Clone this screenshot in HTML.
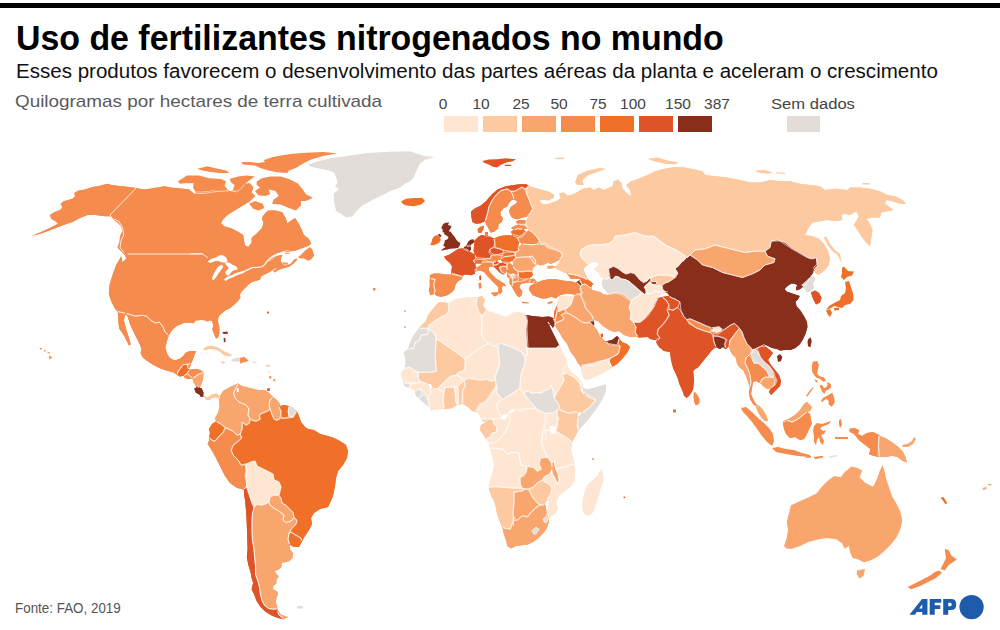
<!DOCTYPE html>
<html><head><meta charset="utf-8">
<style>
html,body{margin:0;padding:0;background:#fff;}
body{width:1000px;height:630px;position:relative;overflow:hidden;font-family:"Liberation Sans",sans-serif;}
.t{position:absolute;white-space:nowrap;line-height:1;transform-origin:0 0;}
#bar{position:absolute;left:0;top:3px;width:1000px;height:5px;background:#000;}
#title{left:15.8px;top:21px;font-size:34.5px;font-weight:bold;color:#000;transform:scaleX(0.982);}
#sub{left:15.5px;top:60.5px;font-size:20px;color:#111;transform:scaleX(1.0275);}
#unit{left:15.1px;top:93px;font-size:17px;color:#5a5a5a;transform:scaleX(1.11);}
.lg{position:absolute;top:116px;height:16px;width:34px;}
.ll{font-size:15.5px;color:#444;top:96px;transform:translateX(-50%);}
#src{left:15px;top:601px;font-size:14px;color:#555;transform:scaleX(0.957);}
</style></head><body>
<div id="bar"></div>
<div class="t" id="title">Uso de fertilizantes nitrogenados no mundo</div>
<div class="t" id="sub">Esses produtos favorecem o desenvolvimento das partes aéreas da planta e aceleram o crescimento</div>
<div class="t" id="unit">Quilogramas por hectares de terra cultivada</div>
<div class="lg" style="left:444px;background:#fee6d3"></div>
<div class="lg" style="left:483px;background:#fdc9a0"></div>
<div class="lg" style="left:522px;background:#f9a66e"></div>
<div class="lg" style="left:561px;background:#f58b4c"></div>
<div class="lg" style="left:600px;background:#f0702a"></div>
<div class="lg" style="left:639px;background:#de5426"></div>
<div class="lg" style="left:678px;background:#8a2e1c"></div>
<div class="lg" style="left:787px;width:33px;background:#e2ddd8"></div>
<div class="t ll" style="left:443px">0</div>
<div class="t ll" style="left:481px">10</div>
<div class="t ll" style="left:521px">25</div>
<div class="t ll" style="left:559px">50</div>
<div class="t ll" style="left:598px">75</div>
<div class="t ll" style="left:633px">100</div>
<div class="t ll" style="left:678px">150</div>
<div class="t ll" style="left:717px">387</div>
<div class="t ll" style="left:771px;transform:scaleX(1.07)">Sem dados</div>
<div class="t" id="src">Fonte: FAO, 2019</div>
<svg id="afp" style="position:absolute;left:900px;top:590px" width="100" height="40" viewBox="0 0 1111 444">
<g fill="#1e5bab">
<circle cx="795" cy="190" r="135"/>
<path fill-rule="evenodd" d="M105 275L245 100L305 100L305 275L247 275L247 245L185 245L165 275ZM213 205L247 205L247 158Z"/>
<path d="M330 100L458 100L458 142L386 142L386 170L448 170L448 210L386 210L386 275L330 275Z"/>
<path fill-rule="evenodd" d="M480 100L565 100Q625 100 625 160Q625 222 565 222L536 222L536 275L480 275ZM536 142L558 142Q575 142 575 161Q575 180 558 180L536 180Z"/>
</g>
</svg>
<svg style="position:absolute;left:0;top:0" width="1000" height="630" viewBox="0 0 1000 630">
<path d="M125.1 314.5L125.4 312.9L126.6 314.8L135.3 317.4L142.3 316.6L145.9 317.3L150.1 321.5L155.3 324.1L156.1 324.2L158.8 323.6L161.6 327.0L164.2 333.1L168.3 336.6L168.7 335.4L171.2 331.2L176.2 326.2L183.8 323.0L190.0 322.5L193.0 323.2L194.5 322.5L195.0 320.8L197.8 320.2L201.5 320.0L204.5 320.2L207.5 321.5L209.2 320.5L211.5 320.8L213.0 324.0L213.2 326.5L212.2 329.0L215.5 337.8L216.5 338.5L218.0 337.8L219.2 334.2L219.5 330.8L219.2 326.5L218.2 322.2L218.0 318.8L219.0 316.2L221.2 313.8L227.2 309.0L227.2 310.0L230.8 307.6L234.4 304.6L238.0 301.0L240.4 297.4L239.8 295.0L241.6 291.4L248.8 284.2L252.4 281.8L257.2 280.6L260.2 279.4L260.8 276.4L269.2 272.2L272.6 270.1L274.6 272.4L278.8 269.8L289.6 266.4L293.2 263.8L296.2 260.8L297.4 258.4L294.4 259.6L292.0 262.4L287.8 265.9L287.8 263.3L285.1 263.7L283.3 262.6L281.6 262.6L280.6 260.2L281.2 257.2L282.4 254.8L273.4 256.9L273.1 255.9L281.2 251.8L284.8 250.7L284.8 252.1L286.1 251.7L289.6 252.2L289.6 250.9L292.0 251.2L295.6 250.6L308.8 245.8L308.6 245.5L311.2 243.8L308.8 238.8L303.8 235.0L301.2 228.8L298.8 223.8L295.0 218.1L287.3 223.2L285.6 218.1L282.2 212.2L275.4 210.5L268.6 210.5L265.2 213.0L261.8 218.1L263.5 223.2L261.8 228.3L256.7 233.4L251.6 237.7L251.6 242.8L248.2 247.0L244.8 245.3L243.1 235.1L238.0 231.7L231.2 228.3L224.4 226.6L221.0 223.2L222.7 219.8L227.8 214.7L247.9 202.3L248.3 202.7L255.0 196.0L251.9 192.9L251.4 193.3L253.3 187.5L249.9 183.3L244.5 184.1L246.6 182.5L244.0 183.1L240.5 187.4L236.0 190.4L232.7 190.1L232.2 191.4L229.3 191.2L228.0 189.8L226.1 189.6L214.1 190.5L203.9 192.2L195.7 192.2L198.6 196.9L198.2 197.2L188.7 189.2L170.0 187.5L165.0 186.2L150.0 188.8L143.8 189.5L136.2 188.0L111.2 185.0L107.5 183.8L100.0 185.8L92.5 187.0L85.0 189.5L78.0 190.8L74.5 193.0L75.0 196.2L72.5 198.8L63.8 201.2L60.5 203.8L62.5 207.5L60.0 210.0L53.8 212.5L50.0 215.0L51.2 218.8L55.5 221.2L58.0 223.8L50.0 228.0L31.2 236.3L42.5 233.0L65.0 224.5L72.5 222.0L80.0 218.0L87.5 215.0L95.0 215.0L105.0 216.2L110.0 216.2L113.8 220.0L117.5 222.5L121.2 226.2L122.5 231.2L120.0 236.2L119.5 242.5L117.5 247.5L125.0 255.0L126.2 258.8L122.5 262.5L121.2 256.2L116.2 265.0L112.5 275.0L109.5 285.0L108.8 293.8L111.2 301.2L115.0 308.8L117.7 311.6L117.8 312.9ZM208.0 261.4L211.6 259.0L215.8 257.8L219.4 255.6L223.0 255.6L226.0 257.8L227.2 260.8L224.8 262.4L221.2 262.0L218.8 260.8L215.2 260.8L211.6 262.4L209.2 262.4ZM225.4 263.8L226.6 262.0L229.6 263.2L236.2 266.8L237.4 269.2L235.0 269.8L232.0 271.0L230.2 273.4L228.4 275.2L226.6 274.6L225.4 272.2L227.2 270.4L229.0 268.0L227.2 265.6ZM217.6 268.0L219.4 266.2L221.8 265.0L223.0 266.8L215.8 277.0L213.4 280.0L212.2 278.8L213.4 275.2ZM224.2 279.2L228.4 276.4L232.0 275.6L235.6 273.4L243.4 271.0L244.0 272.4L236.2 275.2L232.6 277.2L229.0 278.4L225.4 280.6Z" fill="#f58b4c"/>
<path d="M117.8 310.3L116.8 310.6L117.7 311.6L118.5 323.8L119.4 328.9L121.9 332.3L124.5 336.6L129.0 345.6L130.7 344.5L129.9 340.8L126.5 330.6L123.9 320.4L125.4 312.9L127.9 317.0L129.6 323.0L132.1 328.9L138.9 342.5L141.5 348.5L140.6 352.7L142.3 357.0L146.6 360.4L152.5 364.6L159.3 368.0L166.1 370.6L172.9 372.3L178.2 375.5L179.2 372.0L183.8 365.9L190.5 365.1L190.6 364.0L192.5 360.4L195.9 351.0L189.9 351.0L185.7 352.7L183.1 356.1L179.7 358.7L174.6 360.4L169.5 357.8L167.0 353.6L165.3 347.6L167.0 340.8L168.7 335.4L169.4 334.2L166.3 331.5L163.8 325.6L160.0 321.0L159.1 320.8L156.1 321.6L151.6 319.3L146.9 314.9L142.3 314.0L135.6 314.8L127.3 312.3Z" fill="#f58b4c"/>
<path d="M176.9 370.7L176.0 374.1L179.7 376.5L183.8 375.7L184.4 376.9L188.3 374.0L190.7 370.3L190.9 369.5L185.2 370.4L184.9 369.4L189.0 367.7L188.7 367.4L188.6 363.9L188.2 363.3L187.5 363.0L183.0 363.3L182.1 363.8Z" fill="#f0702a"/>
<path d="M187.2 363.1L186.7 363.6L186.6 364.2L187.0 368.5L190.2 367.2L190.6 364.0L191.7 362.0L191.1 361.6L190.4 361.6Z" fill="#f58b4c"/>
<path d="M186.2 372.8L186.1 373.7L186.4 374.3L191.2 378.5L192.5 378.2L192.6 379.1L195.7 377.6L199.0 375.1L203.5 373.6L203.5 372.3L200.1 369.7L195.0 368.9L187.9 370.0Z" fill="#f58b4c"/>
<path d="M183.2 374.9L182.7 375.9L183.8 375.7L184.8 377.9L188.2 379.1L192.5 378.2L192.7 379.5L193.3 379.2L193.7 378.7L193.7 377.9L193.4 377.3L187.8 372.7L186.8 372.8Z" fill="#f58b4c"/>
<path d="M191.8 377.1L191.3 377.7L191.2 378.5L192.5 378.2L193.3 382.5L196.9 387.3L196.8 387.4L200.4 388.0L199.6 387.7L201.8 383.3L203.2 378.2L203.5 372.3L202.7 371.7L198.8 373.1L195.2 375.4Z" fill="#f9a66e"/>
<path d="M204.4 396.9L204.5 396.3L203.2 395.9L203.5 392.7L201.8 388.4L199.6 387.7L200.2 386.5L197.7 385.8L196.1 386.2L196.9 387.3L194.2 388.4L195.9 392.7L199.3 394.4L201.0 396.9L204.1 396.4Z" fill="#8a2e1c"/>
<path d="M203.2 394.9L202.6 395.7L202.7 396.6L204.1 396.4L206.1 399.5L209.5 400.3L212.0 397.8L215.4 397.2L219.3 398.8L219.0 399.9L219.3 399.8L220.0 399.1L221.0 396.1L220.5 395.1L219.9 396.2L216.3 393.5L212.0 394.4L207.8 397.2L203.2 395.9Z" fill="#fdc9a0"/>
<path d="M218.8 395.4L218.1 398.3L219.3 398.8L219.0 400.0L219.6 406.0L218.0 413.0L215.0 418.0L216.2 421.5L215.2 422.1L220.3 425.1L224.3 428.1L232.2 432.1L236.4 436.2L237.3 436.3L240.7 435.1L241.2 434.4L243.3 428.3L243.3 424.6L245.3 426.1L246.1 426.3L249.7 424.1L250.2 423.4L251.3 418.9L249.4 414.8L250.3 409.1L250.0 408.2L246.7 403.9L239.7 400.9L236.2 397.3L235.0 393.1L239.1 384.3L238.0 383.6L230.0 387.0L223.0 391.0L219.9 396.2Z" fill="#f9a66e"/>
<path d="M236.2 384.4L232.3 392.8L233.8 398.5L238.3 403.1L245.2 406.1L247.6 409.3L246.7 415.2L248.8 419.6L249.3 420.1L251.7 421.3L255.8 422.3L256.6 422.2L260.6 420.2L261.1 419.7L261.3 418.8L260.5 415.6L262.6 414.2L267.6 412.2L271.1 409.6L271.3 408.8L270.3 405.0L271.2 400.6L274.0 397.8L273.0 397.0L267.3 391.3L267.3 391.7L265.0 390.0L258.0 390.0L242.0 386.0L238.0 383.6ZM237.2 392.0L237.0 389.0L238.4 388.4L238.6 391.6ZM267.3 390.1L267.3 391.0L268.4 391.0Z" fill="#f9a66e"/>
<path d="M269.0 399.2L267.7 405.1L268.8 409.4L270.8 415.4L273.1 420.0L276.6 421.2L277.5 421.2L280.8 419.0L281.3 418.3L282.3 410.9L280.4 406.9L280.8 405.8L279.3 406.2L280.0 404.0L277.0 400.0L272.1 396.1Z" fill="#f9a66e"/>
<path d="M279.8 404.7L278.9 405.3L277.7 408.0L277.9 408.6L279.7 411.4L279.7 417.6L280.0 418.4L280.7 418.9L285.1 419.3L289.8 418.0L290.2 417.5L290.3 416.9L289.3 411.0L290.2 406.5L288.9 406.3L289.0 406.0L284.0 405.0L279.3 406.2Z" fill="#f0702a"/>
<path d="M288.2 405.9L287.1 411.0L288.2 418.0L288.7 418.5L289.3 418.7L293.5 418.2L294.1 417.6L297.2 412.2L296.8 411.4L293.0 407.0L288.9 406.3L289.0 406.0Z" fill="#e2ddd8"/>
<path d="M211.1 440.9L214.7 442.3L215.8 442.0L220.0 436.9L224.1 432.7L226.3 427.9L226.2 427.2L225.9 426.7L221.8 423.4L216.3 420.3L215.8 420.3L216.2 421.5L212.0 424.0L209.0 429.0L210.0 433.0L209.0 437.0L209.0 438.8Z" fill="#f0702a"/>
<path d="M209.7 436.9L209.1 436.7L209.0 441.0L207.6 444.0L211.0 449.0L216.0 458.0L225.0 476.0L230.0 483.0L237.0 488.0L244.0 489.6L244.0 490.9L244.7 490.7L247.8 486.9L248.3 482.1L246.3 475.9L247.3 469.9L246.3 463.7L245.8 462.9L245.1 462.7L241.6 463.5L239.0 459.2L234.1 454.3L232.4 450.0L234.1 445.8L242.8 438.6L242.8 437.6L241.1 433.7L240.6 433.2L240.0 433.1L237.4 433.9L233.7 430.3L229.5 428.2L225.2 426.7L224.3 427.3L222.3 431.6L218.4 435.5L214.6 439.9L212.6 439.2Z" fill="#f58b4c"/>
<path d="M245.4 462.8L244.8 463.4L244.7 464.0L245.7 472.0L244.7 477.9L245.3 486.2L246.8 491.4L250.8 503.4L253.1 507.9L253.9 508.3L254.6 508.1L257.4 505.4L261.1 506.3L265.6 505.2L270.0 502.8L271.2 497.9L274.3 496.3L279.1 496.3L279.9 495.9L281.3 492.3L282.2 486.6L279.9 481.1L275.2 479.1L274.3 473.8L273.9 473.0L258.0 465.1L256.2 460.4L255.4 459.8L254.7 459.7L250.7 460.7Z" fill="#fee6d3"/>
<path d="M269.3 495.9L268.8 496.6L267.7 502.0L269.0 505.9L273.2 509.0L278.3 512.1L282.6 515.5L281.8 520.4L282.2 521.0L285.3 523.5L286.2 523.7L291.8 522.0L295.3 517.7L294.2 511.9L286.8 504.4L283.2 502.2L282.2 497.9L280.0 494.6L279.2 494.1L273.9 493.7Z" fill="#f9a66e"/>
<path d="M288.3 532.3L287.8 533.0L286.7 539.0L288.6 545.2L289.7 546.0L289.6 544.4L294.0 547.0L299.0 547.0L302.6 540.0L302.0 537.6L291.4 531.2L290.5 531.2Z" fill="#f0702a"/>
<path d="M243.0 488.2L242.7 489.3L244.0 489.6L244.0 494.0L245.0 500.0L246.0 510.0L246.6 520.0L247.6 549.2L246.8 557.2L248.4 565.2L250.8 573.2L251.6 578.0L253.2 582.8L251.6 589.2L254.0 594.0L256.4 600.4L260.4 606.8L265.2 611.6L271.6 615.6L278.0 618.0L283.6 619.3L283.4 619.0L284.7 618.6L279.9 614.1L279.5 612.7L277.2 610.0L277.2 607.9L273.3 607.9L268.9 607.2L265.4 604.4L263.2 599.9L261.7 593.8L260.9 587.3L259.2 580.7L256.9 574.6L256.9 566.7L255.3 549.1L253.7 539.5L253.3 530.0L253.3 522.0L253.7 514.2L255.3 507.2L253.2 502.9L247.7 485.7L247.0 485.2L246.0 485.3Z" fill="#de5426"/>
<path d="M253.0 506.6L251.1 513.8L250.7 521.9L250.7 530.0L251.1 539.7L252.7 549.4L254.3 566.9L254.3 575.1L256.8 581.6L258.3 587.8L259.1 594.3L260.7 600.7L263.3 605.9L268.1 609.7L273.1 610.5L277.2 610.0L277.2 606.0L275.6 602.0L276.4 598.0L278.0 594.0L277.2 591.6L273.2 589.2L273.2 586.0L276.4 583.6L276.4 579.6L278.8 576.4L276.4 574.0L274.8 570.8L278.0 570.0L281.2 567.6L282.0 562.8L289.2 561.2L292.4 558.0L293.2 553.2L290.0 549.2L289.6 544.4L290.9 545.2L289.3 539.3L290.2 533.9L293.0 529.2L297.1 525.0L298.3 520.1L297.9 519.5L294.8 517.0L293.9 516.7L293.1 517.1L290.3 520.3L286.3 521.4L284.4 519.9L285.3 515.5L285.0 514.6L279.8 510.4L274.7 507.3L271.1 504.6L270.1 501.8L269.3 501.1L268.5 501.2L264.5 503.2L261.0 504.1L256.7 503.1Z" fill="#f9a66e"/>
<path d="M277.2 608.7L276.3 609.1L275.9 610.0L277.6 615.3L281.4 618.8L283.6 619.3L283.4 619.0L288.4 617.2L281.2 614.8L277.2 610.0Z" fill="#f9a66e"/>
<path d="M243.1 421.3L241.9 421.2L241.2 422.0L241.1 428.2L239.1 434.2L239.2 434.8L240.4 437.7L237.5 440.4L232.4 444.6L230.2 450.0L230.2 450.9L232.2 456.0L237.4 461.2L240.3 466.1L240.8 466.6L241.6 466.7L245.8 465.6L251.4 463.2L254.2 462.5L255.8 466.5L256.3 467.1L271.8 474.9L272.9 480.7L273.5 481.2L278.0 483.0L279.6 487.0L278.7 489.8L277.7 495.5L279.8 498.9L280.9 503.6L285.2 506.4L291.8 513.0L292.8 518.0L295.5 520.5L294.8 523.3L290.9 527.3L287.8 532.4L287.8 533.6L288.3 534.1L289.1 534.3L290.9 533.5L299.9 538.9L300.8 541.5L301.5 542.2L301.6 541.7L305.0 536.0L309.0 530.0L312.0 524.0L311.0 518.0L314.0 513.0L320.0 509.0L328.0 507.0L330.0 503.0L333.0 496.0L335.0 486.0L336.0 478.0L338.0 471.0L343.0 465.0L347.0 458.0L348.0 451.0L346.0 445.0L340.0 441.0L334.0 438.0L328.0 436.0L320.0 434.0L314.0 430.0L308.0 429.0L305.0 427.0L301.0 422.0L299.0 416.0L296.8 411.4L295.9 410.4L292.6 416.2L285.3 417.1L280.1 417.1L277.2 419.0L275.3 418.3L273.6 414.9L271.5 408.8L270.9 408.2L270.1 408.1L266.8 410.2L261.8 412.2L258.6 414.4L258.1 415.5L258.9 418.7L256.2 420.0L252.9 419.2L250.7 418.1L250.0 418.2L249.2 419.0L248.3 422.6L246.4 423.8Z" fill="#f0702a"/>
<path d="M485.4 222.3L486.5 221.3L488.9 213.5L490.3 206.9L493.5 200.5L497.6 195.0L502.0 191.5L506.9 190.2L510.8 192.5L514.8 192.5L515.4 192.4L521.9 188.4L524.1 189.9L525.1 190.0L527.9 188.7L529.7 186.3L526.2 184.3L519.5 184.3L511.9 185.2L504.3 186.7L497.6 189.5L491.9 194.3L486.2 201.0L480.5 205.7L474.8 208.6L471.0 211.4L471.4 217.1L472.4 221.9L475.7 223.8L480.5 223.3L485.0 221.1Z" fill="#de5426"/>
<path d="M484.0 221.6L485.0 221.1L486.2 224.8L487.5 226.8L487.6 226.6L490.5 232.4L493.8 231.9L498.1 228.6L498.6 224.3L501.9 221.9L502.9 218.1L500.5 215.2L500.5 211.9L503.3 208.6L507.6 206.2L509.0 202.9L511.0 200.5L513.8 199.5L515.0 200.0L514.6 195.7L511.8 190.5L507.7 187.9L507.0 187.8L500.9 189.3L495.7 193.4L491.3 199.3L487.8 206.2L486.4 213.0Z" fill="#f58b4c"/>
<path d="M512.5 199.8L513.8 199.5L517.6 201.4L515.7 203.8L511.0 206.7L509.0 210.5L510.0 214.3L511.9 217.6L517.5 219.7L517.5 219.3L529.2 215.8L531.0 214.1L534.0 209.1L534.1 208.1L532.2 204.3L530.3 198.6L527.9 193.8L525.9 188.5L525.5 188.0L522.4 185.9L521.4 186.0L514.4 190.0L510.9 190.1L510.1 190.7L509.9 191.7L512.1 196.6Z" fill="#f58b4c"/>
<path d="M517.3 225.1L521.4 225.6L526.2 225.5L527.0 224.7L527.5 222.0L527.4 221.4L526.5 220.2L525.8 221.4L524.8 220.0L518.3 220.0L518.9 220.2L515.7 221.4L518.4 224.8ZM519.4 218.7L519.1 218.8L518.8 218.9ZM517.0 219.5L517.5 219.7L517.5 219.4Z" fill="#f58b4c"/>
<path d="M512.8 230.5L514.0 230.8L517.7 229.9L523.2 230.3L524.3 230.2L522.8 229.1L527.1 228.6L528.2 229.3L528.4 228.6L528.4 226.3L527.7 225.5L523.7 224.0L518.6 223.5L517.5 223.7L518.4 224.8L514.8 225.7L511.0 228.1L514.3 229.8Z" fill="#f58b4c"/>
<path d="M515.3 236.5L519.7 237.5L524.1 235.3L526.3 231.7L522.8 229.1L524.6 228.9L523.6 228.2L517.6 227.7L512.8 229.0L514.3 229.8L511.0 231.4L512.6 235.4Z" fill="#f0702a"/>
<path d="M523.9 232.7L521.7 235.6L517.3 236.3L516.4 237.0L516.4 238.0L518.7 242.9L518.9 243.1L519.3 241.7L522.4 244.0L521.3 244.8L522.3 245.3L532.0 246.1L537.9 245.3L538.6 244.8L540.4 240.4L540.4 239.5L536.2 234.4L532.8 231.0L529.3 229.2L528.5 229.1L528.2 229.2L529.4 229.9L526.7 232.1L525.6 231.3Z" fill="#f58b4c"/>
<path d="M466.1 246.3L467.8 246.8L470.2 246.5L471.4 244.0L474.6 242.4L474.8 241.7L474.9 240.3L473.6 241.6L473.6 239.4L470.8 239.7L468.4 241.5Z" fill="#8a2e1c"/>
<path d="M464.6 249.5L466.5 250.5L468.8 252.1L469.4 252.2L470.0 252.0L468.6 251.3L470.8 250.0L471.1 247.6L469.9 247.0L470.5 245.9L469.3 245.4L466.7 245.1L465.9 246.5L463.6 247.0L465.2 248.3L463.3 248.4Z" fill="#8a2e1c"/>
<path d="M473.3 243.0L474.7 242.3L474.1 245.6L473.6 251.2L475.4 254.8L473.4 253.7L474.0 254.9L474.8 258.0L475.1 258.6L475.9 258.9L485.5 259.7L490.5 259.7L491.4 259.3L492.5 255.0L490.3 251.9L491.4 249.8L494.7 248.0L496.1 243.9L496.2 243.3L495.1 238.1L493.8 238.7L490.4 236.8L488.2 236.4L488.1 235.1L485.2 234.5L485.5 236.0L481.6 234.9L478.4 236.8L473.6 241.6Z" fill="#de5426"/>
<path d="M483.3 229.5L483.8 225.7L480.5 226.7L477.6 229.0L478.1 232.4L481.0 232.9Z" fill="#f0702a"/>
<path d="M493.1 238.4L493.9 247.7L494.6 248.7L499.6 250.0L503.7 251.7L515.1 253.3L519.4 251.6L520.0 251.0L520.2 250.2L519.3 246.3L517.6 247.6L519.3 241.7L520.4 242.5L520.5 241.9L518.5 237.1L517.8 236.4L513.2 234.3L512.1 234.2L512.6 235.5L506.4 235.2L500.0 236.0L493.8 238.7Z" fill="#f0702a"/>
<path d="M488.9 248.5L488.5 249.0L488.3 249.8L489.3 252.7L493.4 255.7L498.5 255.7L502.9 254.5L503.5 254.0L505.3 250.9L505.1 250.1L504.5 249.5L500.3 247.9L493.8 246.2L493.0 246.4Z" fill="#de5426"/>
<path d="M502.6 252.1L502.1 252.5L500.7 255.0L500.7 256.0L501.4 256.7L504.8 257.8L509.8 257.3L515.0 256.4L515.6 255.7L516.5 252.5L516.2 251.6L515.4 251.2L506.5 250.7Z" fill="#f0702a"/>
<path d="M483.0 257.9L482.4 258.2L482.0 258.7L481.9 259.3L482.2 260.0L486.5 262.7L492.2 263.2L497.7 261.9L496.4 261.0L500.8 259.2L501.5 260.3L502.0 259.6L503.2 255.9L503.0 255.3L502.6 254.9L498.5 253.6L491.1 254.2L490.1 254.9L489.4 257.5Z" fill="#f58b4c"/>
<path d="M472.9 259.7L472.4 260.4L472.4 261.2L474.1 264.3L475.0 264.8L475.4 264.8L475.1 263.5L482.9 263.5L484.0 262.9L484.5 262.2L484.5 261.6L483.6 259.1L482.6 258.4L476.7 257.9Z" fill="#f0702a"/>
<path d="M500.0 258.2L499.5 258.9L499.6 259.7L500.8 259.2L503.0 262.9L501.7 263.0L507.2 263.7L509.8 263.0L508.6 262.0L512.8 260.8L512.9 262.1L513.5 261.9L517.0 258.4L517.3 257.5L517.1 256.9L515.4 254.6L514.4 254.2L504.5 255.5Z" fill="#f0702a"/>
<path d="M455.6 275.6L461.7 277.3L462.3 277.1L462.8 275.5L465.6 274.4L471.2 275.2L475.2 273.6L474.6 271.8L475.8 271.4L477.3 268.1L477.2 267.3L476.0 268.0L475.1 263.5L476.4 263.5L475.1 261.0L477.1 258.7L477.3 258.1L476.5 254.4L476.1 253.7L474.4 252.8L475.4 254.8L471.2 252.5L468.6 251.3L469.9 250.5L464.9 248.3L458.4 248.8L449.6 254.4L444.0 256.8L446.4 260.0L449.6 262.4L452.0 266.4L451.0 274.1ZM458.2 247.5L457.8 247.7L457.3 248.0L457.9 247.9Z" fill="#de5426"/>
<path d="M429.6 279.4L433.5 280.2L432.3 284.0L433.9 290.4L433.1 293.4L433.3 294.2L434.6 293.8L436.8 296.0L441.6 296.8L447.2 295.2L451.2 292.8L454.4 289.6L455.2 285.6L457.6 281.6L461.6 279.2L462.8 275.6L457.2 274.0L452.1 273.1L451.2 273.1L451.0 274.4L445.6 274.4L439.2 273.6L433.6 273.6L429.6 275.2L430.6 279.3L429.6 279.2Z" fill="#f58b4c"/>
<path d="M435.3 294.5L436.2 290.4L434.9 284.4L436.4 279.9L436.5 279.2L436.1 278.6L435.4 278.2L430.3 277.9L430.6 279.3L429.6 279.2L429.9 285.6L428.8 290.4L430.4 295.2L434.6 293.8Z" fill="#f58b4c"/>
<path d="M475.7 266.6L474.8 267.4L474.7 268.1L475.5 271.5L480.0 270.4L484.0 272.0L487.2 276.0L498.4 287.2L498.4 292.1L497.4 292.1L498.3 293.9L499.0 292.4L500.0 294.4L502.4 291.2L501.6 288.0L503.2 285.6L506.4 286.4L504.8 284.0L496.0 278.4L492.0 274.4L488.8 270.4L488.8 267.2L494.0 266.2L494.1 266.5L494.9 263.0L494.5 262.0L493.9 261.6L488.9 260.6L482.8 261.2L480.2 263.5L483.5 263.5L476.0 268.0Z" fill="#f58b4c"/>
<path d="M492.2 261.7L491.7 262.2L491.5 263.1L492.1 265.3L493.0 266.1L496.5 266.0L500.0 263.9L500.5 263.1L499.7 263.2L496.4 261.0L497.8 260.4L497.1 260.0L496.3 260.1Z" fill="#de5426"/>
<path d="M493.4 264.0L492.8 264.3L492.4 264.9L492.3 265.5L492.7 266.4L494.0 266.2L494.4 267.2L500.0 272.8L503.9 274.8L504.5 274.1L504.4 273.8L501.9 270.6L500.9 268.0L502.6 267.4L506.3 267.7L507.0 267.5L507.6 266.9L508.5 264.0L508.3 263.3L507.8 262.8L503.2 261.6L502.2 261.7L503.0 262.9L499.7 263.2L498.4 262.4L496.1 263.8Z" fill="#de5426"/>
<path d="M499.0 266.3L498.3 267.0L498.3 267.9L500.5 272.2L504.0 274.6L507.2 270.4L507.2 272.6L508.4 271.0L508.5 270.2L508.0 266.4L507.3 265.6L502.6 265.1Z" fill="#f58b4c"/>
<path d="M506.5 262.9L505.9 263.9L505.9 269.6L506.3 271.5L507.2 270.4L507.2 273.8L509.6 276.2L510.1 276.5L510.9 276.4L513.3 275.2L517.9 277.2L518.6 277.2L519.1 276.9L519.5 276.0L519.1 271.1L518.8 270.5L515.7 268.4L513.7 264.7L513.0 264.1L513.1 265.9L508.6 262.0L509.9 261.6L509.2 261.7Z" fill="#f58b4c"/>
<path d="M511.1 274.1L507.2 272.3L507.2 276.8L509.6 278.4L509.6 279.7L510.0 279.6L510.8 278.8L511.7 275.4L511.6 274.8Z" fill="#f58b4c"/>
<path d="M510.6 273.1L509.9 273.6L509.6 274.5L511.1 278.9L511.7 279.2L512.3 279.2L515.4 277.7L515.7 276.6L514.5 273.2L513.6 272.8Z" fill="#e2ddd8"/>
<path d="M509.1 277.2L508.5 277.7L509.6 278.4L509.6 283.2L512.2 287.5L512.7 286.9L514.1 283.3L513.2 277.2L512.7 276.5L512.0 276.3Z" fill="#f58b4c"/>
<path d="M512.3 277.2L511.7 277.7L511.5 278.5L511.8 282.3L512.6 283.3L513.3 283.4L516.5 282.8L519.6 281.1L520.1 280.5L520.1 279.6L518.8 276.3L518.1 275.6L517.3 275.5Z" fill="#f58b4c"/>
<path d="M511.8 260.3L511.5 261.2L512.8 260.8L513.1 265.9L511.8 264.7L511.9 266.0L513.2 269.4L513.7 269.9L517.3 272.1L522.3 272.8L527.2 272.2L532.2 272.5L532.0 271.3L532.8 268.0L537.0 264.8L535.4 263.2L533.0 259.2L529.6 255.8L529.0 255.5L522.2 255.8L515.6 256.7Z" fill="#f9a66e"/>
<path d="M517.9 270.2L517.1 270.5L516.6 271.4L517.1 276.3L519.8 279.7L520.3 280.1L525.6 280.5L528.3 279.7L532.8 275.2L532.0 271.3L532.2 270.2L527.1 269.9L522.4 270.7Z" fill="#f0702a"/>
<path d="M529.1 255.6L528.4 256.3L528.4 257.3L531.2 260.7L532.9 264.3L533.4 264.7L535.3 265.3L536.3 265.0L536.8 264.0L536.5 259.9L536.2 259.2L532.6 254.9L531.7 254.7Z" fill="#f9a66e"/>
<path d="M518.3 245.1L517.1 245.4L516.6 246.3L517.4 249.8L514.5 251.4L513.9 252.2L514.7 258.1L515.0 258.8L516.2 259.2L522.5 258.4L529.0 258.1L531.5 257.5L533.9 260.5L534.3 264.4L534.7 265.0L535.3 265.3L536.4 265.3L537.9 264.2L540.0 265.6L544.0 264.8L548.0 262.4L550.4 264.0L554.4 262.4L561.0 259.1L559.9 261.1L563.7 256.3L563.6 255.5L562.0 251.5L561.5 250.9L554.9 248.4L548.6 246.8L544.3 243.5L537.6 242.7L532.0 243.5L522.2 242.7L521.3 243.2L522.4 244.0L517.6 247.6Z" fill="#f9a66e"/>
<path d="M512.1 282.1L511.6 282.8L511.0 285.5L516.8 295.2L519.2 297.6L521.6 295.2L522.4 291.2L519.2 287.2L520.8 284.0L524.0 283.2L529.2 282.3L530.2 282.5L531.6 280.0L531.7 279.3L531.6 279.1L527.4 280.6L529.7 278.3L525.5 278.7L519.8 280.3L515.6 280.3Z" fill="#f58b4c"/>
<path d="M528.9 280.0L528.3 282.5L529.2 282.3L534.4 283.0L536.9 281.7L533.6 278.4Z" fill="#f58b4c"/>
<path d="M559.4 297.2L561.8 296.0L560.0 295.9ZM582.5 294.9L583.3 294.5L583.7 293.7L582.8 290.0L581.1 285.0L578.3 282.1L577.3 281.8L576.1 282.8L572.0 281.6L564.0 280.8L556.0 279.2L548.0 279.2L541.6 280.8L537.5 282.3L536.5 281.3L533.0 282.9L535.3 283.2L530.4 285.6L528.8 288.8L530.4 292.0L532.8 295.2L541.6 298.4L546.4 298.4L551.2 296.8L556.0 298.4L560.8 293.6L560.9 293.8L560.4 295.0L567.2 293.6L575.9 294.7L575.9 295.4L574.8 295.6Z" fill="#f58b4c"/>
<path d="M418.4 329.1L428.0 329.3L428.6 329.1L431.0 325.9L436.8 321.1L441.6 318.1L447.8 315.0L448.2 314.5L450.3 309.1L449.3 302.6L448.5 303.1L440.0 302.0L437.0 304.0L428.0 315.0L426.0 321.0L419.0 328.0L419.3 328.0Z" fill="#fdc9a0"/>
<path d="M407.1 350.0L408.2 350.3L414.8 349.0L415.3 348.3L416.2 342.9L421.0 340.8L422.1 336.2L428.2 335.3L428.9 334.9L429.3 334.1L429.3 328.4L428.9 327.5L428.0 327.1L419.9 327.1L419.0 328.0L419.3 328.0L413.0 336.0L410.0 343.0L407.8 349.5Z" fill="#e2ddd8"/>
<path d="M404.6 369.2L409.7 368.4L413.3 371.1L417.9 373.3L432.2 373.3L436.4 372.2L437.1 371.7L437.3 370.9L436.3 355.0L437.3 338.7L436.0 333.2L428.6 327.9L427.5 327.8L426.8 328.6L426.7 333.3L420.2 334.3L419.8 335.0L418.9 339.5L414.0 341.6L412.9 347.3L408.3 348.0L407.8 349.5L404.0 352.0L405.6 361.0L404.9 369.0Z" fill="#e2ddd8"/>
<path d="M428.2 324.0L427.7 324.8L427.1 328.8L427.2 329.5L433.8 334.8L434.7 338.7L435.1 339.3L459.2 356.0L464.6 360.2L465.7 360.1L471.8 355.0L488.7 344.1L489.2 343.4L489.3 342.8L489.0 342.2L484.1 337.3L482.3 331.9L483.3 322.8L482.2 314.6L479.2 310.4L477.3 303.9L478.3 297.1L476.9 297.5L477.0 297.0L466.0 297.4L456.0 299.0L448.5 303.1L447.3 302.9L448.1 309.2L446.0 313.4L440.3 316.3Z" fill="#fee6d3"/>
<path d="M476.1 297.1L475.1 304.1L477.2 311.4L480.4 316.2L481.0 316.6L481.8 316.6L484.9 314.9L487.1 310.6L486.2 310.3L483.0 305.0L485.0 300.0L482.0 296.0L476.9 297.5L477.0 297.0Z" fill="#fdc9a0"/>
<path d="M480.9 314.2L480.4 314.6L480.1 315.3L481.1 323.4L480.1 332.7L482.3 339.1L487.6 344.4L494.0 347.3L500.1 344.4L511.5 348.2L520.9 352.9L521.8 355.5L522.5 356.2L527.1 356.3L527.9 355.9L528.3 355.0L527.3 329.1L528.3 320.9L526.7 315.0L525.2 314.8L525.0 314.0L518.0 312.0L512.0 313.0L506.0 317.0L492.0 312.0L486.2 310.3L485.6 309.4L483.1 313.3Z" fill="#fee6d3"/>
<path d="M525.1 314.7L526.1 321.1L525.7 329.1L526.7 348.1L527.2 349.0L528.0 349.3L556.1 349.3L556.8 349.0L559.6 346.3L549.1 325.2L550.3 324.4L553.0 328.0L554.2 325.0L555.1 326.3L556.3 322.9L554.0 317.1L553.9 318.3L549.0 316.6L542.0 317.0L532.0 316.0Z" fill="#8a2e1c"/>
<path d="M527.3 347.1L526.6 347.4L526.1 348.1L526.1 354.1L524.3 354.9L523.8 355.6L523.7 362.8L519.7 374.7L518.7 383.9L518.8 389.6L523.6 393.6L524.3 393.7L527.9 392.4L531.3 394.5L532.1 394.7L536.1 393.7L541.4 394.3L545.6 391.6L549.7 390.1L550.7 388.4L552.8 398.5L553.5 399.2L554.6 399.1L555.1 398.7L557.1 394.6L563.1 384.7L565.2 380.5L565.3 379.7L563.7 374.9L562.4 375.1L562.0 371.2L563.4 371.9L563.3 371.4L567.5 365.5L567.1 364.7L566.0 359.0L558.9 344.8L555.6 347.1Z" fill="#fee6d3"/>
<path d="M497.1 345.1L496.7 346.1L498.7 362.9L496.8 369.6L493.7 376.9L496.0 388.0L494.7 392.5L495.1 393.3L498.0 395.8L500.1 399.3L502.4 400.6L503.1 400.7L513.7 394.1L518.6 390.6L520.5 390.0L521.1 389.4L521.9 375.6L523.6 369.8L526.3 363.2L526.3 356.3L525.8 355.4L524.1 354.5L523.2 351.9L522.8 351.4L512.4 346.2L501.1 342.1L500.2 342.3Z" fill="#e2ddd8"/>
<path d="M464.5 358.5L464.1 359.3L464.1 364.9L462.9 369.9L458.3 370.9L455.7 374.9L455.8 375.5L456.2 376.0L463.2 381.0L463.8 381.3L464.5 381.2L468.2 379.4L479.9 381.3L485.9 380.3L490.9 382.3L496.0 381.2L496.7 380.7L496.9 379.9L496.3 376.7L498.8 370.4L500.9 363.1L498.9 346.4L498.4 345.6L497.8 345.3L494.3 345.1L488.9 342.4L488.0 342.4L479.7 347.3L470.7 353.3Z" fill="#fee6d3"/>
<path d="M437.0 337.8L435.9 337.8L435.4 338.2L435.1 338.8L434.1 354.9L435.0 370.1L431.8 371.1L418.3 371.1L417.4 371.6L417.1 372.4L417.1 379.1L417.6 380.0L421.4 383.1L427.6 385.2L428.5 385.3L427.8 384.0L431.0 384.0L433.2 388.4L431.7 388.4L432.0 388.9L432.7 389.3L436.9 390.3L437.9 389.9L447.9 380.0L451.5 377.2L457.1 376.2L457.6 375.8L459.4 373.2L464.4 372.0L464.9 371.3L466.3 365.4L466.3 359.3L465.9 358.4L461.1 354.3L441.1 340.3Z" fill="#fdc9a0"/>
<path d="M408.0 383.9L414.1 384.3L420.3 383.7L420.9 383.3L421.3 382.6L421.2 382.0L419.7 378.7L419.3 372.9L419.1 372.3L410.2 366.1L405.1 367.2L404.9 369.0L402.4 371.0L401.0 374.6L404.0 384.3Z" fill="#fee6d3"/>
<path d="M403.4 382.1L403.6 383.4L405.0 386.6L408.0 387.4L408.4 387.1L409.6 387.7L412.2 385.5L412.3 384.8L411.9 384.1L408.5 381.8Z" fill="#e2ddd8"/>
<path d="M408.4 381.7L407.8 381.9L407.3 382.3L407.2 383.4L407.6 384.0L409.4 385.2L408.0 386.6L407.7 387.3L408.0 387.4L408.4 387.1L412.0 389.0L414.9 390.9L415.2 392.3L418.2 390.4L421.2 391.1L424.2 395.0L427.9 397.3L428.8 397.0L432.1 393.6L432.3 392.9L431.4 388.4L430.2 388.4L427.8 384.0L429.3 384.0L428.6 383.2L422.4 381.1L414.0 382.1Z" fill="#fee6d3"/>
<path d="M414.2 390.4L414.9 390.9L416.0 396.0L419.1 398.1L419.9 399.0L423.1 395.6L423.3 394.9L422.9 390.3L422.3 389.3L417.9 388.1Z" fill="#e2ddd8"/>
<path d="M418.4 397.6L419.1 398.1L421.6 401.0L425.0 404.0L430.0 407.0L430.1 408.3L431.0 407.8L431.3 406.7L429.2 400.6L425.8 393.4L424.8 393.1L421.7 393.9Z" fill="#e2ddd8"/>
<path d="M427.3 395.6L427.1 396.4L427.1 401.2L428.4 406.0L430.0 407.0L430.4 410.6L438.0 409.4L444.3 409.0L444.4 409.4L445.3 409.2L444.3 401.0L444.9 392.8L444.6 392.1L441.8 389.0L433.0 387.1L432.5 387.1L433.2 388.4L430.2 388.4L429.6 387.3L429.2 387.9L429.1 388.5L430.0 392.6Z" fill="#fee6d3"/>
<path d="M436.4 388.2L436.1 389.1L436.6 390.0L440.3 391.2L443.2 394.0L443.8 394.3L444.4 394.2L444.9 393.9L445.3 393.4L446.1 388.6L454.1 387.9L458.6 387.2L464.6 381.2L464.9 380.7L464.8 380.0L464.4 379.4L460.8 376.4L457.4 374.2L451.1 375.1L446.5 378.4L442.5 382.1Z" fill="#fee6d3"/>
<path d="M444.2 386.5L443.5 386.9L443.1 387.6L442.1 400.9L443.1 409.1L444.3 409.0L444.4 409.4L452.0 408.0L457.0 405.0L458.3 404.7L456.9 400.7L456.3 392.8L455.0 386.2L454.0 385.7Z" fill="#fdc9a0"/>
<path d="M454.1 385.7L453.4 386.2L453.1 387.1L454.1 393.2L454.7 401.2L455.9 405.7L457.0 405.0L459.7 404.4L458.9 386.5L458.6 385.7L457.8 385.3Z" fill="#fee6d3"/>
<path d="M457.0 385.6L456.7 386.5L457.5 404.8L462.8 403.9L463.3 404.2L463.7 391.3L466.3 386.1L465.1 380.3L464.3 379.7L463.3 379.9L460.1 382.5Z" fill="#fdc9a0"/>
<path d="M463.7 379.5L463.2 380.1L463.1 380.7L464.0 385.8L461.5 390.9L461.7 404.1L462.8 403.9L468.0 407.0L472.0 411.0L477.4 412.1L477.9 412.9L480.9 408.0L484.8 406.0L490.0 400.8L493.1 395.7L496.5 389.3L496.8 379.8L496.3 379.3L495.5 379.1L491.5 380.0L486.4 378.1L480.4 379.1L468.4 377.1Z" fill="#fdc9a0"/>
<path d="M479.3 402.9L474.9 409.3L474.7 410.3L475.6 411.7L477.4 412.1L481.0 418.5L482.0 418.5L482.0 419.8L499.5 419.8L500.5 419.4L499.0 419.1L501.8 415.4L498.8 409.6L498.3 405.2L500.1 401.7L502.2 399.1L502.3 398.3L500.0 394.2L497.3 391.9L497.3 385.9L496.8 385.0L495.9 384.7L495.0 385.2L489.9 392.3L486.9 397.2L484.2 400.5Z" fill="#fee6d3"/>
<path d="M495.8 404.5L496.3 410.5L498.4 414.7L500.2 417.5L502.5 414.5L508.7 413.8L508.9 413.5L508.6 411.3L512.0 409.0L516.8 409.5L515.1 410.6L516.5 410.8L519.4 412.6L520.0 412.8L523.5 411.2L527.2 410.3L531.9 409.8L537.1 410.8L537.9 410.4L538.3 409.6L538.1 408.8L533.0 402.2L529.0 398.1L524.0 391.2L520.9 388.1L520.2 387.7L517.4 388.4L502.4 398.3L498.2 400.0Z" fill="#fee6d3"/>
<path d="M523.4 391.3L522.9 391.9L522.7 392.6L523.9 395.7L527.1 399.9L531.0 403.9L536.1 410.4L539.5 411.7L545.0 414.7L545.6 414.8L554.5 413.7L558.0 410.8L560.7 407.0L560.7 406.0L558.1 401.4L555.3 397.6L555.7 392.6L553.7 389.0L552.2 384.5L551.5 383.8L550.7 383.7L550.0 384.2L548.1 388.0L544.4 389.3L540.7 391.7L535.9 391.2L532.2 392.1L528.1 389.7Z" fill="#e2ddd8"/>
<path d="M560.9 383.4L554.9 393.3L552.7 397.9L552.9 398.7L556.1 402.7L558.3 406.8L558.7 410.1L559.4 411.0L564.6 413.1L569.9 414.5L574.1 413.1L577.5 413.5L577.4 412.2L582.7 412.0L581.6 413.4L584.4 413.2L590.9 407.9L597.2 400.5L597.3 399.7L596.7 398.9L592.5 397.8L584.8 394.0L583.6 392.4L584.3 395.4L580.0 390.0L582.2 386.8L582.6 388.5L583.2 387.6L583.0 387.5L583.0 386.1L580.0 381.2L574.8 376.0L568.6 372.8L567.9 372.7L566.0 373.1L568.0 374.0L562.4 375.1L562.3 373.9L561.9 374.3L561.7 375.1L562.6 379.8Z" fill="#fdc9a0"/>
<path d="M561.2 370.8L561.2 371.8L561.7 372.5L562.2 372.7L562.0 371.2L568.0 374.0L565.8 374.4L573.2 378.0L579.3 385.1L580.3 385.3L583.0 384.2L583.0 383.7L579.0 379.0L575.0 375.0L570.0 371.0L567.1 364.7L566.8 363.1L565.9 363.7Z" fill="#fee6d3"/>
<path d="M579.9 382.7L579.1 383.1L578.7 383.9L579.3 388.6L579.8 389.1L580.5 389.3L582.2 386.8L582.8 389.3L583.6 389.1L584.3 388.2L583.0 387.5L583.0 383.7L582.1 382.7Z" fill="#fee6d3"/>
<path d="M481.9 418.3L481.3 418.5L482.0 418.5L482.0 421.6L486.7 421.6L484.5 422.9L486.3 422.9L487.0 422.4L487.3 421.7L487.3 419.6L486.8 418.6L486.1 418.3Z" fill="#e2ddd8"/>
<path d="M490.6 438.2L491.1 437.7L492.9 434.1L496.4 433.2L497.1 432.7L498.3 426.9L498.0 426.2L495.2 423.3L494.2 419.2L493.8 418.6L493.2 418.3L487.8 417.7L487.0 418.2L485.1 421.0L484.1 421.6L486.7 421.6L481.0 425.0L480.0 430.0L483.0 434.0L486.0 439.0L486.3 438.8L486.9 440.0Z" fill="#fdc9a0"/>
<path d="M492.7 418.3L491.9 418.9L491.7 419.7L493.2 424.4L496.0 427.8L495.3 431.3L491.6 432.3L489.5 436.4L485.5 438.1L486.0 439.0L486.3 438.8L488.0 442.0L488.8 442.2L489.1 443.6L492.0 444.3L497.8 442.0L502.0 437.8L506.0 432.8L509.2 426.4L511.3 420.0L510.3 413.8L509.1 414.6L509.0 414.0L505.0 420.0L499.0 419.1L499.9 418.0L498.2 417.7ZM508.8 412.7L508.1 413.1L507.5 413.9L509.0 413.8Z" fill="#fee6d3"/>
<path d="M508.9 413.4L508.8 413.6L508.7 413.8L509.0 413.8ZM509.1 419.8L507.2 425.9L504.3 431.7L500.4 436.5L496.7 440.3L492.2 442.1L489.0 441.7L488.1 442.0L488.8 442.2L490.2 449.3L495.9 449.3L502.3 450.2L506.0 454.8L506.8 455.3L513.1 453.3L517.8 454.1L518.7 460.2L519.7 465.3L520.3 466.1L532.4 468.2L536.1 471.9L536.7 472.3L537.5 472.2L541.7 470.1L542.2 469.5L542.3 468.8L540.3 463.9L541.1 459.2L547.3 458.3L548.0 457.8L548.3 457.1L547.2 453.4L544.2 447.5L542.3 441.9L544.3 430.4L547.2 424.4L549.3 418.2L549.2 417.4L547.1 413.3L546.6 412.8L540.6 409.8L532.2 406.7L515.8 408.7L514.7 409.3L516.8 409.5L509.1 414.6L509.0 414.0L508.7 414.4Z" fill="#fee6d3"/>
<path d="M489.9 447.1L490.0 448.4L494.0 464.0L493.0 472.0L490.0 480.0L489.0 487.2L489.1 488.3L495.0 487.7L513.9 489.3L522.0 489.3L522.8 489.0L523.2 488.4L523.3 487.7L521.3 483.7L521.3 477.9L523.9 477.0L527.1 472.7L528.3 466.2L528.0 465.5L527.3 465.1L522.1 464.3L520.0 452.6L519.2 452.1L513.0 451.1L507.4 452.9L504.0 448.6L503.4 448.2L496.2 447.1Z" fill="#fee6d3"/>
<path d="M519.5 476.2L518.9 476.7L518.7 477.4L519.1 484.2L521.6 489.4L522.3 489.7L528.1 490.3L533.5 488.2L537.8 484.0L542.9 481.0L544.9 478.0L550.0 474.8L550.3 474.4L548.8 474.4L552.3 467.3L552.6 469.8L553.3 468.2L552.2 461.4L548.4 456.6L547.8 456.2L539.9 457.2L539.1 458.1L538.1 464.4L539.7 468.8L537.7 469.8L533.9 466.2L526.9 465.6L526.1 466.4L525.2 471.9L522.6 475.3Z" fill="#f9a66e"/>
<path d="M551.2 461.3L550.7 462.4L551.2 469.5L552.3 467.3L553.0 474.4L551.8 474.4L555.8 484.6L556.5 485.2L557.3 485.3L558.1 484.7L560.3 480.2L559.3 473.6L556.9 467.6L555.5 460.3L554.8 459.8L554.1 459.7Z" fill="#f9a66e"/>
<path d="M555.6 467.8L554.9 468.3L554.7 469.2L557.1 474.8L558.0 480.2L557.5 481.2L556.6 478.8L553.4 473.5L552.9 473.2L553.0 474.4L548.8 474.4L549.4 473.1L548.7 473.3L543.4 476.5L541.7 480.8L541.8 481.5L542.3 482.1L548.1 485.0L550.6 488.3L549.8 493.5L546.0 498.2L545.7 498.9L545.9 499.6L546.6 500.7L547.2 499.3L549.0 502.0L547.5 512.8L546.7 512.8L546.3 510.2L544.7 515.9L544.8 516.6L546.9 520.7L547.9 521.3L548.7 521.1L548.4 519.4L550.0 517.0L555.0 514.0L558.0 508.0L556.0 502.0L559.0 496.0L571.0 486.0L575.0 480.0L575.0 472.0L574.0 463.7L574.4 463.6L574.2 462.7L563.7 465.7Z" fill="#fee6d3"/>
<path d="M528.3 488.3L527.8 489.0L527.7 489.7L528.8 492.6L530.9 496.7L535.1 501.9L539.2 506.0L540.0 506.3L545.5 505.2L544.4 505.2L547.2 499.3L548.1 500.6L548.5 499.7L552.2 494.6L553.3 488.4L553.1 487.7L550.2 483.4L542.4 479.1L541.7 479.3L536.6 482.4L532.6 486.3Z" fill="#fdc9a0"/>
<path d="M513.7 490.7L513.0 491.2L512.7 491.9L512.7 503.9L511.7 512.0L512.7 521.3L513.2 522.0L514.1 522.3L518.6 521.1L522.4 517.4L527.8 518.3L528.6 518.1L529.2 517.6L531.0 513.8L540.4 506.4L540.9 505.4L540.6 504.6L536.6 500.5L532.7 495.4L530.2 489.3L529.6 488.7L524.9 487.7L521.5 489.7Z" fill="#f9a66e"/>
<path d="M505.2 529.6L510.8 530.1L511.5 529.5L512.4 526.6L513.1 527.2L513.8 527.3L514.5 527.0L514.9 526.3L514.3 512.1L515.3 504.0L515.3 493.1L522.5 492.2L525.8 490.4L526.2 489.8L526.2 488.9L525.5 488.2L522.1 487.1L514.1 487.1L495.0 485.5L489.1 486.1L489.0 487.2L489.6 491.0L492.0 498.0L492.1 496.8L495.2 504.4L496.8 512.4L499.2 520.4L502.1 527.1L502.3 527.2L502.6 528.7Z" fill="#fdc9a0"/>
<path d="M502.5 526.3L501.8 526.5L502.3 527.2L504.0 534.8L506.4 541.2L507.2 546.0L511.2 548.4L516.0 546.0L528.0 544.4L534.4 541.2L539.2 537.2L544.0 532.4L547.2 527.6L548.8 522.0L548.4 519.4L549.5 517.7L549.3 516.2L547.7 510.8L547.5 512.8L546.7 512.8L545.6 505.2L544.4 505.2L545.0 503.9L539.8 503.9L535.3 505.7L527.5 515.0L522.0 514.4L517.0 518.5L514.4 515.4L513.8 515.1L513.0 515.2L512.3 516.1L511.5 521.7L509.5 527.7Z" fill="#f9a66e"/>
<path d="M542.4 517.8L542.0 518.4L541.9 519.0L543.0 522.8L543.5 523.2L546.1 524.1L547.2 523.8L548.7 521.1L548.4 519.4L548.9 518.7L546.4 516.2L545.7 515.9L545.0 516.1Z" fill="#e2ddd8"/>
<path d="M531.0 529.9L530.7 530.6L530.8 531.3L532.7 534.9L533.5 535.3L536.1 535.3L537.1 534.7L540.3 529.9L540.5 529.1L539.9 528.1L536.6 526.0L535.8 525.8L535.1 526.2Z" fill="#e2ddd8"/>
<path d="M546.4 428.7L545.4 429.2L541.2 435.4L540.1 442.3L542.2 448.4L545.2 454.5L546.3 457.6L550.7 463.1L551.6 463.3L553.1 462.7L555.0 469.4L555.5 469.8L556.1 469.9L564.3 468.3L574.1 465.1L574.0 463.7L574.4 463.6L571.0 450.0L572.0 443.0L571.7 442.5L572.4 441.3L571.0 439.2L556.5 429.8L555.6 429.7L555.6 434.0L551.0 433.0L550.2 429.1Z" fill="#fee6d3"/>
<path d="M555.6 432.3L569.2 441.0L571.2 443.0L572.0 443.3L571.7 442.5L575.0 437.0L577.9 431.2L579.1 429.8L578.3 426.0L579.3 417.9L579.1 416.2L577.9 417.5L577.4 412.2L578.7 412.2L578.1 411.3L573.9 410.7L570.0 412.0L565.4 410.8L560.3 408.7L556.8 408.9L555.9 409.5L555.7 410.2L555.7 419.1L556.7 424.9L555.6 428.1Z" fill="#fdc9a0"/>
<path d="M545.4 412.3L544.7 412.7L544.3 413.3L543.7 417.8L542.7 421.8L542.8 431.0L543.4 431.5L544.0 431.7L546.5 431.3L550.7 431.6L549.6 426.4L555.6 426.4L555.6 431.9L556.6 431.7L557.3 430.7L557.3 428.1L557.7 424.4L560.3 419.0L558.6 414.6L557.5 410.3L556.9 409.8L556.2 409.7L553.5 411.4Z" fill="#fee6d3"/>
<path d="M541.7 429.7L541.0 430.1L540.7 430.9L541.2 440.5L541.6 441.0L542.3 441.3L546.9 441.2L547.5 440.7L547.7 440.1L547.6 429.9L547.2 429.4L546.5 429.1Z" fill="#fee6d3"/>
<path d="M583.0 385.9L582.0 385.7L581.4 385.9L581.0 386.5L580.9 387.2L581.2 388.2L582.2 386.8L583.8 393.4L584.4 394.1L589.5 397.7L593.7 399.4L588.5 406.6L582.8 409.9L580.9 412.1L582.7 412.0L577.9 417.5L577.8 415.7L577.1 416.6L576.2 423.6L577.8 430.2L578.2 430.8L589.4 417.9L594.9 410.8L599.7 403.7L603.7 396.5L606.0 390.2L606.0 384.6L598.9 386.2L591.7 388.6L586.2 389.4L583.0 387.5Z" fill="#e2ddd8"/>
<path d="M527.5 185.1L525.9 187.5L525.4 194.5L527.8 199.5L529.8 205.3L531.5 208.5L529.1 212.7L527.3 216.3L529.2 215.8L525.8 221.4L525.2 220.6L524.4 224.4L525.8 227.0L525.9 228.7L527.1 228.6L529.4 229.9L528.3 230.8L531.1 233.0L534.2 236.1L538.1 240.7L540.3 244.6L541.0 244.8L544.5 244.4L547.4 247.2L551.5 248.7L560.8 253.4L561.1 255.5L559.0 257.7L558.7 258.5L559.0 260.1L561.0 259.1L558.0 264.5L555.3 266.3L553.2 265.9L552.3 266.4L551.9 266.9L551.7 267.5L552.1 268.5L552.3 268.6L553.8 267.8L556.0 268.5L564.0 272.5L567.0 273.5L568.1 275.0L573.8 275.8L577.6 276.7L581.5 278.2L585.5 280.2L587.9 280.8L589.0 280.4L588.1 279.6L587.0 277.0L584.0 271.0L583.5 268.5L585.5 266.5L588.0 264.5L589.2 263.9L586.9 261.1L584.0 258.7L582.2 255.5L581.4 253.0L582.1 250.8L585.1 248.6L589.4 246.7L594.0 245.8L597.5 246.3L609.2 245.0L614.7 240.9L616.0 237.4L625.3 236.3L634.9 233.9L644.8 237.5L653.3 237.6L659.3 242.3L666.8 247.3L675.6 251.1L687.4 258.8L688.4 258.4L695.6 251.2L705.3 250.0L715.1 246.4L744.8 253.8L755.1 252.6L765.2 252.5L771.1 248.2L772.4 242.4L777.4 241.3L784.4 243.7L790.6 248.6L809.4 259.9L810.3 260.0L815.2 259.0L816.1 265.8L812.7 269.2L812.5 270.3L813.2 271.6L813.5 269.7L816.2 273.8L818.8 275.0L825.0 270.0L828.8 265.0L830.0 257.5L827.5 250.0L823.8 243.8L818.8 238.8L812.5 236.2L805.0 235.0L808.8 227.5L812.5 222.5L827.5 220.0L835.0 221.2L842.5 220.0L841.2 215.0L845.0 213.8L850.0 215.0L856.2 211.2L858.8 216.2L856.2 221.2L853.8 225.0L857.5 230.0L861.2 236.2L866.2 242.5L870.0 246.2L872.5 230.0L870.0 223.8L866.2 218.8L872.5 217.5L880.0 217.5L881.2 212.5L893.8 210.0L885.0 203.8L886.2 200.0L892.5 201.2L900.0 203.8L906.2 203.8L902.5 200.0L895.0 196.2L887.5 195.0L880.0 191.2L870.0 188.8L860.0 187.5L850.0 187.5L847.5 190.0L835.0 188.8L825.0 190.0L820.0 186.2L800.0 183.8L790.0 181.2L780.0 181.2L770.0 180.0L760.0 182.5L750.0 182.5L740.0 180.0L727.5 177.5L705.0 175.0L702.5 171.2L685.0 167.5L675.0 167.0L665.0 168.8L655.0 171.2L647.5 175.0L638.8 178.8L631.2 181.2L626.2 185.0L630.0 190.0L631.2 196.2L627.5 193.8L622.5 188.8L621.2 182.5L617.5 179.5L613.8 181.2L612.5 186.2L603.8 190.0L598.8 187.5L593.8 190.0L590.0 187.5L582.5 188.8L576.8 192.4L572.0 194.8L567.2 195.6L564.0 192.4L559.2 193.2L560.8 198.0L556.0 201.2L549.6 203.6L543.2 204.4L539.2 201.2L541.6 199.6L548.0 200.4L553.6 198.0L554.1 194.8L549.6 191.9L532.0 187.1L529.4 186.2Z" fill="#fdc9a0"/>
<path d="M594.2 243.2L588.6 244.3L583.7 246.4L580.0 249.2L578.8 252.6L578.8 253.4L579.8 256.5L581.9 260.2L585.1 262.9L587.0 265.3L588.0 264.5L593.0 262.0L597.0 262.5L599.0 265.0L596.0 267.0L594.0 269.0L596.0 271.0L599.0 273.0L600.0 276.0L603.7 278.4L603.1 279.5L606.5 280.5L607.5 280.3L609.9 278.4L610.3 277.8L609.9 269.4L613.6 267.6L617.4 269.5L621.9 273.1L625.8 275.0L626.5 275.1L630.8 273.8L633.6 274.5L638.9 280.6L643.2 283.7L647.7 282.1L650.5 279.0L654.7 277.3L658.9 276.0L663.3 276.5L668.5 276.5L674.7 278.2L675.4 278.2L676.1 277.7L679.0 273.3L678.9 272.5L676.8 268.9L679.6 266.7L682.3 263.2L685.0 261.3L688.0 257.2L687.9 256.4L687.5 256.0L677.0 248.9L668.1 245.1L660.8 240.2L654.4 235.1L645.2 234.9L635.2 231.2L624.8 233.7L614.5 235.1L613.8 235.7L612.6 239.2L608.3 242.5L597.5 243.7Z" fill="#fee6d3"/>
<path d="M607.5 267.4L607.0 268.0L606.9 268.7L608.2 274.3L609.1 279.7L609.6 280.5L611.9 281.1L612.7 281.1L615.9 277.6L617.6 277.9L621.3 280.2L624.9 280.7L628.2 282.3L643.7 295.5L644.9 295.5L647.2 293.6L647.4 292.9L646.9 289.5L645.8 287.5L646.3 286.5L650.3 283.0L652.3 279.5L652.4 278.9L652.2 278.2L650.4 277.0L649.7 276.8L649.0 277.0L646.2 280.1L643.6 281.1L640.7 278.9L635.3 272.7L634.8 272.3L630.6 271.3L626.3 272.6L623.3 271.1L618.8 267.5L613.8 265.0L613.1 265.1Z" fill="#8a2e1c"/>
<path d="M607.3 294.9L607.8 295.1L608.6 295.1ZM608.9 295.0L616.3 293.4L620.4 294.2L624.6 296.3L630.8 301.7L631.8 302.0L632.5 301.7L635.1 299.0L638.1 297.7L640.7 295.7L642.7 292.9L642.9 292.2L642.4 291.3L629.6 280.3L625.8 278.4L622.1 277.9L618.6 275.7L615.6 275.1L615.0 275.3L611.9 278.6L611.3 278.4L610.0 276.7L609.2 276.3L608.3 276.5L606.5 278.0L603.8 277.2L603.0 277.4L602.6 277.7L603.7 278.4L601.8 282.1L602.3 285.3L603.6 288.5L606.3 291.2Z" fill="#e2ddd8"/>
<path d="M649.9 277.0L649.4 277.6L649.4 278.3L651.0 282.2L651.7 282.7L655.3 283.1L652.4 284.8L652.0 285.6L652.3 286.5L653.1 287.0L657.8 287.5L661.9 286.5L665.7 284.2L669.4 282.8L673.2 280.4L676.0 278.1L676.3 277.1L676.1 276.4L675.5 275.9L669.0 274.1L663.4 274.0L658.8 273.6L653.8 275.0Z" fill="#fdc9a0"/>
<path d="M644.3 285.3L644.0 285.8L643.5 288.0L644.9 290.3L645.4 294.0L646.3 294.7L650.1 295.1L653.2 294.0L654.8 292.1L657.6 292.4L661.7 293.8L664.9 292.3L665.4 291.6L665.4 290.6L663.6 288.3L662.6 285.1L661.9 284.5L657.8 285.1L653.9 284.7L650.6 281.6L649.6 281.3L648.9 281.6Z" fill="#fee6d3"/>
<path d="M689.0 254.2L688.7 255.1L689.1 255.9L696.7 261.0L702.0 266.2L712.0 268.7L722.0 273.7L742.4 278.8L753.0 275.0L760.6 271.2L765.7 266.2L774.5 263.6L775.0 262.9L776.3 258.8L776.1 258.1L775.5 257.6L768.4 255.2L766.1 250.6L765.3 250.0L755.0 249.9L745.1 251.2L715.1 243.7L704.7 247.5L694.5 248.8Z" fill="#f9a66e"/>
<path d="M567.2 272.2L566.3 272.4L565.8 273.1L567.0 273.5L571.0 279.0L574.0 278.5L577.0 279.0L581.6 278.3L579.6 279.9L581.1 279.6L583.2 277.7L583.2 276.8L582.7 276.1L578.5 274.5L574.3 273.4L570.2 272.9Z" fill="#f58b4c"/>
<path d="M577.4 285.2L579.7 287.0L580.5 287.3L581.1 287.1L582.8 286.0L583.3 284.9L581.5 281.2L579.6 279.9L575.9 282.7Z" fill="#8a2e1c"/>
<path d="M579.7 277.7L579.2 278.7L581.6 278.3L579.3 280.1L579.6 282.5L581.6 285.9L582.7 286.3L584.6 285.4L586.3 286.1L588.4 288.2L590.7 289.3L591.6 289.2L591.0 288.0L592.0 285.0L593.5 284.0L588.1 279.6L587.5 278.3L582.6 276.2L581.9 276.3Z" fill="#f0702a"/>
<path d="M578.7 288.7L580.7 298.3L582.8 304.6L586.0 310.8L590.9 315.7L593.1 321.0L593.5 321.2L593.1 319.8L598.0 321.0L603.0 326.0L609.0 330.0L614.0 332.0L619.0 331.0L624.0 335.0L630.0 337.0L638.2 337.0L638.4 337.4L639.2 337.4L639.2 336.4L636.4 331.8L637.3 327.3L637.2 326.5L634.0 321.2L631.4 318.6L632.3 312.8L630.4 307.0L632.3 301.3L632.2 300.5L631.8 300.0L620.3 292.7L613.7 291.7L608.0 293.6L609.0 295.2L603.0 294.0L600.0 292.0L592.0 290.0L591.0 288.0L591.4 286.8L589.8 285.9L587.7 283.9L584.6 282.7L583.9 282.8L581.8 283.8L580.0 285.1Z" fill="#f9a66e"/>
<path d="M564.2 308.3L563.6 309.0L563.6 309.9L565.9 313.6L569.8 315.4L573.7 317.7L581.9 323.4L586.4 323.9L589.5 323.5L591.8 321.8L593.6 321.4L593.1 319.8L594.5 320.1L593.6 316.5L591.5 312.8L586.7 307.4L585.8 305.8L586.8 303.4L586.7 302.4L582.7 297.1L580.7 293.5L580.1 293.0L579.5 292.9L576.7 293.4L574.5 294.5L575.9 294.7L575.9 295.4L572.7 296.0L571.6 298.6L570.8 301.8L569.7 304.2L566.8 306.7Z" fill="#f9a66e"/>
<path d="M557.1 308.4L556.7 311.7L557.2 312.4L558.0 312.7L560.9 311.8L568.0 308.4L571.5 305.2L572.8 302.2L573.6 299.0L574.8 296.2L574.9 295.6L568.8 296.6L560.0 296.0L557.2 302.2L557.2 305.4L556.3 306.9Z" fill="#fee6d3"/>
<path d="M554.4 310.7L554.9 311.3L555.8 311.5L557.3 311.0L557.9 310.4L559.3 307.0L558.4 304.8L557.8 304.3L557.2 304.1L557.2 305.4L555.6 308.2L555.6 310.4Z" fill="#f0702a"/>
<path d="M552.8 317.9L553.3 320.9L553.8 321.4L554.9 321.4L555.5 320.9L556.4 319.0L558.1 311.3L557.7 310.5L555.9 309.2L555.6 309.1L555.6 310.4L554.4 310.6L553.9 318.3Z" fill="#f0702a"/>
<path d="M556.6 310.6L555.7 311.4L554.1 320.1L554.8 323.1L555.3 323.7L555.9 323.9L559.4 322.6L564.6 319.9L564.9 318.9L564.4 317.0L563.0 315.4L566.9 312.8L567.3 311.9L567.1 311.2L565.5 308.7L564.5 308.1L560.2 309.8Z" fill="#f58b4c"/>
<path d="M631.1 299.8L628.1 307.3L630.1 313.5L629.1 319.2L629.2 319.9L633.6 323.6L640.3 323.3L645.9 318.9L650.7 312.8L652.6 310.9L654.6 307.9L655.5 304.3L659.2 297.8L657.3 298.3L659.7 294.8L663.3 293.9L666.2 292.3L667.4 293.1L668.5 292.3L668.6 291.3L668.2 290.6L667.5 290.3L664.0 290.1L661.4 291.3L658.2 290.1L654.1 289.6L653.3 290.0L651.7 292.0L649.6 292.7L646.4 292.3L644.7 293.0L642.8 291.4L641.8 291.2L641.1 291.6L639.3 293.9L637.3 295.5L634.1 296.9Z" fill="#fee6d3"/>
<path d="M634.1 332.2L634.2 333.0L636.6 337.0L638.2 337.0L638.4 337.4L648.0 337.0L650.0 339.0L657.3 340.5L660.9 338.9L661.3 338.3L661.2 337.4L658.4 333.7L659.2 329.6L663.0 325.8L667.0 320.8L670.3 315.2L668.4 310.0L670.2 305.5L670.3 304.7L666.9 299.0L663.8 296.7L657.3 298.3L658.4 296.6L657.7 296.9L655.2 300.8L653.3 305.8L650.3 309.7L647.4 314.6L644.5 317.4L639.9 321.1L633.3 321.1L632.5 321.5L632.1 322.1L632.2 322.9L634.7 327.6Z" fill="#de5426"/>
<path d="M660.8 297.4L661.2 298.0L665.0 300.9L667.7 305.4L667.7 309.1L668.1 309.9L668.7 310.3L672.7 311.3L673.7 311.1L678.9 307.9L681.2 302.4L681.2 301.5L680.7 300.9L675.5 297.8L669.1 295.1L669.7 295.7L662.0 297.0Z" fill="#de5426"/>
<path d="M669.2 308.1L668.4 308.2L666.7 309.3L666.1 310.1L666.2 310.9L668.0 315.3L665.3 319.7L661.4 324.5L657.2 328.9L656.1 334.2L658.3 338.1L656.0 340.2L657.6 340.5L656.0 342.0L659.0 347.0L664.0 351.0L670.0 352.0L671.0 360.0L673.2 368.4L675.6 373.2L677.6 378.0L679.4 384.0L682.6 391.0L684.0 395.4L686.4 398.0L689.0 396.0L691.2 392.8L693.2 389.0L694.0 379.6L693.2 371.6L694.8 369.2L698.0 367.6L712.0 350.0L716.0 347.0L717.2 347.6L717.3 346.8L715.3 341.6L714.2 335.5L711.8 332.0L704.4 329.8L696.7 326.9L688.9 320.1L685.1 316.2L682.1 310.3L678.6 306.3L677.4 306.2L673.2 309.0Z" fill="#de5426"/>
<path d="M713.1 331.7L712.2 332.0L711.7 333.0L712.4 336.4L712.9 337.1L713.6 337.3L717.8 337.3L722.5 338.8L725.3 340.2L723.7 344.1L724.5 348.2L725.8 349.2L729.0 346.0L729.3 347.5L730.1 346.7L731.2 340.9L740.4 328.8L740.7 327.8L740.3 327.0L735.3 322.6L734.2 322.3L729.3 324.5L723.3 328.9L717.7 332.6Z" fill="#de5426"/>
<path d="M686.5 318.8L685.8 319.4L685.8 320.4L688.0 324.4L695.4 328.7L703.5 331.8L710.7 333.7L711.5 333.6L712.2 333.0L712.3 327.9L712.1 327.3L711.6 326.8L690.4 317.8L689.7 317.7Z" fill="#f58b4c"/>
<path d="M712.7 326.7L711.9 327.3L711.7 328.0L711.7 330.8L712.0 331.4L712.6 331.8L717.2 332.9L722.6 330.8L723.2 330.0L723.3 329.3L722.9 328.7L719.4 325.8Z" fill="#fee6d3"/>
<path d="M713.0 334.7L712.0 335.2L711.7 336.2L712.7 342.4L715.0 347.8L716.0 347.0L720.0 349.0L723.0 347.0L725.8 349.2L726.7 348.3L725.8 344.5L727.3 340.3L727.0 339.2L723.5 336.8L718.4 335.2Z" fill="#8a2e1c"/>
<path d="M728.9 339.7L727.7 345.8L727.9 347.1L729.0 346.0L729.6 349.0L732.0 354.0L736.0 358.0L737.0 364.0L740.0 368.0L743.0 370.0L746.0 376.0L750.0 388.0L749.7 389.3L750.5 389.2L751.3 388.3L752.3 382.1L751.3 374.8L749.2 368.6L746.4 362.8L747.2 358.6L749.9 356.0L753.9 353.0L754.3 352.3L754.2 351.5L752.0 347.2L748.1 343.2L745.2 337.5L743.2 331.5L740.0 327.2L739.2 327.1L738.4 327.6L735.0 331.6Z" fill="#f9a66e"/>
<path d="M555.4 321.8L554.0 323.5L554.1 325.3L554.2 325.0L560.4 334.0L562.0 337.6L566.9 343.6L570.5 352.0L573.5 355.6L575.9 359.2L577.7 362.8L580.2 365.8L581.4 368.1L581.0 368.4L581.1 368.7L582.0 368.2L582.9 366.0L593.8 367.0L594.4 366.7L596.1 364.4L598.7 362.8L606.9 361.1L610.4 359.8L618.6 355.1L619.2 354.6L621.3 346.2L621.0 345.1L620.3 344.7L616.3 343.7L607.7 341.8L606.9 341.0L605.3 341.3L601.4 337.4L602.9 337.0L601.1 335.2L600.5 334.1L599.2 334.4L597.0 330.0L593.0 325.1L594.1 324.4L590.2 321.4L589.6 321.3L586.4 321.7L582.9 321.3L575.1 315.9L570.9 313.4L566.8 311.7L563.1 312.8L560.4 314.2L559.9 315.0L560.0 315.8L562.4 318.1L562.5 318.7L558.7 320.6Z" fill="#f9a66e"/>
<path d="M589.1 321.2L588.7 322.2L589.1 323.1L590.7 324.7L592.5 326.1L593.1 326.3L593.8 326.1L593.0 325.1L594.4 324.2L593.2 320.0L591.3 319.7Z" fill="#8a2e1c"/>
<path d="M605.8 341.4L606.8 344.9L607.4 345.5L616.5 346.7L617.4 346.2L619.1 343.6L620.0 339.6L618.9 338.3L619.0 338.0L617.0 336.0L612.0 340.0Z" fill="#8a2e1c"/>
<path d="M618.3 337.3L617.8 338.0L616.7 343.5L616.9 344.1L619.0 346.7L617.3 353.1L609.6 357.0L607.7 360.7L607.8 361.6L611.1 368.0L612.0 367.4L611.8 367.1L617.0 364.0L622.0 359.0L627.0 353.0L630.0 347.0L627.0 344.0L622.0 342.0Z" fill="#f0702a"/>
<path d="M610.4 361.3L611.3 358.3L610.8 357.4L609.9 357.1L599.7 360.1L591.7 362.1L585.3 363.3L580.8 366.9L581.4 368.1L581.0 368.4L582.0 374.0L584.0 379.0L588.0 380.0L597.0 376.0L605.0 372.0L612.0 367.4L611.8 367.1L613.0 366.4Z" fill="#fee6d3"/>
<path d="M687.4 255.7L686.6 255.5L685.9 255.8L683.2 259.5L680.5 261.2L677.7 264.9L673.9 267.9L673.7 268.5L673.9 269.1L676.3 273.2L674.9 276.3L668.1 280.7L664.4 282.1L661.4 284.9L661.1 285.7L661.4 289.4L663.4 292.1L664.9 293.0L666.2 292.3L667.4 293.0L669.7 295.7L668.2 296.0L671.5 299.4L674.5 300.2L678.8 302.8L679.8 311.1L682.9 317.3L686.2 320.6L687.2 320.9L689.9 320.0L705.5 326.8L710.9 328.8L713.1 328.9L718.7 328.0L721.7 330.3L723.9 330.9L724.8 330.6L730.7 326.3L734.1 324.7L738.4 328.9L740.8 332.2L742.8 338.2L745.8 344.2L749.7 348.1L749.8 350.1L750.7 350.9L755.3 350.3L760.5 348.2L764.1 345.9L764.9 346.1L764.4 345.8L765.2 344.6L772.0 348.0L777.0 349.0L780.0 350.4L785.0 350.0L790.4 350.0L795.4 348.0L799.8 344.2L803.0 339.2L805.6 333.4L807.4 327.2L807.0 322.0L804.2 316.4L800.4 310.6L796.6 306.2L795.4 301.8L798.0 299.2L799.8 296.0L786.4 291.6L784.6 289.0L787.8 285.8L791.6 283.4L794.8 283.8L797.2 285.2L796.0 287.8L796.6 290.4L800.4 289.0L803.2 286.6L804.0 287.7L805.1 286.7L809.2 282.6L811.1 277.6L811.9 276.7L809.6 277.6L813.0 273.0L813.5 269.7L814.6 271.3L815.2 267.6L818.2 264.5L817.7 257.5L817.2 256.6L816.1 256.3L812.9 257.6L806.5 255.8L792.7 247.9L780.5 239.8L773.0 239.7L770.9 240.0L770.3 240.3L770.0 240.9L768.8 246.8L764.1 250.3L763.7 251.3L766.6 257.1L773.4 259.6L772.7 261.4L764.4 263.8L759.2 268.9L752.0 272.6L742.4 276.1L723.0 271.3L713.0 266.3L703.2 263.8L698.3 259.0L690.5 253.8L689.4 253.9Z" fill="#8a2e1c"/>
<path d="M801.0 284.1L800.7 284.9L801.0 285.8L802.2 287.5L803.2 286.6L805.0 289.0L807.0 292.4L810.0 291.6L814.0 288.0L813.0 283.0L815.6 279.0L813.6 276.0L809.6 277.6L811.1 275.6L809.2 276.4ZM811.1 292.3L811.0 292.4L811.0 292.4Z" fill="#e2ddd8"/>
<path d="M810.4 291.3L810.1 291.5L810.0 291.6ZM813.6 300.0L816.0 304.4L820.0 302.4L821.6 298.0L819.0 293.0L815.0 290.4L811.0 292.4L812.0 296.0Z" fill="#de5426"/>
<path d="M750.1 351.0L749.7 352.1L750.7 358.4L753.1 363.9L753.9 364.3L757.5 364.3L762.1 368.0L765.9 371.8L769.3 378.1L769.9 378.3L773.6 378.3L774.4 378.0L774.9 377.0L774.1 371.4L770.0 365.2L764.9 361.1L761.1 356.4L758.9 350.7L755.8 347.9L754.9 347.7L754.2 348.0Z" fill="#e2ddd8"/>
<path d="M756.3 346.9L755.8 347.5L755.7 348.3L759.3 357.7L763.5 362.9L768.4 366.9L772.4 372.6L775.6 380.9L774.0 384.1L770.1 387.0L769.3 388.4L771.0 388.0L769.0 392.0L771.0 395.0L780.0 386.0L781.0 381.0L779.0 375.0L771.0 365.0L768.0 360.0L773.0 353.0L770.0 350.0L764.4 345.8L764.7 345.4L760.8 344.7Z" fill="#de5426"/>
<path d="M745.0 357.2L743.7 363.1L746.8 369.5L748.7 375.3L749.7 382.0L749.1 385.3L750.0 388.0L749.0 392.0L750.0 399.0L753.0 404.0L756.2 406.4L756.5 408.2L757.3 408.3L760.0 406.8L756.0 404.0L753.0 399.0L751.0 394.0L753.0 382.0L756.0 381.0L760.7 383.4L761.1 383.8L763.0 379.9L765.4 378.3L769.5 378.2L770.2 377.6L770.3 376.7L768.0 370.6L763.8 366.4L758.7 362.3L758.1 362.1L754.8 362.1L752.7 357.4L749.8 354.0L749.1 353.7L748.3 353.9Z" fill="#f58b4c"/>
<path d="M761.2 378.4L759.2 382.6L760.7 383.4L763.0 386.0L767.0 389.0L771.0 388.0L770.2 389.5L771.5 389.2L775.1 385.6L776.3 379.9L774.7 376.8L774.2 376.3L765.1 376.1Z" fill="#f9a66e"/>
<path d="M755.5 403.2L754.8 404.0L754.8 405.3L756.2 406.4L756.4 408.0L758.0 412.0L761.0 417.0L765.0 421.0L768.0 421.0L766.0 415.0L763.0 410.0L759.6 406.4L756.0 404.0Z" fill="#f9a66e"/>
<path d="M808.6 411.5L807.0 410.7L806.3 410.9L797.3 417.9L791.9 420.6L788.0 419.0L782.8 421.6L784.0 429.0L786.0 434.0L790.0 438.0L795.0 437.0L800.0 440.0L804.0 439.0L807.0 434.0L809.0 429.0L812.0 424.0L811.0 420.0L810.0 414.0L807.0 412.0Z" fill="#f58b4c"/>
<path d="M782.8 421.6L783.3 422.1L784.0 422.3L786.9 421.7L792.1 423.3L798.6 420.2L807.6 413.2L808.4 412.9L807.0 412.0L810.0 411.0L812.0 407.0L807.0 402.0L804.0 404.0L800.0 410.0L795.0 415.0L790.0 418.0Z" fill="#f9a66e"/>
<path d="M880.3 435.9L879.0 435.4L879.0 435.0L873.0 432.0L867.0 433.0L862.0 436.0L858.0 434.0L859.0 430.0L854.0 428.0L849.0 429.0L850.0 432.0L854.0 434.0L859.6 440.8L870.4 448.9L869.1 454.3L878.0 457.0L879.3 457.0Z" fill="#f58b4c"/>
<path d="M878.1 434.5L877.7 435.3L877.2 446.2L878.5 457.0L886.6 457.0L892.0 455.7L897.4 457.0L902.8 461.1L906.9 462.4L905.5 457.0L902.8 451.6L897.4 446.2L892.0 442.2L885.3 438.1L879.0 435.4L879.0 435.0Z" fill="#f9a66e"/>
<path d="M31.2 236.2L42.5 233.0L53.8 228.8L65.0 224.5L72.5 222.0L80.0 218.0L87.5 215.0L95.0 215.0L105.0 216.2L110.0 216.2L113.8 220.0L117.5 222.5L121.2 226.2L122.5 231.2L120.0 236.2L119.5 242.5L117.5 247.5L121.2 251.2L125.0 255.0L126.2 258.8L122.5 262.5L121.2 256.2L116.2 265.0L112.5 275.0L109.5 285.0L108.8 293.8L111.2 301.2L115.0 308.8L117.7 311.6L127.0 313.6L135.5 316.2L142.3 315.3L146.6 316.2L150.8 320.4L155.9 323.0L159.3 322.1L162.7 326.4L165.3 332.3L168.7 335.4L171.2 331.2L176.2 326.2L183.8 323.0L190.0 322.5L193.0 323.2L194.5 322.5L195.0 320.8L197.8 320.2L201.5 320.0L204.5 320.2L206.2 321.0L207.5 321.5L209.2 320.5L211.5 320.8L213.0 324.0L213.2 326.5L212.2 329.0L213.2 332.0L214.5 335.0L215.5 337.8L216.5 338.5L218.0 337.8L219.2 334.2L219.5 330.8L219.2 326.5L218.2 322.2L218.0 318.8L219.0 316.2L221.2 313.8L223.8 311.8L227.2 309.0L227.2 310.0L230.8 307.6L234.4 304.6L238.0 301.0L240.4 297.4L239.8 295.0L241.6 291.4L245.2 287.8L248.8 284.2L252.4 281.8L257.2 280.6L260.2 279.4L260.8 276.4L264.4 274.6L269.2 272.2L274.0 269.2L276.4 268.6L273.4 271.0L274.6 272.4L278.8 269.8L284.8 268.0L289.6 266.4L293.2 263.8L296.2 260.8L297.4 258.4L294.4 259.6L292.0 262.4L289.6 264.4L284.8 265.0L281.8 263.2L280.6 260.2L281.2 257.2L282.4 254.8L278.8 255.6L274.0 257.8L269.8 260.4L267.4 261.6L269.2 259.0L272.8 256.6L276.4 254.2L281.2 251.8L286.0 250.4L292.0 251.2L295.6 250.6L300.4 248.8L305.2 247.0L307.5 246.2L311.2 243.8L308.8 238.8L303.8 235.0L301.2 228.8L298.8 223.8L295.0 218.1L287.3 223.2L285.6 218.1L282.2 212.2L275.4 210.5L268.6 210.5L265.2 213.0L261.8 218.1L263.5 223.2L261.8 228.3L256.7 233.4L251.6 237.7L251.6 242.8L248.2 247.0L244.8 245.3L244.0 240.2L243.1 235.1L238.0 231.7L231.2 228.3L224.4 226.6L221.0 223.2L222.7 219.8L227.8 214.7L234.6 210.5L243.1 205.4L249.9 201.1L255.0 196.0L251.6 192.6L253.3 187.5L249.9 183.3L244.8 184.1L241.4 188.4L236.3 191.8L226.1 190.9L214.2 191.8L204.0 193.5L193.8 193.5L188.7 189.2L180.2 188.4L170.0 187.5L165.0 186.2L150.0 188.8L143.8 189.5L136.2 188.0L125.0 186.5L117.5 185.8L111.2 185.0L107.5 183.8L100.0 185.8L92.5 187.0L85.0 189.5L78.0 190.8L74.5 193.0L75.0 196.2L72.5 198.8L63.8 201.2L60.5 203.8L62.5 207.5L60.0 210.0L53.8 212.5L50.0 215.0L51.2 218.8L55.5 221.2L58.0 223.8L50.0 228.0L41.2 232.0Z" fill="#f58b4c" fill-rule="evenodd"/>
<path d="M177.7 181.6L180.2 183.8L185.3 183.3L193.8 183.3L193.0 187.5L195.5 191.8L204.0 191.8L212.5 190.6L221.0 190.6L227.8 189.5L224.4 185.8L226.1 181.6L221.0 179.0L209.1 178.2L198.9 175.6L187.0 175.6Z" fill="#f58b4c" fill-rule="evenodd"/>
<path d="M197.2 168.8L202.3 170.5L210.8 171.9L219.3 173.1L229.5 173.1L226.1 170.5L214.2 168.0L207.4 166.3Z" fill="#f58b4c" fill-rule="evenodd"/>
<path d="M229.5 179.0L231.2 182.4L234.6 185.0L232.9 189.5L237.2 190.9L241.4 187.5L245.7 183.3L249.9 179.9L255.0 176.5L246.5 175.6L238.0 176.5Z" fill="#f58b4c" fill-rule="evenodd"/>
<path d="M263.5 160.3L265.2 162.0L258.4 162.9L249.9 162.0L241.4 162.0L243.1 164.6L255.0 165.4L260.1 168.0L268.6 170.5L277.1 172.2L287.3 173.1L289.0 170.5L295.8 168.0L302.6 163.7L311.1 159.5L323.0 156.1L337.5 153.2L323.0 152.1L306.0 152.7L292.4 153.8L280.5 155.5L272.0 157.2Z" fill="#f58b4c" fill-rule="evenodd"/>
<path d="M256.7 181.6L256.7 185.0L260.1 187.5L255.0 190.9L258.4 195.2L265.2 196.0L270.3 194.3L268.6 189.5L275.4 190.9L278.8 196.0L273.7 199.4L272.0 203.7L280.5 204.5L289.0 207.9L295.8 210.5L300.9 205.4L300.9 201.1L306.0 201.1L312.8 197.7L306.0 194.3L302.6 189.2L297.5 183.3L289.0 179.0L280.5 176.5L270.3 176.5L261.8 178.2Z" fill="#f58b4c" fill-rule="evenodd"/>
<path d="M249.1 203.7L253.3 208.8L258.4 210.5L264.4 207.9L262.7 203.7L255.0 201.1Z" fill="#f58b4c" fill-rule="evenodd"/>
<path d="M298.0 257.2L300.4 258.4L304.0 258.4L308.2 260.8L311.2 259.6L314.2 255.4L312.4 249.4L310.0 247.0L305.2 250.6L301.6 254.2Z" fill="#f58b4c" fill-rule="evenodd"/>
<path d="M283.0 262.6L283.0 263.8L287.8 263.8L287.8 262.6Z" fill="#f58b4c" fill-rule="evenodd"/>
<path d="M284.8 252.8L284.8 253.7L289.6 253.7L289.6 252.8Z" fill="#f58b4c" fill-rule="evenodd"/>
<path d="M307.5 165.0L312.5 167.0L320.0 168.8L327.5 170.0L333.8 172.5L336.2 177.5L337.5 182.5L335.0 186.2L338.8 188.8L333.8 193.8L333.8 200.0L335.0 206.2L336.2 211.2L341.2 213.8L346.2 217.5L352.5 216.2L356.2 211.2L362.5 205.5L370.0 201.2L380.0 196.2L390.0 191.2L400.0 187.5L405.0 183.8L410.0 181.2L413.8 177.5L415.0 173.8L417.5 168.8L420.0 163.8L425.0 159.5L435.0 157.0L425.0 156.2L417.5 153.8L410.0 151.2L390.0 151.8L367.5 153.0L350.0 155.5L332.5 158.0L315.0 162.0Z" fill="#e2ddd8" fill-rule="evenodd"/>
<path d="M401.2 201.2L402.5 203.8L406.2 205.5L413.8 206.2L421.2 204.5L425.0 201.2L422.5 198.0L413.8 198.0L406.2 198.8Z" fill="#f0702a" fill-rule="evenodd"/>
<path d="M207.8 261.2L207.8 261.2L207.8 261.2L207.8 261.2L207.8 261.2L207.7 261.3L207.7 261.3L207.7 261.3L207.7 261.3L207.7 261.4L207.7 261.4L207.7 261.4L207.7 261.5L207.7 261.5L207.7 261.5L207.7 261.5L207.8 261.6L207.8 261.6L207.8 261.6L207.8 261.6L209.0 262.6L209.0 262.6L209.1 262.6L209.1 262.6L209.1 262.6L209.1 262.7L209.2 262.7L209.2 262.7L211.6 262.7L211.6 262.7L211.7 262.7L211.7 262.6L211.7 262.6L215.3 261.1L218.7 261.1L221.1 262.3L221.1 262.3L221.1 262.3L221.1 262.3L221.2 262.3L224.8 262.7L224.8 262.7L224.8 262.7L224.9 262.7L224.9 262.6L224.9 262.6L224.9 262.6L225.0 262.6L227.4 261.1L227.4 261.0L227.4 261.0L227.4 261.0L227.4 261.0L227.5 260.9L227.5 260.9L227.5 260.9L227.5 260.9L227.5 260.8L227.5 260.8L227.5 260.8L227.5 260.7L227.5 260.7L227.5 260.7L226.3 257.7L226.3 257.7L226.3 257.6L226.2 257.6L226.2 257.6L226.2 257.6L226.2 257.6L223.2 255.4L223.2 255.4L223.1 255.4L223.1 255.4L223.1 255.3L223.0 255.3L223.0 255.3L219.4 255.3L219.4 255.3L219.3 255.3L219.3 255.4L219.3 255.4L219.3 255.4L219.2 255.4L215.7 257.5L211.5 258.7L211.5 258.7L211.5 258.7L211.4 258.8Z" fill="#ffffff" fill-rule="evenodd"/>
<path d="M219.3 265.9L219.2 265.9L219.2 266.0L219.2 266.0L217.4 267.8L217.4 267.8L217.3 267.8L215.5 270.8L215.5 270.9L213.1 275.1L213.1 275.1L213.1 275.1L211.9 278.7L211.9 278.7L211.9 278.8L211.9 278.8L211.9 278.8L211.9 278.9L211.9 278.9L211.9 278.9L211.9 278.9L212.0 279.0L212.0 279.0L212.0 279.0L213.2 280.2L213.2 280.2L213.2 280.3L213.3 280.3L213.3 280.3L213.3 280.3L213.3 280.3L213.4 280.3L213.4 280.3L213.4 280.3L213.5 280.3L213.5 280.3L213.5 280.3L213.5 280.3L213.6 280.2L213.6 280.2L213.6 280.2L213.6 280.2L216.0 277.2L216.1 277.2L218.4 273.6L221.4 269.4L223.2 267.0L223.3 267.0L223.3 266.9L223.3 266.9L223.3 266.9L223.3 266.9L223.3 266.8L223.3 266.8L223.3 266.8L223.3 266.7L223.3 266.7L223.3 266.7L223.3 266.7L223.3 266.6L222.1 264.8L222.0 264.8L222.0 264.8L222.0 264.8L222.0 264.8L221.9 264.7L221.9 264.7L221.9 264.7L221.9 264.7L221.8 264.7L221.8 264.7L221.8 264.7L221.7 264.7L221.7 264.7L221.7 264.7L221.7 264.7Z" fill="#ffffff" fill-rule="evenodd"/>
<path d="M226.7 261.7L226.7 261.7L226.7 261.7L226.6 261.7L226.6 261.7L226.6 261.7L226.5 261.7L226.5 261.7L226.5 261.7L226.5 261.7L226.4 261.8L226.4 261.8L226.4 261.8L226.4 261.8L226.4 261.8L225.2 263.6L225.1 263.7L225.1 263.7L225.1 263.7L225.1 263.7L225.1 263.8L225.1 263.8L225.1 263.8L225.1 263.9L225.1 263.9L225.1 263.9L225.1 263.9L225.2 264.0L225.2 264.0L225.2 264.0L227.0 265.8L228.6 268.0L227.0 270.2L225.2 272.0L225.2 272.0L225.2 272.0L225.1 272.1L225.1 272.1L225.1 272.1L225.1 272.1L225.1 272.2L225.1 272.2L225.1 272.2L225.1 272.3L225.1 272.3L225.1 272.3L225.1 272.3L226.3 274.7L226.3 274.8L226.4 274.8L226.4 274.8L226.4 274.8L226.4 274.8L226.5 274.9L226.5 274.9L226.5 274.9L228.3 275.5L228.3 275.5L228.4 275.5L228.4 275.5L228.4 275.5L228.5 275.5L228.5 275.5L228.5 275.5L228.5 275.5L228.6 275.5L228.6 275.4L228.6 275.4L230.4 273.6L230.4 273.6L232.2 271.2L235.1 270.1L237.5 269.5L237.5 269.5L237.5 269.5L237.6 269.5L237.6 269.4L237.6 269.4L237.6 269.4L237.6 269.4L237.7 269.4L237.7 269.3L237.7 269.3L237.7 269.3L237.7 269.2L237.7 269.2L237.7 269.2L237.7 269.2L237.7 269.1L237.7 269.1L237.7 269.1L236.5 266.7L236.5 266.6L236.4 266.6L236.4 266.6L236.4 266.6L236.4 266.6L236.4 266.5L236.3 266.5L232.7 264.7L229.8 262.9L229.7 262.9L229.7 262.9Z" fill="#ffffff" fill-rule="evenodd"/>
<path d="M224.0 278.9L224.0 278.9L224.0 278.9L224.0 279.0L224.0 279.0L223.9 279.0L223.9 279.0L223.9 279.1L223.9 279.1L223.9 279.1L223.9 279.2L223.9 279.2L223.9 279.2L223.9 279.2L223.9 279.3L223.9 279.3L224.0 279.3L224.0 279.4L225.2 280.8L225.2 280.8L225.2 280.8L225.2 280.9L225.3 280.9L225.3 280.9L225.3 280.9L225.4 280.9L225.4 280.9L225.4 280.9L225.4 280.9L225.5 280.9L225.5 280.9L225.5 280.9L225.6 280.9L229.1 278.7L232.7 277.5L232.7 277.5L232.7 277.5L236.3 275.5L239.9 274.3L239.9 274.3L244.1 272.7L244.1 272.7L244.2 272.7L244.2 272.7L244.2 272.7L244.2 272.6L244.2 272.6L244.3 272.6L244.3 272.6L244.3 272.5L244.3 272.5L244.3 272.5L244.3 272.4L244.3 272.4L244.3 272.4L244.3 272.4L244.3 272.3L243.7 270.9L243.7 270.9L243.7 270.8L243.6 270.8L243.6 270.8L243.6 270.8L243.6 270.7L243.5 270.7L243.5 270.7L243.5 270.7L243.5 270.7L243.4 270.7L243.4 270.7L243.4 270.7L243.3 270.7L243.3 270.7L239.1 272.2L235.5 273.1L235.5 273.1L235.5 273.1L235.4 273.1L231.9 275.3L228.3 276.1L228.3 276.1L228.3 276.1L228.3 276.1L228.2 276.2Z" fill="#ffffff" fill-rule="evenodd"/>
<path d="M117.7 311.6L118.2 317.0L118.5 323.8L119.4 328.9L121.9 332.3L124.5 336.6L127.0 341.7L129.0 345.6L130.7 344.5L129.9 340.8L128.2 335.7L126.5 330.6L125.3 325.5L123.9 320.4L125.0 315.3L126.7 315.0L127.9 317.0L129.6 323.0L132.1 328.9L135.5 335.7L138.9 342.5L141.5 348.5L140.6 352.7L142.3 357.0L146.6 360.4L152.5 364.6L159.3 368.0L166.1 370.6L172.9 372.3L177.2 374.8L178.0 371.4L180.6 368.0L183.1 364.6L187.4 364.3L190.8 363.8L192.5 360.4L194.2 356.1L195.9 351.0L189.9 351.0L185.7 352.7L183.1 356.1L179.7 358.7L174.6 360.4L169.5 357.8L167.0 353.6L165.3 347.6L167.0 340.8L168.7 335.4L165.3 332.3L162.7 326.4L159.3 322.1L155.9 323.0L150.8 320.4L146.6 316.2L142.3 315.3L135.5 316.2L127.0 313.6Z" fill="#f58b4c" fill-rule="evenodd"/>
<path d="M178.0 371.4L177.2 374.8L179.7 376.5L184.0 375.7L187.4 373.1L189.6 369.7L187.4 368.0L187.4 364.3L183.1 364.6L180.6 368.0Z" fill="#f0702a" fill-rule="evenodd"/>
<path d="M187.9 364.3L188.2 368.0L190.2 367.2L190.8 362.9Z" fill="#f58b4c" fill-rule="evenodd"/>
<path d="M189.6 369.7L187.4 373.4L189.9 375.7L192.5 377.9L195.0 376.5L198.4 374.0L203.5 372.3L200.1 369.7L195.0 368.9Z" fill="#f58b4c" fill-rule="evenodd"/>
<path d="M184.0 376.0L184.8 377.9L188.2 379.1L192.5 378.2L189.9 376.2L187.4 374.0Z" fill="#f58b4c" fill-rule="evenodd"/>
<path d="M192.5 378.2L193.3 382.5L195.9 385.9L200.1 386.7L201.8 383.3L203.2 378.2L203.5 372.8L199.3 374.3L195.9 376.5Z" fill="#f9a66e" fill-rule="evenodd"/>
<path d="M194.2 388.4L195.9 392.7L199.3 394.4L201.0 396.9L203.2 396.6L203.5 392.7L201.8 388.4L197.6 387.0Z" fill="#8a2e1c" fill-rule="evenodd"/>
<path d="M203.8 396.1L206.1 399.5L209.5 400.3L212.0 397.8L215.4 397.2L218.8 398.6L219.7 396.1L216.3 393.5L212.0 394.4L207.8 397.2Z" fill="#fdc9a0" fill-rule="evenodd"/>
<path d="M202.7 349.3L205.2 350.2L209.5 349.0L215.4 349.6L220.5 351.9L223.9 355.3L229.0 356.4L232.4 355.3L229.0 353.6L223.9 351.0L218.0 347.6L212.0 345.6L206.9 346.2Z" fill="#fdc9a0" fill-rule="evenodd"/>
<path d="M222.2 332.3L223.6 334.0L226.5 333.7L228.2 334.0L227.3 331.5Z" fill="#8a2e1c" fill-rule="evenodd"/>
<path d="M223.6 338.3L223.9 342.5L225.6 341.7L225.3 337.7Z" fill="#8a2e1c" fill-rule="evenodd"/>
<path d="M220.2 361.7L223.1 363.8L225.6 362.6L223.1 361.2Z" fill="#fdc9a0" fill-rule="evenodd"/>
<path d="M231.6 359.5L231.6 361.5L235.8 361.5L240.1 362.1L240.1 357.8L235.8 357.8Z" fill="#e2ddd8" fill-rule="evenodd"/>
<path d="M240.1 357.8L240.1 363.8L242.6 362.6L246.0 362.1L248.6 360.4L244.3 357.0Z" fill="#f58b4c" fill-rule="evenodd"/>
<path d="M252.8 361.5L252.8 362.9L256.5 362.9L256.5 361.5Z" fill="#e2ddd8" fill-rule="evenodd"/>
<path d="M266.1 364.9L266.1 366.6L269.8 366.6L269.8 364.9Z" fill="#fdc9a0" fill-rule="evenodd"/>
<path d="M268.1 371.4L268.1 372.8L269.8 372.8L269.8 371.4Z" fill="#fdc9a0" fill-rule="evenodd"/>
<path d="M269.0 376.2L269.0 378.5L271.2 378.5L271.2 376.2Z" fill="#f58b4c" fill-rule="evenodd"/>
<path d="M273.5 379.1L273.5 381.3L275.2 381.3L275.2 379.1Z" fill="#f58b4c" fill-rule="evenodd"/>
<path d="M267.3 388.1L267.3 391.0L269.8 391.0L269.8 388.1Z" fill="#de5426" fill-rule="evenodd"/>
<path d="M266.9 311.6L266.9 313.6L269.0 313.6L269.0 311.6Z" fill="#f0702a" fill-rule="evenodd"/>
<path d="M49.2 355.6L49.2 359.8L52.4 357.2Z" fill="#f58b4c" fill-rule="evenodd"/>
<path d="M40.0 348.0L40.0 349.6L41.8 349.6L41.8 348.0Z" fill="#f58b4c" fill-rule="evenodd"/>
<path d="M44.0 350.2L44.0 351.6L45.8 351.6L45.8 350.2Z" fill="#f58b4c" fill-rule="evenodd"/>
<path d="M47.2 351.6L47.6 352.8L50.0 353.8L50.0 352.8Z" fill="#f58b4c" fill-rule="evenodd"/>
<path d="M373.0 288.0L373.0 290.5L375.5 290.5L375.5 288.0Z" fill="#f58b4c" fill-rule="evenodd"/>
<path d="M220.0 396.0L219.0 400.0L219.6 406.0L218.0 413.0L215.0 418.0L216.0 421.0L221.0 424.0L225.0 427.0L229.0 429.0L233.0 431.0L237.0 435.0L240.0 434.0L242.0 428.0L242.0 422.0L246.0 425.0L249.0 423.0L250.0 419.0L248.0 415.0L249.0 409.0L246.0 405.0L239.0 402.0L235.0 398.0L233.6 393.0L236.0 388.0L238.0 383.6L230.0 387.0L223.0 391.0Z" fill="#f9a66e" fill-rule="evenodd"/>
<path d="M238.0 383.6L236.0 388.0L233.6 393.0L235.0 398.0L239.0 402.0L246.0 405.0L249.0 409.0L248.0 415.0L250.0 419.0L252.0 420.0L256.0 421.0L260.0 419.0L259.0 415.0L262.0 413.0L267.0 411.0L270.0 409.0L269.0 405.0L270.0 400.0L273.0 397.0L269.0 393.0L265.0 390.0L258.0 390.0L250.0 388.0L242.0 386.0Z" fill="#f9a66e" fill-rule="evenodd"/>
<path d="M236.9 388.7L236.9 388.7L236.8 388.8L236.8 388.8L236.8 388.8L236.8 388.8L236.8 388.8L236.7 388.9L236.7 388.9L236.7 388.9L236.7 388.9L236.7 389.0L236.7 389.0L236.7 389.0L236.9 392.0L236.9 392.0L236.9 392.1L236.9 392.1L236.9 392.1L236.9 392.2L237.0 392.2L237.0 392.2L237.0 392.2L237.0 392.2L237.1 392.3L237.1 392.3L237.1 392.3L237.1 392.3L237.2 392.3L237.2 392.3L237.2 392.3L237.3 392.3L237.3 392.3L238.7 391.9L238.7 391.9L238.7 391.9L238.8 391.9L238.8 391.8L238.8 391.8L238.8 391.8L238.8 391.8L238.9 391.7L238.9 391.7L238.9 391.7L238.9 391.7L238.9 391.6L238.9 391.6L238.9 391.6L238.7 388.4L238.7 388.4L238.7 388.3L238.7 388.3L238.7 388.3L238.7 388.2L238.6 388.2L238.6 388.2L238.6 388.2L238.6 388.2L238.5 388.1L238.5 388.1L238.5 388.1L238.5 388.1L238.4 388.1L238.4 388.1L238.4 388.1L238.3 388.1L238.3 388.1L238.3 388.1Z" fill="#ffffff" fill-rule="evenodd"/>
<path d="M270.0 400.0L269.0 405.0L270.0 409.0L272.0 415.0L274.0 419.0L277.0 420.0L280.0 418.0L281.0 411.0L279.0 407.0L280.0 404.0L277.0 400.0L273.0 397.0Z" fill="#f9a66e" fill-rule="evenodd"/>
<path d="M280.0 406.0L279.0 408.0L281.0 411.0L281.0 417.6L285.0 418.0L289.0 417.0L288.0 411.0L289.0 406.0L284.0 405.0Z" fill="#f0702a" fill-rule="evenodd"/>
<path d="M289.4 406.4L288.4 411.0L289.4 417.4L293.0 417.0L296.4 411.0L293.0 407.0Z" fill="#e2ddd8" fill-rule="evenodd"/>
<path d="M209.0 429.0L210.0 433.0L209.0 437.0L212.0 440.0L215.0 441.0L219.0 436.0L223.0 432.0L225.0 427.6L221.0 424.4L216.0 421.6L212.0 424.0Z" fill="#f0702a" fill-rule="evenodd"/>
<path d="M209.0 438.0L209.0 441.0L207.6 444.0L211.0 449.0L216.0 458.0L221.0 468.0L225.0 476.0L230.0 483.0L237.0 488.0L244.0 489.6L246.6 486.4L247.0 482.0L245.0 476.0L246.0 470.0L245.0 464.0L241.0 465.0L238.0 460.0L233.0 455.0L231.0 450.0L233.0 445.0L238.0 441.0L241.6 438.0L240.0 434.4L237.0 435.4L233.0 431.4L229.0 429.4L225.4 428.0L223.4 432.4L219.4 436.4L215.0 441.4L212.0 440.4Z" fill="#f58b4c" fill-rule="evenodd"/>
<path d="M246.0 464.0L247.0 472.0L246.0 478.0L246.6 486.0L248.0 491.0L250.0 497.0L252.0 503.0L254.0 507.0L257.0 504.0L261.0 505.0L265.0 504.0L269.0 502.0L270.0 497.0L274.0 495.0L279.0 495.0L280.0 492.0L281.0 487.0L279.0 482.0L274.0 480.0L273.0 474.0L269.0 472.0L263.0 469.0L257.0 466.0L255.0 461.0L251.0 462.0Z" fill="#fee6d3" fill-rule="evenodd"/>
<path d="M270.0 497.0L269.0 502.0L270.0 505.0L274.0 508.0L279.0 511.0L284.0 515.0L283.0 520.0L286.0 522.4L291.0 521.0L294.0 517.4L293.0 512.4L289.0 508.4L286.0 505.4L282.0 503.0L281.0 498.4L279.0 495.4L274.0 495.0Z" fill="#f9a66e" fill-rule="evenodd"/>
<path d="M289.0 533.4L288.0 539.0L289.6 544.4L294.0 547.0L299.0 547.0L301.6 542.0L301.0 538.4L296.0 535.4L291.0 532.4Z" fill="#f0702a" fill-rule="evenodd"/>
<path d="M244.0 489.0L244.0 494.0L245.0 500.0L246.0 510.0L246.6 520.0L247.0 530.0L247.3 539.6L247.6 549.2L246.8 557.2L248.4 565.2L250.8 573.2L251.6 578.0L253.2 582.8L251.6 589.2L254.0 594.0L256.4 600.4L260.4 606.8L265.2 611.6L271.6 615.6L278.0 618.0L283.6 619.3L282.0 617.7L278.8 614.8L277.2 610.0L277.2 609.2L273.2 609.2L268.4 608.4L264.4 605.2L262.0 600.4L260.4 594.0L259.6 587.6L258.0 581.2L255.6 574.8L255.6 566.8L254.8 558.8L254.0 549.2L252.4 539.6L252.0 530.0L252.0 522.0L252.4 514.0L254.0 507.4L252.0 503.4L250.0 497.4L248.0 491.4L246.6 486.4Z" fill="#de5426" fill-rule="evenodd"/>
<path d="M254.0 507.4L252.4 514.0L252.0 522.0L252.0 530.0L252.4 539.6L254.0 549.2L254.8 558.8L255.6 566.8L255.6 574.8L258.0 581.2L259.6 587.6L260.4 594.0L262.0 600.4L264.4 605.2L268.4 608.4L273.2 609.2L277.2 608.7L277.2 606.0L275.6 602.0L276.4 598.0L278.0 594.0L277.2 591.6L273.2 589.2L273.2 586.0L276.4 583.6L276.4 579.6L278.8 576.4L276.4 574.0L274.8 570.8L278.0 570.0L281.2 567.6L282.0 562.8L289.2 561.2L292.4 558.0L293.2 553.2L290.0 549.2L289.6 544.8L288.0 539.4L289.0 533.4L292.0 528.4L296.0 524.4L297.0 520.4L294.0 518.0L291.0 521.4L286.0 522.8L283.0 520.4L284.0 515.4L279.0 511.4L274.0 508.4L270.0 505.4L269.0 502.4L265.0 504.4L261.0 505.4L257.0 504.4Z" fill="#f9a66e" fill-rule="evenodd"/>
<path d="M277.2 610.0L278.8 614.8L283.6 619.0L288.4 617.2L281.2 614.8Z" fill="#f9a66e" fill-rule="evenodd"/>
<path d="M296.4 606.8L297.2 608.4L302.0 608.4L303.6 606.8L300.4 605.8Z" fill="#e2ddd8" fill-rule="evenodd"/>
<path d="M242.4 422.4L242.4 428.4L240.4 434.4L242.0 438.0L238.4 441.4L233.4 445.4L231.4 450.4L233.4 455.4L238.4 460.4L241.4 465.4L245.4 464.4L251.0 462.0L255.0 461.0L257.0 466.0L263.0 469.0L269.0 472.0L273.0 474.0L274.0 480.0L279.0 482.0L281.0 487.0L280.0 490.0L279.0 495.4L281.0 498.4L282.0 503.0L286.0 505.4L289.0 508.4L293.0 512.4L294.0 517.4L297.0 520.0L296.0 524.0L292.0 528.0L289.0 533.0L291.0 532.0L296.0 535.0L301.0 538.0L302.0 541.0L305.0 536.0L309.0 530.0L312.0 524.0L311.0 518.0L314.0 513.0L320.0 509.0L328.0 507.0L330.0 503.0L333.0 496.0L335.0 486.0L336.0 478.0L338.0 471.0L343.0 465.0L347.0 458.0L348.0 451.0L346.0 445.0L340.0 441.0L334.0 438.0L328.0 436.0L320.0 434.0L314.0 430.0L308.0 429.0L305.0 427.0L301.0 422.0L299.0 416.0L296.8 411.4L293.4 417.4L289.4 417.8L285.4 418.4L280.4 418.4L277.4 420.4L274.4 419.4L272.4 415.4L270.4 409.4L267.4 411.4L262.4 413.4L259.4 415.4L260.4 419.4L256.4 421.4L252.4 420.4L250.4 419.4L249.4 423.4L246.4 425.4Z" fill="#f0702a" fill-rule="evenodd"/>
<path d="M482.4 160.9L484.0 162.8L488.8 164.4L492.8 166.8L496.8 167.6L501.6 164.4L506.4 162.5L512.8 161.2L516.0 159.3L506.4 158.3L496.8 159.3L488.8 159.6Z" fill="#de5426" fill-rule="evenodd"/>
<path d="M504.8 164.7L504.8 166.0L511.2 166.0L511.2 164.7Z" fill="#de5426" fill-rule="evenodd"/>
<path d="M554.4 157.7L556.0 159.3L564.0 159.0L564.0 157.4Z" fill="#fdc9a0" fill-rule="evenodd"/>
<path d="M471.0 211.4L471.4 217.1L472.4 221.9L475.7 223.8L480.5 223.3L485.2 221.0L487.6 213.1L489.0 206.5L492.4 199.8L496.7 194.1L501.4 190.3L507.1 188.8L511.1 191.2L514.8 191.2L519.5 188.4L521.9 186.9L524.8 188.8L527.1 187.6L528.6 185.7L526.2 184.3L519.5 184.3L511.9 185.2L504.3 186.7L497.6 189.5L491.9 194.3L486.2 201.0L480.5 205.7L474.8 208.6Z" fill="#de5426" fill-rule="evenodd"/>
<path d="M485.2 221.9L486.2 224.8L488.1 227.6L490.5 232.4L493.8 231.9L498.1 228.6L498.6 224.3L501.9 221.9L502.9 218.1L500.5 215.2L500.5 211.9L503.3 208.6L507.6 206.2L509.0 202.9L511.0 200.5L513.8 199.5L513.3 196.2L511.0 191.4L507.1 189.0L501.4 190.5L496.7 194.3L492.4 200.0L489.0 206.7L487.6 213.3Z" fill="#f58b4c" fill-rule="evenodd"/>
<path d="M513.8 199.5L514.8 200.0L517.6 201.4L515.7 203.8L511.0 206.7L509.0 210.5L510.0 214.3L511.9 217.6L515.7 219.0L521.4 218.1L526.2 216.7L530.0 213.3L532.9 208.6L531.0 204.8L529.0 199.0L526.7 194.3L524.8 189.0L521.9 187.1L519.5 188.6L514.8 191.2L511.1 191.4L513.3 196.2Z" fill="#f58b4c" fill-rule="evenodd"/>
<path d="M515.7 221.4L517.6 223.8L521.4 224.3L525.7 224.3L526.2 221.9L524.8 220.0L519.5 220.0Z" fill="#f58b4c" fill-rule="evenodd"/>
<path d="M511.0 228.1L513.8 229.5L517.6 228.6L523.3 229.0L527.1 228.6L527.1 226.7L523.3 225.2L518.6 224.8L514.8 225.7Z" fill="#f58b4c" fill-rule="evenodd"/>
<path d="M511.0 231.4L511.9 233.8L515.7 235.2L519.5 236.2L523.3 234.3L525.2 231.0L523.3 229.5L517.6 229.0L513.8 230.0Z" fill="#f0702a" fill-rule="evenodd"/>
<path d="M524.8 233.6L522.4 236.8L517.6 237.6L519.5 241.9L522.4 244.0L532.0 244.8L537.6 244.0L539.2 240.0L535.2 235.2L532.0 232.0L528.8 230.4Z" fill="#f58b4c" fill-rule="evenodd"/>
<path d="M441.3 228.0L442.8 229.8L442.5 232.5L444.3 232.2L444.0 234.0L446.1 235.2L448.5 237.0L447.9 239.1L444.9 240.3L444.3 243.3L443.1 245.2L445.5 247.3L442.5 249.1L441.3 250.9L444.3 250.0L447.3 249.4L450.3 248.8L454.0 248.5L457.9 247.9L459.7 245.8L460.3 242.7L458.2 241.8L456.4 239.7L454.6 236.7L452.4 234.3L450.9 231.9L448.8 231.0L450.6 228.6L451.5 225.9L447.9 225.0L449.1 222.5L445.5 222.7L443.1 224.0Z" fill="#8a2e1c" fill-rule="evenodd"/>
<path d="M438.0 234.3L438.6 236.4L440.7 237.0L441.6 235.8L439.8 234.0Z" fill="#8a2e1c" fill-rule="evenodd"/>
<path d="M430.1 244.9L433.4 245.2L436.5 244.3L439.2 242.7L440.7 240.3L440.4 237.6L438.6 236.7L438.0 235.8L436.8 234.9L434.0 236.4L432.2 239.1L431.6 242.1Z" fill="#f0702a" fill-rule="evenodd"/>
<path d="M466.6 245.2L467.8 245.5L469.0 245.2L470.8 245.2L471.4 244.0L472.6 243.3L473.6 241.5L473.6 239.4L470.8 239.7L468.4 241.5Z" fill="#8a2e1c" fill-rule="evenodd"/>
<path d="M463.6 247.0L465.4 248.5L467.2 249.4L469.3 250.9L470.8 250.0L471.1 247.6L469.0 246.7L466.6 246.4Z" fill="#8a2e1c" fill-rule="evenodd"/>
<path d="M475.2 240.0L474.1 245.6L473.6 251.2L475.2 254.4L476.0 257.6L480.8 258.1L485.6 258.4L490.4 258.4L491.2 255.2L488.8 252.0L490.4 248.8L493.6 247.2L494.9 243.5L493.9 238.7L490.4 236.8L485.6 236.0L481.6 234.9L478.4 236.8Z" fill="#de5426" fill-rule="evenodd"/>
<path d="M477.6 229.0L478.1 232.4L481.0 232.9L483.3 229.5L483.8 225.7L480.5 226.7Z" fill="#f0702a" fill-rule="evenodd"/>
<path d="M484.8 232.2L485.2 234.8L488.1 234.5L487.9 231.9Z" fill="#f0702a" fill-rule="evenodd"/>
<path d="M494.4 238.4L494.9 243.5L495.2 247.5L500.0 248.8L504.0 250.4L509.6 251.2L515.2 252.0L518.9 250.4L517.9 246.4L519.2 241.9L517.3 237.6L512.8 235.5L506.4 235.2L500.0 236.0Z" fill="#f0702a" fill-rule="evenodd"/>
<path d="M489.6 249.6L490.4 252.0L493.6 254.4L498.4 254.4L502.4 253.3L504.0 250.7L500.0 249.1L493.6 247.5Z" fill="#de5426" fill-rule="evenodd"/>
<path d="M503.2 253.3L501.9 255.5L504.8 256.5L509.6 256.0L514.4 255.2L515.2 252.5L506.4 252.0Z" fill="#f0702a" fill-rule="evenodd"/>
<path d="M483.2 259.2L487.2 261.6L492.0 261.9L496.8 260.8L500.8 259.2L501.9 256.0L498.4 254.9L491.2 255.5L490.4 258.7Z" fill="#f58b4c" fill-rule="evenodd"/>
<path d="M473.6 260.8L475.2 263.5L480.0 263.5L483.2 261.9L482.4 259.7L476.8 259.2Z" fill="#f0702a" fill-rule="evenodd"/>
<path d="M500.8 259.2L502.4 261.9L507.2 262.4L512.8 260.8L516.0 257.6L514.4 255.5L504.8 256.8Z" fill="#f0702a" fill-rule="evenodd"/>
<path d="M444.0 256.8L446.4 260.0L449.6 262.4L452.0 266.4L451.2 272.8L456.0 274.4L461.6 276.0L465.6 274.4L471.2 275.2L475.2 273.6L474.4 271.2L476.0 268.0L475.2 264.0L473.6 260.8L476.0 257.9L475.2 254.7L471.2 252.5L465.6 250.1L462.4 248.5L458.4 248.8L453.6 252.0L449.6 254.4Z" fill="#de5426" fill-rule="evenodd"/>
<path d="M479.2 276.0L479.5 280.5L481.1 280.0L481.1 275.2Z" fill="#de5426" fill-rule="evenodd"/>
<path d="M429.6 275.2L430.4 278.4L435.2 279.2L433.6 284.0L435.2 290.4L434.4 293.6L436.8 296.0L441.6 296.8L447.2 295.2L451.2 292.8L454.4 289.6L455.2 285.6L457.6 281.6L461.6 279.2L462.4 276.8L456.8 275.2L452.0 274.4L445.6 274.4L439.2 273.6L433.6 273.6Z" fill="#f58b4c" fill-rule="evenodd"/>
<path d="M429.6 279.2L429.9 285.6L428.8 290.4L430.4 295.2L434.1 293.9L434.9 290.4L433.6 284.3L435.2 279.5Z" fill="#f58b4c" fill-rule="evenodd"/>
<path d="M476.0 268.0L476.8 271.2L480.0 270.4L484.0 272.0L487.2 276.0L491.2 280.0L495.2 284.0L498.4 287.2L498.4 291.2L500.0 294.4L502.4 291.2L501.6 288.0L503.2 285.6L506.4 286.4L504.8 284.0L500.8 281.6L496.0 278.4L492.0 274.4L488.8 270.4L488.8 267.2L492.8 266.4L493.6 262.9L488.8 261.9L483.2 262.4L480.0 265.6Z" fill="#f58b4c" fill-rule="evenodd"/>
<path d="M490.4 292.8L494.4 296.5L497.6 295.2L499.2 292.0L494.4 292.3Z" fill="#f58b4c" fill-rule="evenodd"/>
<path d="M478.4 283.2L479.2 289.1L481.6 288.0L481.1 282.4Z" fill="#f58b4c" fill-rule="evenodd"/>
<path d="M492.8 262.9L493.3 264.8L496.0 264.8L499.2 262.9L496.8 261.3Z" fill="#de5426" fill-rule="evenodd"/>
<path d="M493.6 265.3L494.4 267.2L496.8 269.6L500.0 272.8L503.2 274.4L500.8 271.2L499.2 267.2L502.4 266.1L506.4 266.4L507.2 264.0L503.2 262.9L499.5 263.2L496.5 265.1Z" fill="#de5426" fill-rule="evenodd"/>
<path d="M499.5 267.5L501.6 271.5L504.8 273.6L507.2 270.4L506.7 266.7L502.7 266.4Z" fill="#f58b4c" fill-rule="evenodd"/>
<path d="M507.2 264.0L507.2 269.6L508.0 272.8L510.4 275.2L513.6 273.6L514.4 274.4L518.2 276.0L517.9 271.5L514.7 269.3L512.8 265.6L509.6 262.9Z" fill="#f58b4c" fill-rule="evenodd"/>
<path d="M507.2 273.6L507.2 276.8L509.6 278.4L510.4 275.2Z" fill="#f58b4c" fill-rule="evenodd"/>
<path d="M510.9 274.4L512.0 277.9L514.4 276.8L513.6 274.1Z" fill="#e2ddd8" fill-rule="evenodd"/>
<path d="M509.6 278.4L509.6 283.2L511.5 286.4L512.8 283.2L512.0 277.6Z" fill="#f58b4c" fill-rule="evenodd"/>
<path d="M512.8 278.4L513.1 282.1L516.0 281.6L518.9 280.0L517.6 276.8Z" fill="#f58b4c" fill-rule="evenodd"/>
<path d="M512.8 261.1L513.1 265.6L514.4 268.8L517.6 270.9L522.4 271.5L527.2 270.9L532.0 271.2L532.8 268.0L536.0 265.6L534.4 264.0L532.0 260.0L528.8 256.8L522.4 257.1L516.0 257.9Z" fill="#f9a66e" fill-rule="evenodd"/>
<path d="M517.9 271.5L518.4 276.0L520.8 278.9L525.6 279.2L530.4 277.6L532.8 275.2L532.0 271.5L527.2 271.2L522.4 272.0Z" fill="#f0702a" fill-rule="evenodd"/>
<path d="M529.6 256.8L532.3 260.0L533.9 263.5L535.5 264.0L535.2 260.0L532.0 256.0Z" fill="#f9a66e" fill-rule="evenodd"/>
<path d="M519.2 246.4L517.9 246.4L518.9 250.4L515.2 252.5L516.0 257.9L522.4 257.1L528.8 256.8L532.0 256.0L535.2 260.0L535.5 264.0L537.6 264.0L540.0 265.6L544.0 264.8L548.0 262.4L550.4 264.0L554.4 262.4L559.2 260.0L562.4 256.0L560.8 252.0L554.4 249.6L548.0 248.0L544.0 244.8L537.6 244.0L532.0 244.8L522.4 244.0Z" fill="#f9a66e" fill-rule="evenodd"/>
<path d="M546.4 266.4L548.0 268.8L552.0 268.8L556.0 266.4L551.2 265.6Z" fill="#f9a66e" fill-rule="evenodd"/>
<path d="M512.8 283.2L512.0 287.2L514.4 291.2L516.8 295.2L519.2 297.6L521.6 295.2L522.4 291.2L519.2 287.2L520.8 284.0L524.0 283.2L528.8 282.4L530.4 279.5L525.6 280.0L520.0 281.6L516.0 281.6Z" fill="#f58b4c" fill-rule="evenodd"/>
<path d="M521.6 301.6L522.4 303.2L528.8 303.5L528.8 302.4Z" fill="#f58b4c" fill-rule="evenodd"/>
<path d="M530.4 279.5L529.6 282.4L532.0 282.7L536.0 280.8L533.6 278.4Z" fill="#f58b4c" fill-rule="evenodd"/>
<path d="M530.4 285.6L528.8 288.8L530.4 292.0L532.8 295.2L536.8 296.8L541.6 298.4L546.4 298.4L551.2 296.8L556.0 298.4L557.6 296.8L560.8 294.9L567.2 293.6L573.6 294.4L582.4 293.6L581.6 290.4L580.0 285.6L577.6 283.2L572.0 281.6L564.0 280.8L556.0 279.2L548.0 279.2L541.6 280.8L535.2 283.2Z" fill="#f58b4c" fill-rule="evenodd"/>
<path d="M547.2 302.4L548.0 304.0L552.0 303.2L552.8 300.8Z" fill="#f58b4c" fill-rule="evenodd"/>
<path d="M426.0 321.0L423.0 324.0L419.0 328.0L428.0 328.0L430.0 325.0L436.0 320.0L441.0 317.0L447.0 314.0L449.0 309.0L448.0 303.0L440.0 302.0L437.0 304.0L433.0 309.0L428.0 315.0Z" fill="#fdc9a0" fill-rule="evenodd"/>
<path d="M419.0 328.4L416.0 332.0L413.0 336.0L410.0 343.0L408.0 349.0L414.0 348.0L415.0 342.0L420.0 340.0L421.0 335.0L428.0 334.0L428.0 328.4Z" fill="#e2ddd8" fill-rule="evenodd"/>
<path d="M404.0 352.0L405.6 361.0L405.0 368.0L410.0 367.0L414.0 370.0L418.0 372.0L432.0 372.0L436.0 371.0L435.0 355.0L436.0 339.0L435.0 334.0L428.0 329.0L428.0 334.4L421.0 335.4L420.0 340.4L415.0 342.4L414.0 348.4L408.0 349.4Z" fill="#e2ddd8" fill-rule="evenodd"/>
<path d="M429.0 325.0L428.4 329.0L435.0 334.0L436.0 338.4L440.0 341.0L450.0 348.0L460.0 355.0L465.0 359.0L471.0 354.0L480.0 348.0L488.0 343.0L483.0 338.0L481.0 332.0L482.0 323.0L481.0 315.0L478.0 311.0L476.0 304.0L477.0 297.0L466.0 297.4L456.0 299.0L448.6 303.0L449.4 309.4L447.0 314.4L441.0 317.4L436.0 320.4Z" fill="#fee6d3" fill-rule="evenodd"/>
<path d="M477.4 297.4L476.4 304.0L478.4 311.0L481.4 315.4L484.0 314.0L486.0 310.0L483.0 305.0L485.0 300.0L482.0 296.0Z" fill="#fdc9a0" fill-rule="evenodd"/>
<path d="M484.0 314.4L481.4 315.4L482.4 323.4L481.4 332.4L483.4 338.4L488.4 343.4L494.0 346.0L500.0 343.0L512.0 347.0L522.0 352.0L523.0 355.0L527.0 355.0L526.0 329.0L527.0 321.0L525.0 314.0L518.0 312.0L512.0 313.0L506.0 317.0L500.0 315.0L492.0 312.0L486.4 310.4Z" fill="#fee6d3" fill-rule="evenodd"/>
<path d="M526.4 315.0L527.4 321.0L527.0 329.0L528.0 348.0L556.0 348.0L559.0 345.0L557.0 341.0L554.0 335.0L551.0 329.0L548.0 322.0L550.0 324.0L553.0 328.0L555.0 323.0L553.0 318.0L549.0 316.6L542.0 317.0L532.0 316.0Z" fill="#8a2e1c" fill-rule="evenodd"/>
<path d="M527.4 348.4L527.4 355.0L525.0 356.0L525.0 363.0L523.0 369.0L521.0 375.0L520.0 384.0L520.0 389.0L524.0 392.4L528.0 391.0L532.0 393.4L536.0 392.4L541.0 393.0L545.0 390.4L549.0 389.0L551.0 385.0L552.4 389.4L554.0 398.0L556.0 394.0L559.0 389.0L562.0 384.0L564.0 380.0L562.4 375.0L562.0 371.0L567.0 364.0L566.0 359.0L562.0 351.0L559.4 346.0L556.0 348.4Z" fill="#fee6d3" fill-rule="evenodd"/>
<path d="M498.0 346.0L499.0 355.0L500.0 363.0L498.0 370.0L495.0 377.0L496.4 384.0L497.4 388.0L496.0 392.4L499.0 395.0L501.0 398.4L503.0 399.4L508.0 396.0L513.0 393.0L518.0 389.4L520.0 388.8L520.0 384.0L520.6 375.4L522.4 369.4L525.0 363.0L525.0 356.4L523.0 355.4L522.0 352.4L512.0 347.4L501.0 343.4Z" fill="#e2ddd8" fill-rule="evenodd"/>
<path d="M465.4 359.4L465.4 365.0L464.0 371.0L459.0 372.0L457.0 375.0L460.0 377.0L464.0 380.0L468.0 378.0L474.0 379.0L480.0 380.0L486.0 379.0L491.0 381.0L495.6 380.0L495.0 376.6L497.6 370.0L499.6 363.0L498.6 355.0L497.6 346.6L494.0 346.4L488.4 343.6L480.4 348.4L471.4 354.4Z" fill="#fee6d3" fill-rule="evenodd"/>
<path d="M436.4 339.0L435.4 355.0L436.4 371.0L432.0 372.4L418.4 372.4L418.4 379.0L422.0 382.0L428.0 384.0L431.0 384.0L433.0 388.0L437.0 389.0L440.0 386.0L443.0 383.0L447.0 379.0L451.0 376.0L456.6 375.0L458.6 372.0L463.6 371.0L465.0 365.4L465.0 359.4L460.4 355.4L450.4 348.4L440.4 341.4Z" fill="#fdc9a0" fill-rule="evenodd"/>
<path d="M402.4 371.0L401.0 374.6L402.4 379.0L403.6 383.0L408.0 382.6L414.0 383.0L420.0 382.4L418.4 379.0L418.0 373.0L414.0 370.4L410.0 367.4L405.6 368.4Z" fill="#fee6d3" fill-rule="evenodd"/>
<path d="M403.6 383.4L405.0 386.6L408.0 387.4L411.0 385.0L408.0 383.0Z" fill="#e2ddd8" fill-rule="evenodd"/>
<path d="M408.4 383.0L411.4 385.0L409.0 387.4L412.0 389.0L415.0 391.0L418.0 389.0L422.0 390.0L425.0 394.0L428.0 396.0L431.0 393.0L430.0 388.0L428.0 384.4L422.4 382.4L420.0 382.8L414.0 383.4Z" fill="#fee6d3" fill-rule="evenodd"/>
<path d="M415.0 391.4L416.0 396.0L419.0 398.0L422.0 395.0L421.6 390.4L418.0 389.4Z" fill="#e2ddd8" fill-rule="evenodd"/>
<path d="M419.4 398.4L421.6 401.0L425.0 404.0L430.0 407.0L428.0 401.0L425.0 394.4L422.4 395.0Z" fill="#e2ddd8" fill-rule="evenodd"/>
<path d="M428.4 396.4L428.4 401.0L430.0 407.0L430.4 410.6L438.0 409.4L444.0 409.0L443.0 401.0L443.6 393.0L441.0 390.0L437.4 389.4L433.0 388.4L430.4 388.4L431.4 393.0Z" fill="#fee6d3" fill-rule="evenodd"/>
<path d="M437.4 389.0L441.0 390.0L444.0 393.0L445.0 387.4L454.0 386.6L458.0 386.0L461.0 383.0L463.6 380.4L460.0 377.4L457.0 375.4L451.4 376.4L447.4 379.4L443.4 383.0L440.4 386.0Z" fill="#fee6d3" fill-rule="evenodd"/>
<path d="M444.4 387.8L444.0 393.0L443.4 401.0L444.4 409.4L452.0 408.0L457.0 405.0L455.6 401.0L455.0 393.0L454.0 387.0Z" fill="#fdc9a0" fill-rule="evenodd"/>
<path d="M454.4 387.0L455.4 393.0L456.0 401.0L457.0 405.0L458.4 404.6L458.0 395.0L457.6 386.6Z" fill="#fee6d3" fill-rule="evenodd"/>
<path d="M458.0 386.4L458.4 395.0L458.8 404.6L462.0 404.0L462.4 391.0L465.0 386.0L464.0 381.0L461.0 383.4Z" fill="#fdc9a0" fill-rule="evenodd"/>
<path d="M464.4 380.6L465.4 386.0L462.8 391.0L463.0 404.0L468.0 407.0L472.0 411.0L477.0 412.0L480.0 407.0L484.0 405.0L489.0 400.0L492.0 395.0L495.2 389.0L495.6 380.4L491.4 381.4L486.4 379.4L480.4 380.4L474.4 379.4L468.4 378.4Z" fill="#fdc9a0" fill-rule="evenodd"/>
<path d="M480.0 404.0L478.0 407.0L476.0 410.0L478.0 413.0L481.0 418.5L486.5 418.5L490.0 418.5L495.0 418.5L499.5 418.5L501.0 416.5L499.5 414.0L497.5 410.0L497.0 405.0L499.0 401.0L501.0 398.5L499.0 395.0L496.0 392.5L496.0 386.0L494.0 389.0L491.0 393.0L488.0 398.0L485.0 401.5Z" fill="#fee6d3" fill-rule="evenodd"/>
<path d="M497.0 405.0L497.5 410.0L499.5 414.0L501.0 416.5L502.5 414.5L507.0 414.0L509.0 411.0L512.0 409.0L517.0 409.5L520.0 411.5L523.0 410.0L527.0 409.0L532.0 408.5L537.0 409.5L535.0 407.0L532.0 403.0L528.0 399.0L525.0 395.0L523.0 392.0L520.0 389.0L518.0 389.5L513.0 393.0L508.0 396.0L503.0 399.5L499.0 401.0Z" fill="#fee6d3" fill-rule="evenodd"/>
<path d="M524.0 392.5L525.0 395.0L528.0 399.0L532.0 403.0L535.0 407.0L537.0 409.5L540.0 410.5L545.5 413.5L550.0 413.0L554.0 412.5L557.0 410.0L559.5 406.5L557.0 402.0L554.0 398.0L554.5 393.0L552.5 389.5L551.0 385.0L549.0 389.0L545.0 390.5L541.0 393.0L536.0 392.5L532.0 393.5L528.0 391.0Z" fill="#e2ddd8" fill-rule="evenodd"/>
<path d="M564.0 380.0L562.0 384.0L559.0 389.0L556.0 394.0L554.0 398.0L557.2 402.0L559.6 406.4L560.0 409.8L565.0 411.8L570.0 413.2L574.0 411.8L577.4 412.2L584.0 412.0L590.0 407.0L596.0 400.0L592.0 399.0L584.0 395.0L580.0 390.0L582.0 387.0L579.0 382.0L574.0 377.0L568.0 374.0L563.0 375.0Z" fill="#fdc9a0" fill-rule="evenodd"/>
<path d="M562.4 371.4L568.0 374.0L574.0 377.0L580.0 384.0L582.4 383.0L579.0 379.0L575.0 375.0L570.0 371.0L567.0 364.4Z" fill="#fee6d3" fill-rule="evenodd"/>
<path d="M580.0 384.0L580.4 388.0L583.0 388.0L583.0 384.0Z" fill="#fee6d3" fill-rule="evenodd"/>
<path d="M482.0 419.6L482.0 421.6L486.0 421.6L486.0 419.6Z" fill="#e2ddd8" fill-rule="evenodd"/>
<path d="M481.0 425.0L480.0 430.0L483.0 434.0L486.0 439.0L490.0 437.0L492.0 433.0L496.0 432.0L497.0 427.0L494.0 424.0L493.0 419.6L488.0 419.0L486.0 422.0Z" fill="#fdc9a0" fill-rule="evenodd"/>
<path d="M493.0 419.6L494.4 424.0L497.4 427.4L496.4 432.4L492.4 433.4L490.4 437.4L486.4 439.0L488.0 442.0L492.0 443.0L497.0 441.0L501.0 437.0L505.0 432.0L508.0 426.0L510.0 420.0L509.0 414.0L505.0 420.0L498.0 419.0Z" fill="#fee6d3" fill-rule="evenodd"/>
<path d="M510.0 414.0L510.4 420.0L508.4 426.4L505.4 432.4L501.4 437.4L497.4 441.4L492.4 443.4L489.0 443.0L490.0 448.0L496.0 448.0L503.0 449.0L507.0 454.0L513.0 452.0L519.0 453.0L520.0 460.0L521.0 465.0L527.0 466.0L533.0 467.0L537.0 471.0L541.0 469.0L539.0 464.0L540.0 458.0L547.0 457.0L546.0 454.0L543.0 448.0L541.0 442.0L542.0 436.0L543.0 430.0L546.0 424.0L548.0 418.0L546.0 414.0L540.0 411.0L532.0 408.0L524.0 409.0L516.0 410.0Z" fill="#fee6d3" fill-rule="evenodd"/>
<path d="M490.0 448.4L492.0 456.0L494.0 464.0L493.0 472.0L490.0 480.0L489.0 487.0L495.0 486.4L503.0 487.0L514.0 488.0L522.0 488.0L520.0 484.0L520.0 477.0L523.0 476.0L526.0 472.0L527.0 466.4L521.0 465.4L520.0 460.0L519.0 453.4L513.0 452.4L507.0 454.4L503.0 449.4L496.0 448.4Z" fill="#fee6d3" fill-rule="evenodd"/>
<path d="M520.0 477.4L520.4 484.0L522.4 488.4L528.0 489.0L533.0 487.0L537.0 483.0L542.0 480.0L544.0 477.0L549.0 474.0L552.0 468.0L551.0 462.0L547.4 457.4L540.4 458.4L539.4 464.4L541.4 469.4L537.4 471.4L533.4 467.4L527.4 466.8L526.4 472.4L523.4 476.4Z" fill="#f9a66e" fill-rule="evenodd"/>
<path d="M552.0 462.4L552.4 468.0L553.0 474.0L555.0 479.0L557.0 484.0L559.0 480.0L558.0 474.0L555.6 468.0L554.4 461.0Z" fill="#f9a66e" fill-rule="evenodd"/>
<path d="M556.0 469.0L558.4 474.4L559.4 480.4L557.4 484.4L555.4 479.4L552.4 474.4L549.4 474.4L544.4 477.4L543.0 481.0L549.0 484.0L552.0 488.0L551.0 494.0L547.0 499.0L549.0 502.0L548.0 509.0L546.0 516.0L548.0 520.0L550.0 517.0L555.0 514.0L558.0 508.0L556.0 502.0L559.0 496.0L565.0 491.0L571.0 486.0L575.0 480.0L575.0 472.0L574.0 464.0L564.0 467.0Z" fill="#fee6d3" fill-rule="evenodd"/>
<path d="M529.0 489.4L530.0 492.0L532.0 496.0L536.0 501.0L540.0 505.0L545.0 504.0L547.4 499.0L551.0 494.0L552.0 488.4L549.4 484.4L542.4 480.4L537.4 483.4L533.4 487.4Z" fill="#fdc9a0" fill-rule="evenodd"/>
<path d="M514.0 492.0L514.0 504.0L513.0 512.0L514.0 521.0L518.0 520.0L522.0 516.0L528.0 517.0L530.0 513.0L535.0 509.0L539.6 505.4L535.6 501.4L531.6 496.0L529.0 489.8L525.0 489.0L522.0 491.0Z" fill="#f9a66e" fill-rule="evenodd"/>
<path d="M489.0 487.4L489.6 491.0L492.0 498.0L492.0 496.4L495.2 504.4L496.8 512.4L499.2 520.4L502.1 527.1L505.6 528.4L510.4 528.9L512.5 522.0L513.6 526.0L513.0 512.0L514.0 504.0L514.0 492.0L522.0 491.0L525.0 489.4L522.0 488.4L514.0 488.4L503.0 487.4L495.0 486.8Z" fill="#fdc9a0" fill-rule="evenodd"/>
<path d="M502.4 527.6L504.0 534.8L506.4 541.2L507.2 546.0L511.2 548.4L516.0 546.0L521.6 545.2L528.0 544.4L534.4 541.2L539.2 537.2L544.0 532.4L547.2 527.6L548.8 522.0L548.0 516.4L546.4 510.8L545.6 505.2L540.0 505.2L536.0 506.8L532.0 511.6L528.0 516.4L522.4 515.6L516.8 520.4L513.6 516.4L512.8 522.0L510.4 529.2Z" fill="#f9a66e" fill-rule="evenodd"/>
<path d="M543.2 518.8L544.0 522.0L546.4 522.8L548.0 519.6L545.6 517.2Z" fill="#e2ddd8" fill-rule="evenodd"/>
<path d="M532.0 530.8L533.6 534.0L536.0 534.0L539.2 529.2L536.0 527.1Z" fill="#e2ddd8" fill-rule="evenodd"/>
<path d="M546.4 430.0L542.4 436.0L541.4 442.0L543.4 448.0L546.4 454.0L547.4 457.0L551.4 462.0L554.0 461.0L556.0 468.6L564.0 467.0L574.4 463.6L573.0 458.0L571.0 450.0L572.0 443.0L570.0 440.0L562.0 435.0L556.0 431.0Z" fill="#fee6d3" fill-rule="evenodd"/>
<path d="M556.0 431.0L562.0 435.0L570.0 440.0L572.0 442.0L575.0 437.0L578.0 431.0L577.0 426.0L578.0 418.0L577.4 412.4L574.0 412.0L570.0 413.4L565.0 412.0L560.0 410.0L557.0 410.2L557.0 419.0L558.0 425.0Z" fill="#fdc9a0" fill-rule="evenodd"/>
<path d="M545.6 413.6L545.0 418.0L544.0 422.0L544.0 430.4L546.4 430.0L556.0 430.6L556.0 428.0L556.4 424.0L559.0 419.0L557.4 415.0L556.4 411.0L554.0 412.6L550.0 413.2Z" fill="#fee6d3" fill-rule="evenodd"/>
<path d="M549.6 426.1L549.6 426.1L549.5 426.1L549.5 426.1L549.5 426.1L549.5 426.1L549.4 426.2L549.4 426.2L549.4 426.2L549.4 426.2L549.3 426.2L549.3 426.3L549.3 426.3L549.3 426.3L549.3 426.3L549.3 426.4L549.3 426.4L549.3 426.4L549.3 426.5L550.7 433.1L550.7 433.1L550.7 433.1L550.7 433.1L550.8 433.2L550.8 433.2L550.8 433.2L550.8 433.2L550.8 433.2L550.9 433.3L550.9 433.3L550.9 433.3L550.9 433.3L555.5 434.3L555.6 434.3L555.6 434.3L555.6 434.3L555.7 434.3L555.7 434.3L555.7 434.3L555.7 434.3L555.8 434.3L555.8 434.2L555.8 434.2L555.8 434.2L555.8 434.2L555.9 434.1L555.9 434.1L555.9 434.1L555.9 434.1L555.9 434.0L555.9 434.0L555.9 426.4L555.9 426.4L555.9 426.3L555.9 426.3L555.9 426.3L555.9 426.3L555.8 426.2L555.8 426.2L555.8 426.2L555.8 426.2L555.8 426.2L555.7 426.1L555.7 426.1L555.7 426.1L555.7 426.1L555.6 426.1L555.6 426.1Z" fill="#ffffff" fill-rule="evenodd"/>
<path d="M542.0 431.0L542.4 440.0L546.4 440.0L546.4 430.4Z" fill="#fee6d3" fill-rule="evenodd"/>
<path d="M582.2 387.0L583.0 390.2L585.4 393.3L590.2 396.5L595.7 398.9L589.4 407.6L583.8 410.8L578.3 417.1L577.5 423.5L579.0 429.8L583.8 424.3L589.4 417.9L594.9 410.8L599.7 403.7L603.7 396.5L606.0 390.2L606.0 384.6L598.9 386.2L591.7 388.6L586.2 389.4Z" fill="#e2ddd8" fill-rule="evenodd"/>
<path d="M582.0 504.0L583.0 512.0L587.0 516.0L592.0 514.0L595.0 508.0L598.0 498.0L601.0 488.0L604.0 480.0L603.0 473.0L601.0 469.0L598.0 475.0L593.0 480.0L588.0 484.0L585.0 490.0L583.0 498.0Z" fill="#fee6d3" fill-rule="evenodd"/>
<path d="M592.2 458.2L592.2 459.8L593.8 459.8L593.8 458.2Z" fill="#f0702a" fill-rule="evenodd"/>
<path d="M623.6 496.6L623.6 498.2L625.2 498.2L625.2 496.6Z" fill="#de5426" fill-rule="evenodd"/>
<path d="M404.4 310.4L404.4 311.8L405.8 311.8L405.8 310.4Z" fill="#f0702a" fill-rule="evenodd"/>
<path d="M404.4 326.4L404.4 327.8L405.8 327.8L405.8 326.4Z" fill="#f0702a" fill-rule="evenodd"/>
<path d="M673.0 409.5L673.0 412.5L676.0 412.5L676.0 409.5Z" fill="#f0702a" fill-rule="evenodd"/>
<path d="M528.8 186.0L528.6 185.9L527.1 187.8L526.7 194.3L529.0 199.0L531.0 204.8L533.0 208.6L530.2 213.3L528.1 217.6L526.7 220.0L526.2 221.9L525.7 224.3L527.1 226.7L527.1 228.6L529.6 230.1L532.0 232.0L535.2 235.2L539.2 240.0L541.0 243.5L545.0 243.0L548.0 246.0L552.0 247.5L557.0 250.0L562.0 252.5L562.5 256.0L560.0 258.5L560.5 261.0L559.5 261.8L558.0 264.5L555.0 266.5L553.0 267.5L556.0 268.5L560.0 270.5L564.0 272.5L567.0 273.5L570.0 274.0L574.0 274.5L578.0 275.5L582.0 277.0L586.0 279.0L588.0 279.5L587.0 277.0L585.5 274.0L584.0 271.0L583.5 268.5L585.5 266.5L588.0 264.5L586.0 262.0L583.0 259.5L581.0 256.0L580.0 253.0L581.0 250.0L584.5 247.5L589.0 245.5L594.0 244.5L597.5 245.0L608.8 243.8L613.8 240.0L615.0 236.2L625.0 235.0L635.0 232.5L645.0 236.2L653.8 236.2L660.0 241.2L667.5 246.2L676.2 250.0L683.8 255.0L687.5 257.5L690.0 255.0L695.0 250.0L705.0 248.8L715.0 245.0L725.0 247.5L735.0 250.0L745.0 252.5L755.0 251.2L765.0 251.2L770.0 247.5L771.2 241.2L777.5 240.0L785.0 242.5L791.2 247.5L797.5 251.2L803.8 255.0L810.0 258.8L816.2 257.5L817.5 266.2L813.8 270.0L816.2 273.8L818.8 275.0L825.0 270.0L828.8 265.0L830.0 257.5L827.5 250.0L823.8 243.8L818.8 238.8L812.5 236.2L805.0 235.0L808.8 227.5L812.5 222.5L820.0 221.2L827.5 220.0L835.0 221.2L842.5 220.0L841.2 215.0L845.0 213.8L850.0 215.0L856.2 211.2L858.8 216.2L856.2 221.2L853.8 225.0L857.5 230.0L861.2 236.2L866.2 242.5L870.0 246.2L871.2 237.5L872.5 230.0L870.0 223.8L866.2 218.8L872.5 217.5L880.0 217.5L881.2 212.5L887.5 211.2L893.8 210.0L890.0 207.5L885.0 203.8L886.2 200.0L892.5 201.2L900.0 203.8L906.2 203.8L902.5 200.0L895.0 196.2L887.5 195.0L880.0 191.2L870.0 188.8L860.0 187.5L850.0 187.5L847.5 190.0L835.0 188.8L825.0 190.0L820.0 186.2L810.0 185.0L800.0 183.8L790.0 181.2L780.0 181.2L770.0 180.0L760.0 182.5L750.0 182.5L740.0 180.0L727.5 177.5L715.0 176.2L705.0 175.0L702.5 171.2L695.0 169.5L685.0 167.5L675.0 167.0L665.0 168.8L655.0 171.2L647.5 175.0L638.8 178.8L631.2 181.2L626.2 185.0L630.0 190.0L631.2 196.2L627.5 193.8L622.5 188.8L621.2 182.5L617.5 179.5L613.8 181.2L612.5 186.2L603.8 190.0L598.8 187.5L593.8 190.0L590.0 187.5L582.5 188.8L576.8 192.4L572.0 194.8L567.2 195.6L564.0 192.4L559.2 193.2L560.8 198.0L556.0 201.2L549.6 203.6L543.2 204.4L539.2 201.2L541.6 199.6L548.0 200.4L553.6 198.0L554.1 194.8L549.6 191.9L540.0 189.2L532.0 187.1Z" fill="#fdc9a0" fill-rule="evenodd"/>
<path d="M575.0 182.5L577.5 185.0L583.8 185.0L582.5 180.0L588.8 175.0L597.5 172.0L606.2 168.8L600.0 168.0L587.5 170.5L577.5 175.0Z" fill="#fdc9a0" fill-rule="evenodd"/>
<path d="M647.5 158.8L653.8 161.2L665.0 163.8L675.0 164.5L678.8 162.5L667.5 160.5L657.5 157.5Z" fill="#fdc9a0" fill-rule="evenodd"/>
<path d="M755.0 170.5L757.5 172.5L767.5 173.8L772.5 172.5L765.0 170.0Z" fill="#fdc9a0" fill-rule="evenodd"/>
<path d="M776.2 172.0L776.2 173.2L785.0 174.0L785.0 173.0Z" fill="#fdc9a0" fill-rule="evenodd"/>
<path d="M862.5 183.0L862.5 184.5L869.5 184.5L869.5 183.0Z" fill="#fdc9a0" fill-rule="evenodd"/>
<path d="M823.8 237.5L827.5 245.0L832.5 251.2L837.5 255.0L842.0 263.8L840.0 253.8L835.0 250.0L830.0 243.8L826.2 236.2Z" fill="#fdc9a0" fill-rule="evenodd"/>
<path d="M597.5 245.0L594.0 244.5L589.0 245.5L584.5 247.5L581.0 250.0L580.0 253.0L581.0 256.0L583.0 259.5L586.0 262.0L588.0 264.5L589.0 264.0L593.0 262.0L597.0 262.5L599.0 265.0L596.0 267.0L594.0 269.0L596.0 271.0L599.0 273.0L600.0 276.0L603.6 278.3L606.8 279.2L609.0 277.4L608.6 268.6L613.6 266.1L618.1 268.4L622.6 272.0L626.2 273.8L630.7 272.5L634.4 273.4L637.1 276.5L639.8 279.7L643.4 282.4L647.0 281.0L649.7 277.9L654.2 276.1L658.8 274.7L663.3 275.2L668.7 275.2L675.0 277.0L677.8 273.1L675.0 268.6L678.7 265.8L681.4 262.2L684.1 260.4L686.7 257.0L683.8 255.0L676.2 250.0L667.5 246.2L660.0 241.2L653.8 236.2L645.0 236.2L635.0 232.5L625.0 235.0L615.0 236.2L613.8 240.0L608.8 243.8Z" fill="#fee6d3" fill-rule="evenodd"/>
<path d="M608.1 268.6L609.5 274.0L610.4 279.4L612.2 279.9L615.4 276.2L618.1 276.7L621.7 279.0L625.3 279.4L628.9 281.2L631.6 283.5L635.3 286.6L638.9 289.8L641.6 292.1L644.3 294.3L646.1 293.0L645.7 289.8L644.3 287.5L645.2 285.7L647.0 283.9L649.3 282.1L651.1 279.0L649.7 278.1L647.0 281.2L643.4 282.6L639.8 279.9L637.1 276.7L634.4 273.5L630.7 272.6L626.2 274.0L622.6 272.2L618.1 268.6L613.6 266.3Z" fill="#8a2e1c" fill-rule="evenodd"/>
<path d="M651.5 281.7L652.0 283.8L656.5 283.9L656.5 281.9Z" fill="#8a2e1c" fill-rule="evenodd"/>
<path d="M601.8 282.1L602.3 285.3L603.6 288.5L606.3 291.2L608.1 293.9L611.8 293.0L616.3 292.1L620.8 293.0L625.3 295.2L628.9 298.4L631.6 300.7L634.4 297.9L637.5 296.6L639.8 294.8L641.6 292.3L638.9 290.0L635.3 286.8L631.6 283.7L628.9 281.4L625.3 279.6L621.7 279.1L618.1 276.9L615.6 276.4L612.4 280.0L610.6 279.6L609.0 277.6L606.8 279.4L603.6 278.5Z" fill="#e2ddd8" fill-rule="evenodd"/>
<path d="M650.6 278.1L651.1 279.4L652.0 281.4L656.8 281.9L656.5 283.9L653.3 285.7L657.9 286.2L661.5 285.3L665.1 283.0L668.7 281.7L672.3 279.4L675.0 277.2L668.7 275.3L663.3 275.3L658.8 274.9L654.2 276.2Z" fill="#fdc9a0" fill-rule="evenodd"/>
<path d="M645.2 286.2L644.8 287.7L646.1 289.8L646.6 293.4L649.7 293.9L652.4 293.0L654.2 290.7L657.9 291.2L661.5 292.5L664.2 291.2L662.4 288.9L661.5 285.7L657.9 286.4L653.3 285.9L651.5 284.4L649.7 282.6L647.5 284.4Z" fill="#fee6d3" fill-rule="evenodd"/>
<path d="M690.0 255.0L697.5 260.0L702.5 265.0L712.5 267.5L722.5 272.5L732.5 275.0L742.5 277.5L752.5 273.8L760.0 270.0L765.0 265.0L773.8 262.5L775.0 258.8L767.5 256.2L765.0 251.2L755.0 251.2L745.0 252.5L735.0 250.0L725.0 247.5L715.0 245.0L705.0 248.8L695.0 250.0Z" fill="#f9a66e" fill-rule="evenodd"/>
<path d="M567.0 273.5L569.5 277.0L571.0 279.0L574.0 278.5L577.0 279.0L580.5 278.5L582.0 277.2L578.0 275.7L574.0 274.7L570.0 274.2Z" fill="#f58b4c" fill-rule="evenodd"/>
<path d="M577.0 282.0L578.5 284.5L580.5 286.0L582.0 285.0L580.5 282.0L578.5 280.8Z" fill="#8a2e1c" fill-rule="evenodd"/>
<path d="M580.5 278.7L580.8 282.0L582.5 285.0L584.5 284.0L587.0 285.0L589.0 287.0L591.0 288.0L592.0 285.0L593.5 284.0L591.0 282.0L588.5 280.0L586.0 279.2L582.5 277.5Z" fill="#f0702a" fill-rule="evenodd"/>
<path d="M580.0 289.0L581.0 293.0L582.0 298.0L584.0 304.0L587.0 310.0L592.0 315.0L594.0 320.0L598.0 321.0L603.0 326.0L609.0 330.0L614.0 332.0L619.0 331.0L624.0 335.0L630.0 337.0L638.0 337.0L635.0 332.0L636.0 327.0L633.0 322.0L630.0 319.0L631.0 313.0L629.0 307.0L631.0 301.0L626.0 298.0L620.0 294.0L614.0 293.0L608.0 295.0L603.0 294.0L600.0 292.0L592.0 290.0L591.0 288.0L589.0 287.0L587.0 285.0L584.4 284.0L582.4 285.0L581.0 286.0Z" fill="#f9a66e" fill-rule="evenodd"/>
<path d="M567.6 307.8L564.8 309.4L566.8 312.6L570.4 314.2L574.4 316.6L578.4 319.4L582.4 322.2L586.4 322.6L589.2 322.2L591.2 320.6L593.2 320.2L592.4 317.0L590.4 313.4L588.0 310.6L585.6 308.2L584.4 305.8L585.6 303.0L583.6 300.6L581.6 297.8L579.6 294.2L577.2 294.6L574.0 296.2L572.8 299.0L572.0 302.2L570.8 305.0Z" fill="#f9a66e" fill-rule="evenodd"/>
<path d="M557.2 302.2L557.2 305.8L558.4 308.2L558.0 311.4L560.4 310.6L564.0 309.0L567.2 307.4L570.4 304.6L571.6 301.8L572.4 298.6L573.6 295.8L568.8 296.6L564.0 296.2L560.8 297.0L558.8 298.6Z" fill="#fee6d3" fill-rule="evenodd"/>
<path d="M555.6 308.2L555.6 310.2L556.8 309.8L558.0 307.0L557.2 305.4Z" fill="#f0702a" fill-rule="evenodd"/>
<path d="M554.4 310.6L554.0 316.6L554.4 320.2L555.2 318.6L556.0 314.6L556.8 311.4L555.6 310.4Z" fill="#f0702a" fill-rule="evenodd"/>
<path d="M557.0 311.8L556.2 315.4L555.4 320.2L556.0 322.6L558.8 321.4L561.2 320.2L563.6 319.0L563.2 317.4L560.8 315.0L563.2 313.8L566.0 311.8L564.4 309.4L560.6 311.0Z" fill="#f58b4c" fill-rule="evenodd"/>
<path d="M632.1 300.7L629.4 307.4L631.4 313.4L630.4 319.4L634.0 322.4L640.0 322.0L645.0 318.0L649.7 312.0L651.5 310.2L653.3 307.4L654.2 303.8L656.5 300.2L657.9 297.5L659.7 294.8L663.3 293.9L667.4 291.6L664.2 291.3L661.5 292.7L657.9 291.3L654.2 290.9L652.4 293.2L649.7 294.1L646.6 293.6L644.5 294.5L642.0 292.5L640.2 294.8L638.0 296.6L634.8 297.9Z" fill="#fee6d3" fill-rule="evenodd"/>
<path d="M636.0 327.4L635.4 332.4L638.4 337.4L648.0 337.0L650.0 339.0L655.0 340.0L660.0 338.0L657.0 334.0L658.0 329.0L662.0 325.0L666.0 320.0L669.0 315.0L667.0 310.0L669.0 305.0L666.0 300.0L662.0 297.0L658.4 298.0L656.4 301.4L654.4 306.4L651.4 310.4L648.4 315.4L645.4 318.4L640.4 322.4L633.4 322.4Z" fill="#de5426" fill-rule="evenodd"/>
<path d="M662.0 297.0L666.0 300.0L669.0 305.0L669.0 309.0L673.0 310.0L678.0 307.0L680.0 302.0L675.0 299.0L668.0 296.0Z" fill="#de5426" fill-rule="evenodd"/>
<path d="M669.0 309.4L667.4 310.4L669.4 315.4L666.4 320.4L662.4 325.4L658.4 329.4L657.4 334.0L660.0 338.4L656.0 342.0L659.0 347.0L664.0 351.0L670.0 352.0L671.0 360.0L673.2 368.4L675.6 373.2L677.6 378.0L679.4 384.0L682.6 391.0L684.0 395.4L686.4 398.0L689.0 396.0L691.2 392.8L693.2 389.0L694.0 379.6L693.6 376.4L693.2 371.6L694.8 369.2L698.0 367.6L700.0 365.0L704.0 360.0L709.0 354.0L712.0 350.0L716.0 347.0L714.0 342.0L713.0 336.0L711.0 333.0L704.0 331.0L696.0 328.0L688.0 321.0L684.0 317.0L681.0 311.0L678.0 307.4L673.4 310.4Z" fill="#de5426" fill-rule="evenodd"/>
<path d="M713.0 333.0L713.6 336.0L718.0 336.0L723.0 337.6L727.0 339.6L725.0 344.0L726.0 349.0L729.0 346.0L730.0 340.4L733.0 336.4L736.0 332.4L739.4 328.0L734.4 323.6L730.0 325.6L724.0 330.0L718.0 334.0Z" fill="#de5426" fill-rule="evenodd"/>
<path d="M687.0 320.0L689.0 323.6L696.0 327.6L704.0 330.6L711.0 332.4L711.0 328.0L706.0 326.0L698.0 322.4L690.0 319.0Z" fill="#f58b4c" fill-rule="evenodd"/>
<path d="M713.0 328.0L713.0 330.6L717.0 331.6L722.0 329.6L719.0 327.0Z" fill="#fee6d3" fill-rule="evenodd"/>
<path d="M713.0 336.0L714.0 342.0L716.0 347.0L720.0 349.0L723.0 347.0L725.6 349.0L724.4 344.4L726.0 340.0L723.0 338.0L718.0 336.4Z" fill="#8a2e1c" fill-rule="evenodd"/>
<path d="M693.8 392.2L693.5 397.3L694.1 401.7L695.4 404.9L697.3 404.9L699.5 403.0L699.5 399.2L697.9 395.4L695.4 392.2Z" fill="#f58b4c" fill-rule="evenodd"/>
<path d="M730.0 340.4L729.0 346.0L729.6 349.0L732.0 354.0L736.0 358.0L737.0 364.0L740.0 368.0L743.0 370.0L746.0 376.0L748.4 383.0L750.0 388.0L751.0 382.0L750.0 375.0L748.0 369.0L745.0 363.0L746.0 358.0L749.0 355.0L753.0 352.0L751.0 348.0L747.0 344.0L744.0 338.0L742.0 332.0L739.4 328.4L736.0 332.4L733.0 336.4Z" fill="#f9a66e" fill-rule="evenodd"/>
<path d="M556.0 323.0L555.2 324.0L555.6 327.0L558.0 330.4L560.4 334.0L562.0 337.6L563.9 340.0L566.9 343.6L568.7 347.8L570.5 352.0L573.5 355.6L575.9 359.2L577.7 362.8L580.2 365.8L581.0 367.4L582.0 364.6L586.2 365.0L591.0 365.6L593.4 365.8L595.2 363.4L598.2 361.6L602.4 360.8L606.6 359.8L610.0 358.6L618.0 354.0L620.0 346.0L616.0 345.0L607.0 343.0L603.0 339.0L600.0 336.0L597.0 330.0L593.2 325.4L591.6 324.2L589.6 322.6L586.4 323.0L582.4 322.6L578.4 319.8L574.4 317.0L570.4 314.6L566.8 313.0L563.6 314.0L561.2 315.2L563.6 317.4L564.0 319.4L561.6 320.6L559.2 321.8Z" fill="#f9a66e" fill-rule="evenodd"/>
<path d="M590.0 322.2L591.6 323.8L593.2 325.0L594.4 324.2L593.6 321.4L591.6 321.0Z" fill="#8a2e1c" fill-rule="evenodd"/>
<path d="M601.0 334.0L601.4 337.4L603.0 337.0L603.0 333.6Z" fill="#de5426" fill-rule="evenodd"/>
<path d="M607.0 341.0L608.0 344.4L616.4 345.4L618.0 343.0L619.0 338.0L617.0 336.0L612.0 340.0Z" fill="#8a2e1c" fill-rule="evenodd"/>
<path d="M619.0 338.4L618.0 343.4L620.4 346.4L618.4 354.0L610.4 358.0L609.0 361.0L612.0 367.0L617.0 364.0L622.0 359.0L627.0 353.0L630.0 347.0L627.0 344.0L622.0 342.0Z" fill="#f0702a" fill-rule="evenodd"/>
<path d="M581.0 368.4L582.0 374.0L584.0 379.0L588.0 380.0L597.0 376.0L605.0 372.0L612.0 367.4L609.0 361.4L610.0 358.4L600.0 361.4L592.0 363.4L586.0 364.4Z" fill="#fee6d3" fill-rule="evenodd"/>
<path d="M687.5 257.5L686.8 256.8L684.1 260.4L681.4 262.2L678.7 265.8L675.0 268.6L677.8 273.1L675.9 277.2L672.3 279.6L668.7 281.9L665.1 283.2L662.4 285.7L662.6 288.9L664.4 291.2L667.4 293.0L669.6 295.7L672.3 298.4L675.0 299.0L680.0 302.0L681.0 310.6L684.0 316.6L687.0 319.6L690.0 318.6L698.0 322.0L706.0 325.6L711.4 327.6L713.0 327.6L719.0 326.6L722.4 329.2L724.0 329.6L730.0 325.2L734.4 323.2L739.4 328.0L742.0 331.6L744.0 337.6L747.0 343.6L751.0 347.6L751.0 349.6L755.0 349.0L760.0 347.0L764.0 344.4L768.0 346.0L772.0 348.0L777.0 349.0L780.0 350.4L785.0 350.0L790.4 350.0L795.4 348.0L799.8 344.2L803.0 339.2L805.6 333.4L807.4 327.2L807.0 322.0L804.2 316.4L800.4 310.6L796.6 306.2L795.4 301.8L798.0 299.2L799.8 296.0L794.2 294.2L790.4 292.8L786.4 291.6L784.6 289.0L787.8 285.8L791.6 283.4L794.8 283.8L797.2 285.2L796.0 287.8L796.6 290.4L800.4 289.0L804.2 285.8L808.0 282.0L810.0 277.0L813.0 273.0L814.0 267.0L817.0 264.0L816.4 257.6L813.0 259.0L806.0 257.0L799.0 253.0L792.0 249.0L786.0 245.0L780.0 241.0L773.0 241.0L771.2 241.2L770.0 247.5L765.0 251.2L767.5 256.2L775.0 258.8L773.8 262.5L765.0 265.0L760.0 270.0L752.5 273.8L742.5 277.5L732.5 275.0L722.5 272.5L712.5 267.5L702.5 265.0L697.5 260.0L690.0 255.0Z" fill="#8a2e1c" fill-rule="evenodd"/>
<path d="M777.0 356.0L778.0 362.0L781.0 361.0L782.4 357.0L780.0 354.0Z" fill="#8a2e1c" fill-rule="evenodd"/>
<path d="M808.1 339.2L807.5 342.4L808.1 346.2L810.4 347.5L811.7 341.1L810.6 337.3Z" fill="#8a2e1c" fill-rule="evenodd"/>
<path d="M802.0 285.0L805.0 289.0L807.0 292.4L810.0 291.6L814.0 288.0L813.0 283.0L815.6 279.0L813.6 276.0L810.0 277.4L806.0 281.4Z" fill="#e2ddd8" fill-rule="evenodd"/>
<path d="M811.0 292.4L812.0 296.0L813.6 300.0L816.0 304.4L820.0 302.4L821.6 298.0L819.0 293.0L815.0 290.4Z" fill="#de5426" fill-rule="evenodd"/>
<path d="M842.0 268.0L842.0 273.0L841.0 277.0L844.0 280.0L847.0 277.0L852.0 275.6L854.0 271.6L848.0 271.0L844.0 266.4Z" fill="#f0702a" fill-rule="evenodd"/>
<path d="M845.0 282.0L846.0 288.0L845.0 293.0L841.0 296.0L840.0 300.0L834.0 303.0L829.0 306.0L826.0 310.0L831.0 308.0L834.0 306.0L838.0 307.0L842.0 308.0L845.0 305.0L850.0 304.0L853.6 300.0L853.0 293.0L851.0 287.0L849.0 281.0Z" fill="#f0702a" fill-rule="evenodd"/>
<path d="M826.0 310.4L828.0 315.0L830.0 317.0L832.0 313.0L830.0 309.0Z" fill="#f0702a" fill-rule="evenodd"/>
<path d="M834.0 308.0L834.4 310.4L839.0 310.0L839.0 307.6Z" fill="#f0702a" fill-rule="evenodd"/>
<path d="M751.0 352.0L752.0 358.0L754.0 363.0L758.0 363.0L763.0 367.0L767.0 371.0L770.0 377.0L773.6 377.0L773.0 372.0L769.0 366.0L764.0 362.0L760.0 357.0L758.0 351.6L755.0 349.0Z" fill="#e2ddd8" fill-rule="evenodd"/>
<path d="M757.0 348.0L758.4 351.6L760.4 357.0L764.4 362.0L769.4 366.0L773.6 372.0L775.0 376.0L777.0 381.0L775.0 385.0L771.0 388.0L769.0 392.0L771.0 395.0L776.0 390.0L780.0 386.0L781.0 381.0L779.0 375.0L775.0 370.0L771.0 365.0L768.0 360.0L770.0 357.0L773.0 353.0L770.0 350.0L766.0 347.0L761.0 346.0Z" fill="#de5426" fill-rule="evenodd"/>
<path d="M746.0 358.0L745.0 363.0L748.0 369.0L750.0 375.0L751.0 382.0L750.0 388.0L749.0 392.0L750.0 399.0L753.0 404.0L757.0 407.0L759.0 406.0L756.0 404.0L753.0 399.0L751.0 394.0L752.0 388.0L753.0 382.0L756.0 381.0L760.0 383.0L762.0 379.0L765.0 377.0L769.0 377.0L767.0 371.4L763.0 367.4L758.0 363.4L754.0 363.4L751.6 358.0L749.0 355.0Z" fill="#f58b4c" fill-rule="evenodd"/>
<path d="M762.0 379.4L760.4 383.0L763.0 386.0L767.0 389.0L771.0 388.0L774.0 385.0L775.0 380.0L773.6 377.4L765.4 377.4Z" fill="#f9a66e" fill-rule="evenodd"/>
<path d="M756.0 404.4L756.4 408.0L758.0 412.0L761.0 417.0L765.0 421.0L768.0 421.0L766.0 415.0L763.0 410.0L759.6 406.4Z" fill="#f9a66e" fill-rule="evenodd"/>
<path d="M741.0 408.0L743.0 412.0L747.0 416.0L752.0 422.0L757.0 429.0L762.0 436.0L767.0 442.0L772.0 446.0L774.0 441.0L773.0 434.0L769.0 428.0L764.0 423.0L758.0 418.0L752.0 412.0L746.0 407.0Z" fill="#f58b4c" fill-rule="evenodd"/>
<path d="M772.0 448.0L776.0 452.0L786.0 454.0L798.0 456.0L810.0 457.0L810.0 455.0L802.0 453.0L794.0 450.0L786.0 449.0L778.0 447.0Z" fill="#f58b4c" fill-rule="evenodd"/>
<path d="M783.0 423.0L784.0 429.0L786.0 434.0L790.0 438.0L795.0 437.0L800.0 440.0L804.0 439.0L807.0 434.0L809.0 429.0L812.0 424.0L811.0 420.0L810.0 414.0L807.0 412.0L803.0 415.0L798.0 419.0L792.0 422.0L787.0 420.0Z" fill="#f58b4c" fill-rule="evenodd"/>
<path d="M784.0 421.0L787.0 420.4L792.0 422.0L798.0 419.0L803.0 415.0L807.0 412.0L810.0 411.0L812.0 407.0L807.0 402.0L804.0 404.0L800.0 410.0L795.0 415.0L790.0 418.0Z" fill="#f9a66e" fill-rule="evenodd"/>
<path d="M814.0 426.0L813.0 431.0L814.0 436.0L814.0 442.0L816.0 445.0L817.0 440.0L819.0 437.0L820.0 442.0L823.0 445.0L824.0 441.0L821.0 435.0L824.0 434.0L826.0 430.0L823.0 431.0L820.0 428.0L824.0 426.0L829.0 424.0L831.0 421.0L828.0 422.0L822.0 424.0L817.0 423.0Z" fill="#f58b4c" fill-rule="evenodd"/>
<path d="M812.8 361.7L811.7 366.7L812.2 371.7L814.4 375.6L816.7 377.8L820.0 378.9L823.3 381.7L826.1 381.1L823.9 377.2L820.6 376.7L817.2 373.9L817.8 370.0L818.9 365.0L817.2 361.1Z" fill="#f58b4c" fill-rule="evenodd"/>
<path d="M814.4 379.1L815.6 381.7L817.8 382.8L817.2 380.6Z" fill="#f58b4c" fill-rule="evenodd"/>
<path d="M819.4 385.0L820.6 388.3L822.2 391.7L824.4 393.9L826.1 390.6L828.9 389.4L831.1 387.2L830.6 383.9L828.3 383.3L826.7 386.7L823.9 388.3L822.8 385.6Z" fill="#f58b4c" fill-rule="evenodd"/>
<path d="M826.7 382.2L827.8 384.4L829.4 386.1L831.1 385.6L829.4 382.8Z" fill="#f58b4c" fill-rule="evenodd"/>
<path d="M821.1 400.6L821.7 402.2L823.9 400.6L826.1 398.9L828.3 400.6L828.9 404.4L831.1 406.7L833.3 405.0L834.8 401.7L833.9 396.7L832.2 392.8L829.4 394.4L826.7 396.1L823.3 397.8Z" fill="#f58b4c" fill-rule="evenodd"/>
<path d="M806.1 396.1L807.2 396.7L810.0 392.8L813.3 388.3L812.8 387.2L809.4 391.1Z" fill="#f58b4c" fill-rule="evenodd"/>
<path d="M839.0 420.0L839.0 424.0L840.0 428.0L842.0 425.0L841.0 419.0Z" fill="#f58b4c" fill-rule="evenodd"/>
<path d="M835.0 437.0L835.0 439.0L848.0 439.0L848.0 437.0Z" fill="#f58b4c" fill-rule="evenodd"/>
<path d="M849.0 429.0L850.0 432.0L854.0 434.0L859.6 440.8L865.0 444.9L870.4 448.9L869.1 454.3L873.1 455.7L878.0 457.0L879.0 435.0L873.0 432.0L867.0 433.0L862.0 436.0L858.0 434.0L859.0 430.0L854.0 428.0Z" fill="#f58b4c" fill-rule="evenodd"/>
<path d="M879.0 435.4L878.5 446.2L879.9 457.0L886.6 457.0L892.0 455.7L897.4 457.0L902.8 461.1L906.9 462.4L905.5 457.0L902.8 451.6L897.4 446.2L892.0 442.2L885.3 438.1Z" fill="#f9a66e" fill-rule="evenodd"/>
<path d="M902.0 445.0L903.0 447.0L908.0 447.0L913.0 444.0L916.0 439.0L914.0 437.0L912.0 441.0L907.0 444.0Z" fill="#f9a66e" fill-rule="evenodd"/>
<path d="M813.7 457.0L815.1 459.2L823.2 457.5L823.2 455.7Z" fill="#f58b4c" fill-rule="evenodd"/>
<path d="M828.6 456.5L829.4 457.8L836.7 456.5L836.7 455.1Z" fill="#e2ddd8" fill-rule="evenodd"/>
<path d="M805.6 456.2L805.6 457.8L811.0 457.8L811.0 456.2Z" fill="#f58b4c" fill-rule="evenodd"/>
<path d="M784.0 546.1L786.7 548.8L792.1 548.8L800.2 546.1L808.3 542.1L817.8 539.4L827.2 538.0L836.7 539.4L842.1 543.4L844.8 548.8L848.8 546.1L850.2 552.9L852.9 558.3L858.3 559.6L863.7 562.3L869.1 561.0L877.2 556.9L883.9 551.5L890.7 544.8L896.1 538.0L900.1 529.9L902.3 520.5L900.1 511.0L896.1 502.9L892.0 496.2L889.3 488.1L886.1 478.6L884.4 470.5L882.6 465.1L879.9 470.5L877.2 478.6L873.1 486.7L865.0 482.7L859.6 477.3L862.3 470.5L856.9 467.8L851.5 466.5L844.8 471.9L840.7 477.3L834.0 475.9L827.2 481.3L821.8 486.7L816.4 493.5L808.3 497.5L798.9 501.6L790.8 505.6L788.9 513.7L786.7 521.8L788.1 529.9L786.7 538.0Z" fill="#f9a66e" fill-rule="evenodd"/>
<path d="M856.9 570.4L856.9 574.5L859.6 578.5L863.7 575.8L865.0 569.1Z" fill="#f9a66e" fill-rule="evenodd"/>
<path d="M944.7 548.8L946.0 558.3L943.3 563.7L940.6 569.1L944.7 570.4L948.7 565.0L952.8 562.3L956.8 559.6L951.4 555.6L948.7 550.2Z" fill="#f58b4c" fill-rule="evenodd"/>
<path d="M939.3 570.4L935.2 571.8L929.8 575.8L921.7 579.9L913.6 583.9L907.7 587.1L910.9 589.3L919.0 586.6L927.1 582.6L935.2 578.5L942.0 573.1Z" fill="#f58b4c" fill-rule="evenodd"/>
<path d="M940.6 497.5L945.5 504.3L947.4 502.9L943.3 497.0Z" fill="#f0702a" fill-rule="evenodd"/>
<path d="M982.5 488.1L983.3 489.9L986.5 488.9L986.5 486.7Z" fill="#f9a66e" fill-rule="evenodd"/>
<path d="M987.9 484.0L987.9 485.4L991.4 485.4L991.4 484.0Z" fill="#f9a66e" fill-rule="evenodd"/>
<path d="M118.6 311.8L124.5 313.1M126.9 313.6L127.0 313.6L135.5 316.2L142.3 315.3L146.6 316.2L150.8 320.4L155.9 323.0L159.3 322.1L162.7 326.4L165.3 332.3L168.0 334.8M273.4 269.6L274.0 269.2L276.4 268.6L274.1 270.4M286.9 264.7L284.8 265.0L282.3 263.5M274.5 257.6L274.0 257.8L269.8 260.4L267.4 261.6L269.2 259.0L272.5 256.8M285.7 250.5L286.0 250.4L288.7 250.7M244.1 184.9L241.4 188.4L236.3 191.8L233.1 191.5M228.0 191.1L226.1 190.9L214.2 191.8L204.0 193.5L197.6 193.5M177.4 373.9L178.0 371.4L180.6 368.0L183.1 364.6L187.4 364.3L189.7 363.9M168.0 334.8L165.3 332.3L162.7 326.4L159.3 322.1L155.9 323.0L150.8 320.4L146.6 316.2L142.3 315.3L135.5 316.2L127.0 313.6L126.9 313.6M124.5 313.1L118.6 311.8M178.0 371.4L177.4 373.9M184.6 375.2L187.4 373.1L188.9 370.7M187.4 367.4L187.4 364.3L183.1 364.6L180.6 368.0L178.0 371.4M187.9 364.3L188.1 367.1M190.0 363.3L187.9 364.3M189.0 370.7L187.4 373.4L189.9 375.7L191.9 377.4M193.1 377.5L195.0 376.5L198.4 374.0L202.5 372.6M191.5 377.5L189.9 376.2L187.4 374.0L184.7 375.5M197.2 386.1L199.2 386.5M202.6 373.1L199.3 374.3L195.9 376.5L193.3 377.8M198.8 387.4L197.8 387.1M219.1 397.8L219.4 397.0M219.7 397.1L219.5 397.9M217.1 421.6L221.0 424.0L225.0 427.0L229.0 429.0L233.0 431.0L237.0 435.0L240.0 434.0L242.0 428.0L242.0 422.0L246.0 425.0L249.0 423.0L250.0 419.0L248.0 415.0L249.0 409.0L246.0 405.0L239.0 402.0L235.0 398.0L233.6 393.0L236.0 388.0L237.4 384.8M237.4 384.8L236.0 388.0L233.6 393.0L235.0 398.0L239.0 402.0L246.0 405.0L249.0 409.0L248.0 415.0L250.0 419.0L252.0 420.0L256.0 421.0L260.0 419.0L259.0 415.0L262.0 413.0L267.0 411.0L270.0 409.0L269.0 405.0L270.0 400.0L272.4 397.6M270.0 400.0L269.0 405.0L270.0 409.0L272.0 415.0L274.0 419.0L277.0 420.0L280.0 418.0L281.0 411.0L279.0 407.0M272.4 397.6L270.0 400.0M279.5 407.1L279.0 408.0L281.0 411.0L281.0 417.6L285.0 418.0L289.0 417.0L288.0 411.0L288.8 407.2M289.2 407.3L288.4 411.0L289.4 417.4L293.0 417.0L295.9 411.8M209.9 437.9L212.0 440.0L215.0 441.0L219.0 436.0L223.0 432.0L225.0 427.6L221.0 424.4L216.9 422.1M244.6 488.9L246.6 486.4L247.0 482.0L245.0 476.0L246.0 470.0L245.0 464.0L241.0 465.0L238.0 460.0L233.0 455.0L231.0 450.0L233.0 445.0L238.0 441.0L241.6 438.0L240.0 434.4L237.0 435.4L233.0 431.4L229.0 429.4L225.4 428.0L223.4 432.4L219.4 436.4L215.0 441.4L212.0 440.4L209.9 438.7M246.0 464.0L247.0 472.0L246.0 478.0L246.6 486.0L248.0 491.0L250.0 497.0L252.0 503.0L254.0 507.0L257.0 504.0L261.0 505.0L265.0 504.0L269.0 502.0L270.0 497.0L274.0 495.0L279.0 495.0L280.0 492.0L281.0 487.0L279.0 482.0L274.0 480.0L273.0 474.0L269.0 472.0L263.0 469.0L257.0 466.0L255.0 461.0L251.0 462.0L246.0 464.0M270.0 497.0L269.0 502.0L270.0 505.0L274.0 508.0L279.0 511.0L284.0 515.0L283.0 520.0L286.0 522.4L291.0 521.0L294.0 517.4L293.0 512.4L289.0 508.4L286.0 505.4L282.0 503.0L281.0 498.4L279.0 495.4L274.0 495.0L270.0 497.0M289.0 533.4L288.0 539.0L289.3 543.5M301.3 540.4L301.0 538.4L296.0 535.4L291.0 532.4L289.0 533.4M282.4 618.1L282.0 617.7L278.8 614.8L278.0 612.3M276.3 609.2L273.2 609.2L268.4 608.4L264.4 605.2L262.0 600.4L260.4 594.0L259.6 587.6L258.0 581.2L255.6 574.8L255.6 566.8L254.8 558.8L254.0 549.2L252.4 539.6L252.0 530.0L252.0 522.0L252.4 514.0L254.0 507.4L252.0 503.4L250.0 497.4L248.0 491.4L246.6 486.4L244.3 488.7M254.0 507.4L252.4 514.0L252.0 522.0L252.0 530.0L252.4 539.6L254.0 549.2L254.8 558.8L255.6 566.8L255.6 574.8L258.0 581.2L259.6 587.6L260.4 594.0L262.0 600.4L264.4 605.2L268.4 608.4L273.2 609.2L276.3 608.8M289.2 543.5L288.0 539.4L289.0 533.4L292.0 528.4L296.0 524.4L297.0 520.4L294.0 518.0L291.0 521.4L286.0 522.8L283.0 520.4L284.0 515.4L279.0 511.4L274.0 508.4L270.0 505.4L269.0 502.4L265.0 504.4L261.0 505.4L257.0 504.4L254.0 507.4M278.0 612.3L278.8 614.8L282.7 618.1M242.4 422.4L242.4 428.4L240.4 434.4L242.0 438.0L238.4 441.4L233.4 445.4L231.4 450.4L233.4 455.4L238.4 460.4L241.4 465.4L245.4 464.4L251.0 462.0L255.0 461.0L257.0 466.0L263.0 469.0L269.0 472.0L273.0 474.0L274.0 480.0L279.0 482.0L281.0 487.0L280.0 490.0L279.0 495.4L281.0 498.4L282.0 503.0L286.0 505.4L289.0 508.4L293.0 512.4L294.0 517.4L297.0 520.0L296.0 524.0L292.0 528.0L289.0 533.0L291.0 532.0L296.0 535.0L301.0 538.0L301.6 539.9M296.3 412.4L293.4 417.4L289.4 417.8L285.4 418.4L280.4 418.4L277.4 420.4L274.4 419.4L272.4 415.4L270.4 409.4L267.4 411.4L262.4 413.4L259.4 415.4L260.4 419.4L256.4 421.4L252.4 420.4L250.4 419.4L249.4 423.4L246.4 425.4L242.4 422.4M485.4 220.3L487.6 213.1L489.0 206.5L492.4 199.8L496.7 194.1L501.4 190.3L507.1 188.8L511.1 191.2L514.8 191.2L519.5 188.4L521.9 186.9L524.8 188.8L527.1 187.6L528.0 186.4M513.7 198.6L513.3 196.2L511.0 191.4L507.1 189.0L501.4 190.5L496.7 194.3L492.4 200.0L489.0 206.7L487.6 213.3L485.6 220.5M527.8 215.2L530.0 213.3L532.9 208.6L531.0 204.8L529.0 199.0L526.7 194.3L524.8 189.0L521.9 187.1L519.5 188.6L514.8 191.2L511.1 191.4L513.3 196.2L513.7 198.6M518.9 224.0L521.4 224.3L525.7 224.3L526.1 222.3M515.0 229.2L517.6 228.6L521.9 228.9M527.1 227.7L527.1 226.7L523.3 225.2L519.3 224.8M513.0 234.2L515.7 235.2L519.5 236.2L523.3 234.3L524.8 231.7M521.9 229.4L517.6 229.0L515.2 229.7M524.8 233.6L522.4 236.8L517.6 237.6L519.0 240.9M523.3 244.1L532.0 244.8L537.6 244.0L539.2 240.0L535.2 235.2L532.0 232.0L529.7 230.8M526.0 232.6L524.8 233.6M467.5 245.4L467.8 245.5L469.0 245.2L469.8 245.2M465.9 248.7L467.2 249.4L468.5 250.3M469.1 246.7L469.0 246.7L467.0 246.4M475.5 255.7L476.0 257.6L480.8 258.1L485.6 258.4L490.4 258.4L491.2 255.2L488.8 252.0L490.4 248.8L493.6 247.2L494.9 243.5L494.1 239.5M487.3 236.3L486.3 236.1M494.5 239.3L494.9 243.5L495.2 247.5L500.0 248.8L504.0 250.4L509.6 251.2L515.2 252.0L518.9 250.4L518.3 248.2M518.8 241.0L517.3 237.6L513.4 235.8M489.6 249.6L490.4 252.0L493.6 254.4L498.4 254.4L502.4 253.3L504.0 250.7L500.0 249.1L493.6 247.5L489.6 249.6M503.2 253.3L501.9 255.5L504.8 256.5L509.6 256.0L514.4 255.2L515.2 252.5L506.4 252.0L503.2 253.3M483.2 259.2L487.2 261.6L492.0 261.9L495.5 261.1M501.1 258.4L501.9 256.0L498.4 254.9L491.2 255.5L490.4 258.7L483.2 259.2M473.6 260.8L474.7 262.7M481.8 262.6L483.2 261.9L482.4 259.7L476.8 259.2L473.6 260.8M503.5 262.0L507.2 262.4L507.7 262.3M513.4 260.2L516.0 257.6L514.4 255.5L504.8 256.8L501.6 258.7M452.1 273.1L456.0 274.4L461.6 276.0L461.7 275.9M474.6 270.8L475.6 268.8M474.6 262.8L473.6 260.8L476.0 257.9L475.5 255.7M467.7 251.0L465.6 250.1L464.0 249.3M431.4 278.6L435.2 279.2L433.6 284.0L435.2 290.4L434.6 292.9M461.5 276.6L456.8 275.2L452.0 274.4L451.9 274.4M434.3 292.9L434.9 290.4L433.6 284.3L435.2 279.5L431.5 279.3M476.2 268.9L476.6 270.3M493.0 265.4L493.6 262.9L488.8 261.9L483.2 262.4L483.0 262.6M492.8 262.9L493.3 264.8L496.0 264.8L498.3 263.4M495.8 261.7L492.8 262.9M493.6 265.3L493.6 265.3M502.0 272.8L500.8 271.2L499.2 267.2L502.4 266.1L506.4 266.4L507.2 264.0L503.9 263.1M498.8 263.7L496.5 265.1L493.6 265.3M499.5 267.5L501.6 271.5L504.0 273.1M507.1 269.5L506.7 266.7L502.7 266.4L499.5 267.5M507.2 264.0L507.2 269.5M508.1 272.9L510.4 275.2L513.6 273.6L514.4 274.4L518.2 276.0L517.9 271.5L514.7 269.3L513.4 266.8M508.7 263.3L507.2 264.0M509.8 277.5L510.4 275.2L508.1 274.1M510.9 274.4L512.0 277.9L514.4 276.8L513.6 274.1L510.9 274.4M511.9 285.4L512.8 283.2L512.0 277.6L510.5 278.1M512.8 278.4L513.1 282.1L516.0 281.6L518.9 280.0L517.6 276.8L512.8 278.4M513.6 266.7L514.4 268.8L517.6 270.9L522.4 271.5L527.2 270.9L531.1 271.1M535.4 265.0L534.4 264.0L532.0 260.0L528.8 256.8L522.4 257.1L516.0 257.9L513.6 260.4M517.9 271.5L518.4 276.0L520.8 278.9L525.6 279.2L528.5 278.2M531.1 271.5L527.2 271.2L522.4 272.0L517.9 271.5M529.6 256.8L532.3 260.0L533.9 263.5L535.5 264.0L535.2 260.0L532.0 256.0L529.6 256.8M518.3 248.2L518.9 250.4L515.2 252.5L516.0 257.9L522.4 257.1L528.8 256.8L532.0 256.0L535.2 260.0L535.5 264.0L536.6 264.0M560.5 258.3L562.4 256.0L560.8 252.0L554.4 249.6L548.0 248.0L544.0 244.8L537.6 244.0L532.0 244.8L523.3 244.1M512.8 283.2L512.3 285.9M529.3 281.5L529.7 280.7M526.9 279.9L525.6 280.0L520.0 281.6L516.0 281.6L512.8 283.2M530.1 280.6L529.8 281.5M533.5 282.0L535.1 281.2M576.6 294.1L582.4 293.6L581.6 290.4L580.0 285.6L577.6 283.2L577.1 283.1M536.6 282.7L536.1 282.9M420.3 328.0L428.0 328.0L430.0 325.0L436.0 320.0L441.0 317.0L447.0 314.0L449.0 309.0L448.2 303.9M409.0 348.8L414.0 348.0L415.0 342.0L420.0 340.0L421.0 335.0L428.0 334.0L428.0 328.4L420.1 328.4M405.9 367.8L410.0 367.0L414.0 370.0L418.0 372.0L432.0 372.0L436.0 371.0L435.0 355.0L436.0 339.0L435.0 334.0L428.0 329.0L428.0 334.4L421.0 335.4L420.0 340.4L415.0 342.4L414.0 348.4L408.9 349.3M429.0 325.0L428.4 329.0L435.0 334.0L436.0 338.4L440.0 341.0L450.0 348.0L460.0 355.0L465.0 359.0L471.0 354.0L480.0 348.0L488.0 343.0L483.0 338.0L481.0 332.0L482.0 323.0L481.0 315.0L478.0 311.0L476.0 304.0L476.8 298.4M448.7 303.9L449.4 309.4L447.0 314.4L441.0 317.4L436.0 320.4L429.0 325.0M477.3 298.4L476.4 304.0L478.4 311.0L481.4 315.4L484.0 314.0L485.5 310.9M484.0 314.4L481.4 315.4L482.4 323.4L481.4 332.4L483.4 338.4L488.4 343.4L494.0 346.0L500.0 343.0L512.0 347.0L522.0 352.0L523.0 355.0L527.0 355.0L526.0 329.0L527.0 321.0L525.5 315.8M485.9 311.2L484.0 314.4M526.6 315.9L527.4 321.0L527.0 329.0L528.0 348.0L556.0 348.0L558.3 345.7M548.9 324.2L548.0 322.0L549.7 323.7M554.5 324.2L555.0 323.0L553.4 319.1M527.4 348.4L527.4 355.0L525.0 356.0L525.0 363.0L523.0 369.0L521.0 375.0L520.0 384.0L520.0 389.0L524.0 392.4L528.0 391.0L532.0 393.4L536.0 392.4L541.0 393.0L545.0 390.4L549.0 389.0L551.0 385.0L552.4 389.4L554.0 398.0L556.0 394.0L559.0 389.0L562.0 384.0L564.0 380.0L562.7 376.0M562.4 370.4L566.3 365.0M558.7 346.5L556.0 348.4L527.4 348.4M498.0 346.0L499.0 355.0L500.0 363.0L498.0 370.0L495.0 377.0L496.4 384.0L497.4 388.0L496.0 392.4L499.0 395.0L501.0 398.4L503.0 399.4L508.0 396.0L513.0 393.0L518.0 389.4L520.0 388.8L520.0 384.0L520.6 375.4L522.4 369.4L525.0 363.0L525.0 356.4L523.0 355.4L522.0 352.4L512.0 347.4L501.0 343.4L498.0 346.0M465.4 359.4L465.4 365.0L464.0 371.0L459.0 372.0L457.0 375.0L460.0 377.0L464.0 380.0L468.0 378.0L474.0 379.0L480.0 380.0L486.0 379.0L491.0 381.0L495.6 380.0L495.0 376.6L497.6 370.0L499.6 363.0L498.6 355.0L497.6 346.6L494.0 346.4L488.4 343.6L480.4 348.4L471.4 354.4L465.4 359.4M436.4 339.0L435.4 355.0L436.4 371.0L432.0 372.4L418.4 372.4L418.4 379.0L422.0 382.0L426.9 383.6M434.1 388.3L437.0 389.0L440.0 386.0L443.0 383.0L447.0 379.0L451.0 376.0L456.6 375.0L458.6 372.0L463.6 371.0L465.0 365.4L465.0 359.4L460.4 355.4L450.4 348.4L440.4 341.4L436.4 339.0M404.5 382.9L408.0 382.6L414.0 383.0L420.0 382.4L418.4 379.0L418.0 373.0L414.0 370.4L410.0 367.4L405.9 368.3M409.2 386.5L411.0 385.0L408.0 383.0L404.6 383.3M408.4 383.0L411.4 385.0L409.7 386.7M415.7 390.5L418.0 389.0L422.0 390.0L425.0 394.0L428.0 396.0L431.0 393.0L430.3 389.3M426.9 384.0L422.4 382.4L420.0 382.8L414.0 383.4L408.4 383.0M419.6 397.4L422.0 395.0L421.6 390.4L418.0 389.4L415.8 390.9M429.6 405.7L428.0 401.0L425.0 394.4L422.4 395.0L420.0 397.7M428.4 396.4L428.4 401.0L429.7 405.8M443.9 408.1L443.0 401.0L443.6 393.0L441.0 390.0L437.4 389.4L434.1 388.6M430.6 389.3L431.4 393.0L428.4 396.4M437.4 389.0L441.0 390.0L444.0 393.0L445.0 387.4L454.0 386.6L458.0 386.0L461.0 383.0L463.6 380.4L460.0 377.4L457.0 375.4L451.4 376.4L447.4 379.4L443.4 383.0L440.4 386.0L437.4 389.0M444.4 387.8L444.0 393.0L443.4 401.0L444.2 408.1M456.7 404.2L455.6 401.0L455.0 393.0L454.0 387.0L444.4 387.8M454.4 387.0L455.4 393.0L456.0 401.0L456.8 404.1M458.4 403.8L458.0 395.0L457.6 386.6L454.4 387.0M458.0 386.4L458.4 395.0L458.8 403.7M462.0 403.1L462.4 391.0L465.0 386.0L464.0 381.0L461.0 383.4L458.0 386.4M464.4 380.6L465.4 386.0L462.8 391.0L463.0 403.0M477.5 411.2L480.0 407.0L484.0 405.0L489.0 400.0L492.0 395.0L495.2 389.0L495.6 380.4L491.4 381.4L486.4 379.4L480.4 380.4L474.4 379.4L468.4 378.4L464.4 380.6M480.0 404.0L478.0 407.0L476.0 410.0L476.7 411.0M482.9 418.5L486.5 418.5L490.0 418.5L495.0 418.5L498.4 418.5M500.5 415.7L499.5 414.0L497.5 410.0L497.0 405.0L499.0 401.0L501.0 398.5L499.0 395.0L496.0 392.5L496.0 386.0L494.0 389.0L491.0 393.0L488.0 398.0L485.0 401.5L480.0 404.0M497.0 405.0L497.5 410.0L499.5 414.0L500.5 415.7M507.7 413.0L507.9 412.7M517.6 409.9L520.0 411.5L523.0 410.0L527.0 409.0L532.0 408.5L537.0 409.5L535.0 407.0L532.0 403.0L528.0 399.0L525.0 395.0L523.0 392.0L520.0 389.0L518.0 389.5L513.0 393.0L508.0 396.0L503.0 399.5L499.0 401.0L497.0 405.0M524.0 392.5L525.0 395.0L528.0 399.0L532.0 403.0L535.0 407.0L537.0 409.5L540.0 410.5L545.5 413.5L550.0 413.0L554.0 412.5L557.0 410.0L559.5 406.5L557.0 402.0L554.0 398.0L554.5 393.0L552.5 389.5L551.0 385.0L549.0 389.0L545.0 390.5L541.0 393.0L536.0 392.5L532.0 393.5L528.0 391.0L524.0 392.5M564.0 380.0L562.0 384.0L559.0 389.0L556.0 394.0L554.0 398.0L557.2 402.0L559.6 406.4L560.0 409.8L565.0 411.8L570.0 413.2L574.0 411.8L576.5 412.1M583.6 412.0L584.0 412.0L590.0 407.0L596.0 400.0L592.0 399.0L585.2 395.6M581.5 386.2L579.0 382.0L574.0 377.0L568.8 374.4M563.2 375.9L564.0 380.0M568.8 374.4L574.0 377.0L580.0 384.0L581.5 383.4M566.4 365.3L562.9 370.6M580.0 384.0L580.4 387.8M582.1 384.0L580.0 384.0M486.0 420.7L486.0 419.6L482.9 419.6M487.1 438.4L490.0 437.0L492.0 433.0L496.0 432.0L497.0 427.0L494.0 424.0L493.0 419.6L488.0 419.0L486.9 420.7M493.0 419.6L494.4 424.0L497.4 427.4L496.4 432.4L492.4 433.4L490.4 437.4L487.2 438.7M489.8 442.5L492.0 443.0L497.0 441.0L501.0 437.0L505.0 432.0L508.0 426.0L510.0 420.0L509.2 415.5M498.1 419.0L498.0 419.0L493.0 419.6M510.1 415.0L510.4 420.0L508.4 426.4L505.4 432.4L501.4 437.4L497.4 441.4L492.4 443.4L489.9 443.1M490.9 448.0L496.0 448.0L503.0 449.0L507.0 454.0L513.0 452.0L519.0 453.0L520.0 460.0L521.0 465.0L527.0 466.0L533.0 467.0L537.0 471.0L541.0 469.0L539.0 464.0L540.0 458.0L547.0 457.0L546.0 454.0L543.0 448.0L541.0 442.0L542.0 436.0L543.0 430.0L546.0 424.0L548.0 418.0L546.0 414.0L540.0 411.0L532.0 408.0L524.0 409.0L517.6 409.8M489.9 486.9L495.0 486.4L503.0 487.0L514.0 488.0L522.0 488.0L520.0 484.0L520.0 477.0L523.0 476.0L526.0 472.0L527.0 466.4L521.0 465.4L520.0 460.0L519.0 453.4L513.0 452.4L507.0 454.4L503.0 449.4L496.0 448.4L491.0 448.4M520.0 477.4L520.4 484.0L522.4 488.4L528.0 489.0L533.0 487.0L537.0 483.0L542.0 480.0L544.0 477.0L547.9 474.6M551.8 466.6L551.0 462.0L547.4 457.4L540.4 458.4L539.4 464.4L541.4 469.4L537.4 471.4L533.4 467.4L527.4 466.8L526.4 472.4L523.4 476.4L520.0 477.4M552.0 462.4L552.3 466.4M553.5 475.2L555.0 479.0L557.0 484.0L559.0 480.0L558.0 474.0L555.6 468.0L554.4 461.0L552.0 462.4M556.0 469.0L558.4 474.4L559.4 480.4L557.4 484.4L555.4 479.4L552.9 475.3M548.2 475.1L544.4 477.4L543.0 481.0L549.0 484.0L552.0 488.0L551.0 494.0L547.4 498.5M546.7 513.7L546.0 516.0L547.6 519.1M573.1 464.3L564.0 467.0L556.0 469.0M529.0 489.4L530.0 492.0L532.0 496.0L536.0 501.0L540.0 505.0L543.9 504.2M547.7 498.6L551.0 494.0L552.0 488.4L549.4 484.4L542.4 480.4L537.4 483.4L533.4 487.4L529.0 489.4M514.0 492.0L514.0 504.0L513.0 512.0L514.0 521.0L518.0 520.0L522.0 516.0L528.0 517.0L530.0 513.0L535.0 509.0L539.6 505.4L535.6 501.4L531.6 496.0L529.0 489.8L525.0 489.0L522.0 491.0L514.0 492.0M503.3 527.6L505.6 528.4L510.4 528.9L512.5 522.0L513.6 526.0L513.0 512.0L514.0 504.0L514.0 492.0L522.0 491.0L525.0 489.4L522.0 488.4L514.0 488.4L503.0 487.4L495.0 486.8L489.9 487.3M548.2 518.0L548.0 516.4L547.2 513.7M543.5 505.2L540.0 505.2L536.0 506.8L532.0 511.6L528.0 516.4L522.4 515.6L516.8 520.4L513.6 516.4L512.8 522.0L510.4 529.2L503.4 527.8M543.2 518.8L544.0 522.0L546.4 522.8L547.6 520.3M547.6 519.2L545.6 517.2L543.2 518.8M532.0 530.8L533.6 534.0L536.0 534.0L539.2 529.2L536.0 527.1L532.0 530.8M546.4 430.0L542.4 436.0L541.4 442.0L543.4 448.0L546.4 454.0L547.4 457.0L551.4 462.0L554.0 461.0L556.0 468.6L564.0 467.0L573.1 464.0M571.1 441.7L570.0 440.0L562.0 435.0L556.5 431.3M549.5 430.3L546.4 430.0M556.5 431.3L562.0 435.0L570.0 440.0L571.3 441.3M577.8 429.9L577.0 426.0L578.0 418.4M576.5 412.3L574.0 412.0L570.0 413.4L565.0 412.0L560.0 410.0L557.0 410.2L557.0 419.0L558.0 425.0L556.5 429.5M545.6 413.6L545.0 418.0L544.0 422.0L544.0 430.4L546.4 430.0L549.5 430.2M556.2 425.8L556.4 424.0L559.0 419.0L557.4 415.0L556.4 411.0L554.0 412.6L550.0 413.2L545.6 413.6M542.0 431.0L542.4 440.0L546.4 440.0L546.4 430.4L542.0 431.0M584.4 392.0L585.4 393.3L590.2 396.5L595.7 398.9L589.4 407.6L583.8 410.8L583.3 411.4M578.1 418.4L577.5 423.5L578.8 428.8M528.1 186.5L527.1 187.8L526.7 194.3L529.0 199.0L531.0 204.8L533.0 208.6L530.2 213.3L529.4 214.9M526.1 222.3L525.7 224.3L527.1 226.7L527.1 227.7M530.1 230.5L532.0 232.0L535.2 235.2L539.2 240.0L541.0 243.5L545.0 243.0L548.0 246.0L552.0 247.5L557.0 250.0L562.0 252.5L562.5 256.0L560.0 258.5L560.0 258.6M568.3 273.7L570.0 274.0L574.0 274.5L578.0 275.5L582.0 277.0L586.0 279.0L586.9 279.2M587.4 263.8L586.0 262.0L583.0 259.5L581.0 256.0L580.0 253.0L581.0 250.0L584.5 247.5L589.0 245.5L594.0 244.5L597.5 245.0L608.8 243.8L613.8 240.0L615.0 236.2L625.0 235.0L635.0 232.5L645.0 236.2L653.8 236.2L660.0 241.2L667.5 246.2L676.2 250.0L683.8 255.0L687.5 257.5L690.0 255.0L695.0 250.0L705.0 248.8L715.0 245.0L725.0 247.5L735.0 250.0L745.0 252.5L755.0 251.2L765.0 251.2L770.0 247.5L771.2 241.2L777.5 240.0L785.0 242.5L791.2 247.5L797.5 251.2L803.8 255.0L810.0 258.8L816.2 257.5L817.5 266.2L814.4 269.4M597.5 245.0L594.0 244.5L589.0 245.5L584.5 247.5L581.0 250.0L580.0 253.0L581.0 256.0L583.0 259.5L586.0 262.0L587.4 263.8M604.6 278.6L606.8 279.2L609.0 277.4L608.6 268.6L613.6 266.1L618.1 268.4L622.6 272.0L626.2 273.8L630.7 272.5L634.4 273.4L637.1 276.5L639.8 279.7L643.4 282.4L647.0 281.0L649.7 277.9L654.2 276.1L658.8 274.7L663.3 275.2L668.7 275.2L675.0 277.0L677.8 273.1L675.0 268.6L678.7 265.8L681.4 262.2L684.1 260.4L686.7 257.0L683.8 255.0L676.2 250.0L667.5 246.2L660.0 241.2L653.8 236.2L645.0 236.2L635.0 232.5L625.0 235.0L615.0 236.2L613.8 240.0L608.8 243.8L597.5 245.0M608.1 268.6L609.5 274.0L610.4 279.4L612.2 279.9L615.4 276.2L618.1 276.7L621.7 279.0L625.3 279.4L628.9 281.2L631.6 283.5L635.3 286.6L638.9 289.8L641.6 292.1L644.3 294.3L646.1 293.0L645.7 289.8L644.3 287.5L645.2 285.7L647.0 283.9L649.3 282.1L651.1 279.0L649.7 278.1L647.0 281.2L643.4 282.6L639.8 279.9L637.1 276.7L634.4 273.5L630.7 272.6L626.2 274.0L622.6 272.2L618.1 268.6L613.6 266.3L608.1 268.6M609.1 293.6L611.8 293.0L616.3 292.1L620.8 293.0L625.3 295.2L628.9 298.4L631.6 300.7L634.4 297.9L637.5 296.6L639.8 294.8L641.6 292.3L638.9 290.0L635.3 286.8L631.6 283.7L628.9 281.4L625.3 279.6L621.7 279.1L618.1 276.9L615.6 276.4L612.4 280.0L610.6 279.6L609.0 277.6L606.8 279.4L604.5 278.8M650.6 278.1L651.1 279.4L652.0 281.4L656.8 281.9L656.5 283.9L653.3 285.7L657.9 286.2L661.5 285.3L665.1 283.0L668.7 281.7L672.3 279.4L675.0 277.2L668.7 275.3L663.3 275.3L658.8 274.9L654.2 276.2L650.6 278.1M645.2 286.2L644.8 287.7L646.1 289.8L646.6 293.4L649.7 293.9L652.4 293.0L654.2 290.7L657.9 291.2L661.5 292.5L664.2 291.2L662.4 288.9L661.5 285.7L657.9 286.4L653.3 285.9L651.5 284.4L649.7 282.6L647.5 284.4L645.2 286.2M690.0 255.0L697.5 260.0L702.5 265.0L712.5 267.5L722.5 272.5L732.5 275.0L742.5 277.5L752.5 273.8L760.0 270.0L765.0 265.0L773.8 262.5L775.0 258.8L767.5 256.2L765.0 251.2L755.0 251.2L745.0 252.5L735.0 250.0L725.0 247.5L715.0 245.0L705.0 248.8L695.0 250.0L690.0 255.0M581.7 277.5L582.0 277.2L578.0 275.7L574.0 274.7L570.0 274.2L568.3 273.8M577.5 282.8L578.5 284.5L580.5 286.0L582.0 285.0L580.5 282.0L579.3 281.3M580.6 280.2L580.8 282.0L582.5 285.0L584.5 284.0L587.0 285.0L589.0 287.0L590.2 287.6M587.0 279.5L586.0 279.2L582.5 277.5L582.2 277.7M580.0 289.0L581.0 293.0L582.0 298.0L584.0 304.0L587.0 310.0L592.0 315.0L593.6 319.0M637.5 336.1L635.0 332.0L636.0 327.0L633.0 322.0L630.0 319.0L631.0 313.0L629.0 307.0L631.0 301.0L626.0 298.0L620.0 294.0L614.0 293.0L609.6 294.5M590.2 287.6L589.0 287.0L587.0 285.0L584.4 284.0L582.4 285.0L581.0 286.0L580.0 289.0M567.6 307.8L564.8 309.4L566.8 312.6L570.4 314.2L574.4 316.6L578.4 319.4L582.4 322.2L586.4 322.6L589.2 322.2L591.2 320.6L592.4 320.4M592.9 318.9L592.4 317.0L590.4 313.4L588.0 310.6L585.6 308.2L584.4 305.8L585.6 303.0L583.6 300.6L581.6 297.8L579.6 294.2L577.2 294.6L576.8 294.8M573.8 296.7L572.8 299.0L572.0 302.2L570.8 305.0L567.6 307.8M557.6 306.6L558.4 308.2L558.0 311.4L560.4 310.6L564.0 309.0L567.2 307.4L570.4 304.6L571.6 301.8L572.4 298.6L573.2 296.8M561.3 296.9L560.8 297.0L560.3 297.4M556.5 309.9L556.8 309.8L558.0 307.0L557.7 306.4M554.3 319.1L554.4 320.2L555.2 318.6L556.0 314.6L556.8 311.4L556.3 311.0M557.0 311.8L556.2 315.4L555.4 320.2L556.0 322.6L558.8 321.4L561.2 320.2L563.6 319.0L563.2 317.4L560.8 315.0L563.2 313.8L566.0 311.8L564.4 309.4L560.6 311.0L557.0 311.8M632.1 300.7L629.4 307.4L631.4 313.4L630.4 319.4L634.0 322.4L640.0 322.0L645.0 318.0L649.7 312.0L651.5 310.2L653.3 307.4L654.2 303.8L656.5 300.2L657.0 299.1M667.1 291.8L667.4 291.6L666.8 291.6M665.8 291.5L664.2 291.3L661.5 292.7L657.9 291.3L654.2 290.9L652.4 293.2L649.7 294.1L646.6 293.6L644.5 294.5L642.0 292.5L640.2 294.8L638.0 296.6L634.8 297.9L632.1 300.7M636.0 327.4L635.4 332.4L637.6 336.1M656.5 339.4L660.0 338.0L657.0 334.0L658.0 329.0L662.0 325.0L666.0 320.0L669.0 315.0L667.0 310.0L669.0 305.0L666.0 300.0L663.0 297.7M657.7 299.1L656.4 301.4L654.4 306.4L651.4 310.4L648.4 315.4L645.4 318.4L640.4 322.4L633.4 322.4L636.0 327.4M663.0 297.7L666.0 300.0L669.0 305.0L669.0 309.0L673.0 310.0L678.0 307.0L680.0 302.0L675.0 299.0L669.5 296.7M669.0 309.4L667.4 310.4L669.4 315.4L666.4 320.4L662.4 325.4L658.4 329.4L657.4 334.0L660.0 338.4L658.3 339.9M715.7 346.2L714.0 342.0L713.0 336.0L711.0 333.0L704.0 331.0L696.0 328.0L688.0 321.0L684.0 317.0L681.0 311.0L678.0 307.4L673.4 310.4L669.0 309.4M713.0 333.0L713.6 336.0L718.0 336.0L723.0 337.6L727.0 339.6L725.0 344.0L725.8 347.9M729.2 345.1L730.0 340.4L733.0 336.4L736.0 332.4L739.4 328.0L734.4 323.6L730.0 325.6L724.0 330.0L718.0 334.0L713.0 333.0M687.0 320.0L689.0 323.6L696.0 327.6L704.0 330.6L711.0 332.4L711.0 328.0L706.0 326.0L698.0 322.4L690.0 319.0L687.0 320.0M713.0 328.0L713.0 330.6L717.0 331.6L722.0 329.6L719.0 327.0L713.0 328.0M713.0 336.0L714.0 342.0L715.7 346.2M725.2 347.6L724.4 344.4L726.0 340.0L723.0 338.0L718.0 336.4L713.0 336.0M730.0 340.4L729.2 345.1M750.3 386.1L751.0 382.0L750.0 375.0L748.0 369.0L745.0 363.0L746.0 358.0L749.0 355.0L753.0 352.0L751.0 348.0L747.0 344.0L744.0 338.0L742.0 332.0L739.4 328.4L736.0 332.4L733.0 336.4L730.0 340.4M556.0 323.0L555.2 324.0L555.3 325.1M581.4 366.2L582.0 364.6L586.2 365.0L591.0 365.6L593.4 365.8L595.2 363.4L598.2 361.6L602.4 360.8L606.6 359.8L610.0 358.6L618.0 354.0L620.0 346.0L616.0 345.0L607.0 343.0L606.1 342.1M600.8 336.8L600.0 336.0L599.6 335.2M592.2 324.7L591.6 324.2L589.6 322.6L586.4 323.0L582.4 322.6L578.4 319.8L574.4 317.0L570.4 314.6L566.8 313.0L563.6 314.0L561.2 315.2L563.6 317.4L564.0 319.4L561.6 320.6L559.2 321.8L556.0 323.0M590.0 322.2L591.6 323.8L592.4 324.4M592.6 321.2L591.6 321.0L590.0 322.2M607.3 341.9L608.0 344.4L616.4 345.4L618.0 343.0L618.7 339.5M618.8 339.5L618.0 343.4L620.4 346.4L618.4 354.0L610.4 358.0L609.0 361.0L611.6 366.2M611.4 366.3L609.0 361.4L610.0 358.4L600.0 361.4L592.0 363.4L586.0 364.4L582.1 367.5M687.5 257.5L686.8 256.8L684.1 260.4L681.4 262.2L678.7 265.8L675.0 268.6L677.8 273.1L675.9 277.2L672.3 279.6L668.7 281.9L665.1 283.2L662.4 285.7L662.6 288.9L664.4 291.2L665.3 291.7M670.3 296.4L672.3 298.4L675.0 299.0L680.0 302.0L681.0 310.6L684.0 316.6L687.0 319.6L690.0 318.6L698.0 322.0L706.0 325.6L711.4 327.6L713.0 327.6L719.0 326.6L722.4 329.2L724.0 329.6L730.0 325.2L734.4 323.2L739.4 328.0L742.0 331.6L744.0 337.6L747.0 343.6L751.0 347.6L751.0 349.6L755.0 349.0L760.0 347.0L764.0 344.4L764.2 344.5M803.9 286.0L804.2 285.8L808.0 282.0L809.4 278.4M813.7 268.8L814.0 267.0L817.0 264.0L816.4 257.6L813.0 259.0L806.0 257.0L799.0 253.0L792.0 249.0L786.0 245.0L780.0 241.0L773.0 241.0L771.2 241.2L770.0 247.5L765.0 251.2L767.5 256.2L775.0 258.8L773.8 262.5L765.0 265.0L760.0 270.0L752.5 273.8L742.5 277.5L732.5 275.0L722.5 272.5L712.5 267.5L702.5 265.0L697.5 260.0L690.0 255.0L687.5 257.5M802.0 285.0L802.7 285.9M809.1 278.3L806.0 281.4L802.0 285.0M751.0 352.0L752.0 358.0L754.0 363.0L758.0 363.0L763.0 367.0L767.0 371.0L770.0 377.0L773.6 377.0L773.0 372.0L769.0 366.0L764.0 362.0L760.0 357.0L758.0 351.6L755.0 349.0L751.0 352.0M757.0 348.0L758.4 351.6L760.4 357.0L764.4 362.0L769.4 366.0L773.6 372.0L775.0 376.0L777.0 381.0L775.0 385.0L771.7 387.5M764.0 346.6L761.0 346.0L757.0 348.0M746.0 358.0L745.0 363.0L748.0 369.0L750.0 375.0L751.0 382.0L750.3 386.1M757.2 406.9L758.1 406.5M760.4 382.2L762.0 379.0L765.0 377.0L769.0 377.0L767.0 371.4L763.0 367.4L758.0 363.4L754.0 363.4L751.6 358.0L749.0 355.0L746.0 358.0M762.0 379.4L760.7 382.3M771.6 387.4L774.0 385.0L775.0 380.0L773.6 377.4L765.4 377.4L762.0 379.4M756.1 405.1L756.1 405.2M806.3 412.5L803.0 415.0L798.0 419.0L792.0 422.0L787.6 420.2M785.0 421.5L783.8 422.4M787.1 420.4L792.0 422.0L798.0 419.0L803.0 415.0L806.3 412.5M878.0 456.1L878.9 436.3M879.0 436.4L878.5 446.2L879.7 456.1" fill="none" stroke="#fff" stroke-width="0.7" stroke-linejoin="round" stroke-linecap="round" stroke-opacity="0.9"/>
<path d="M244.0 271.6L250.0 268.6L252.4 267.6L257.2 267.4L262.0 266.8L265.0 264.4L266.8 261.4L269.8 258.4L274.0 255.6L279.4 253.0" fill="none" stroke="#fff" stroke-width="1.2"/>
<path d="M136.2 188.0L110.0 215.0L112.5 218.8L118.8 221.2L122.5 227.5L123.8 235.0L121.2 240.0L120.0 247.5L123.8 252.5" fill="none" stroke="#fff" stroke-width="0.8"/>
<path d="M127.5 254.0L202.5 254.0" fill="none" stroke="#fff" stroke-width="0.8"/>
<path d="M190.0 254.0L202.0 253.6L208.0 257.8" fill="none" stroke="#fff" stroke-width="0.8"/>
</svg>
</body></html>
